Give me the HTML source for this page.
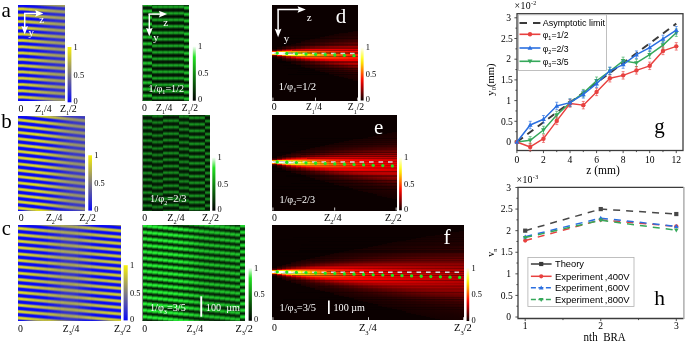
<!DOCTYPE html>
<html><head><meta charset="utf-8"><style>
html,body{margin:0;padding:0;background:#fff;width:685px;height:342px;overflow:hidden}
svg{display:block;will-change:transform}
.sf{font-family:"Liberation Serif",serif}
.ss{font-family:"Liberation Sans",sans-serif}
</style></head><body>
<svg width="685" height="342" viewBox="0 0 685 342" xmlns="http://www.w3.org/2000/svg">
<defs><linearGradient id="bb0" spreadMethod="repeat"><stop offset="0" stop-color="#0808f7"/><stop offset=".08" stop-color="#0808f7"/><stop offset=".17" stop-color="#1b1ae4"/><stop offset=".25" stop-color="#62609d"/><stop offset=".33" stop-color="#a8a557"/><stop offset=".42" stop-color="#d5d12a"/><stop offset=".5" stop-color="#e5e11a"/><stop offset=".58" stop-color="#d5d12a"/><stop offset=".67" stop-color="#a8a557"/><stop offset=".75" stop-color="#62609d"/><stop offset=".83" stop-color="#1b1ae4"/><stop offset=".92" stop-color="#0808f7"/><stop offset="1" stop-color="#0808f7"/></linearGradient>
<linearGradient id="b1" href="#bb0" gradientUnits="userSpaceOnUse" x1="0" x2="0" y1="5.75" y2="12.05"/>
<linearGradient id="b2" href="#bb0" gradientUnits="userSpaceOnUse" x1="0" x2="0" y1="5.75" y2="12.05"/>
<linearGradient id="b3" href="#bb0" gradientUnits="userSpaceOnUse" x1="0" x2="0" y1="5.75" y2="12.05"/>
<linearGradient id="bb1" spreadMethod="repeat"><stop offset="0" stop-color="#0808f7"/><stop offset=".08" stop-color="#0808f7"/><stop offset=".17" stop-color="#1e1ee1"/><stop offset=".25" stop-color="#62609d"/><stop offset=".33" stop-color="#a5a25a"/><stop offset=".42" stop-color="#d0cc2f"/><stop offset=".5" stop-color="#dfdb20"/><stop offset=".58" stop-color="#d0cc2f"/><stop offset=".67" stop-color="#a5a25a"/><stop offset=".75" stop-color="#62609d"/><stop offset=".83" stop-color="#1e1ee1"/><stop offset=".92" stop-color="#0808f7"/><stop offset="1" stop-color="#0808f7"/></linearGradient>
<linearGradient id="b4" href="#bb1" gradientUnits="userSpaceOnUse" x1="0" x2="0" y1="5.75" y2="12.05"/>
<linearGradient id="b5" href="#bb1" gradientUnits="userSpaceOnUse" x1="0" x2="0" y1="5.75" y2="12.05"/>
<linearGradient id="b6" href="#bb1" gradientUnits="userSpaceOnUse" x1="0" x2="0" y1="5.81" y2="12.11"/>
<linearGradient id="bb2" spreadMethod="repeat"><stop offset="0" stop-color="#0808f7"/><stop offset=".08" stop-color="#0808f7"/><stop offset=".17" stop-color="#2121de"/><stop offset=".25" stop-color="#62609d"/><stop offset=".33" stop-color="#a29e5d"/><stop offset=".42" stop-color="#cbc734"/><stop offset=".5" stop-color="#d9d526"/><stop offset=".58" stop-color="#cbc734"/><stop offset=".67" stop-color="#a29e5d"/><stop offset=".75" stop-color="#62609d"/><stop offset=".83" stop-color="#2121de"/><stop offset=".92" stop-color="#0808f7"/><stop offset="1" stop-color="#0808f7"/></linearGradient>
<linearGradient id="b7" href="#bb2" gradientUnits="userSpaceOnUse" x1="0" x2="0" y1="5.89" y2="12.19"/>
<linearGradient id="b8" href="#bb2" gradientUnits="userSpaceOnUse" x1="0" x2="0" y1="5.96" y2="12.26"/>
<linearGradient id="b9" href="#bb2" gradientUnits="userSpaceOnUse" x1="0" x2="0" y1="6.03" y2="12.33"/>
<linearGradient id="bb3" spreadMethod="repeat"><stop offset="0" stop-color="#0808f7"/><stop offset=".08" stop-color="#0808f7"/><stop offset=".17" stop-color="#2524da"/><stop offset=".25" stop-color="#62609d"/><stop offset=".33" stop-color="#9f9b60"/><stop offset=".42" stop-color="#c6c239"/><stop offset=".5" stop-color="#d3cf2c"/><stop offset=".58" stop-color="#c6c239"/><stop offset=".67" stop-color="#9f9b60"/><stop offset=".75" stop-color="#62609d"/><stop offset=".83" stop-color="#2524da"/><stop offset=".92" stop-color="#0808f7"/><stop offset="1" stop-color="#0808f7"/></linearGradient>
<linearGradient id="b10" href="#bb3" gradientUnits="userSpaceOnUse" x1="0" x2="0" y1="6.1" y2="12.4"/>
<linearGradient id="b11" href="#bb3" gradientUnits="userSpaceOnUse" x1="0" x2="0" y1="6.17" y2="12.47"/>
<linearGradient id="bb4" spreadMethod="repeat"><stop offset="0" stop-color="#0808f7"/><stop offset=".08" stop-color="#0808f7"/><stop offset=".17" stop-color="#2b2ad4"/><stop offset=".25" stop-color="#686597"/><stop offset=".33" stop-color="#a5a15a"/><stop offset=".42" stop-color="#ccc733"/><stop offset=".5" stop-color="#d9d526"/><stop offset=".58" stop-color="#ccc733"/><stop offset=".67" stop-color="#a5a15a"/><stop offset=".75" stop-color="#686597"/><stop offset=".83" stop-color="#2b2ad4"/><stop offset=".92" stop-color="#0808f7"/><stop offset="1" stop-color="#0808f7"/></linearGradient>
<linearGradient id="b12" href="#bb4" gradientUnits="userSpaceOnUse" x1="0" x2="0" y1="6.24" y2="12.54"/>
<linearGradient id="bb5" spreadMethod="repeat"><stop offset="0" stop-color="#0808f7"/><stop offset=".08" stop-color="#0909f6"/><stop offset=".17" stop-color="#2e2dd1"/><stop offset=".25" stop-color="#686597"/><stop offset=".33" stop-color="#a19e5e"/><stop offset=".42" stop-color="#c6c239"/><stop offset=".5" stop-color="#d3cf2c"/><stop offset=".58" stop-color="#c6c239"/><stop offset=".67" stop-color="#a19e5e"/><stop offset=".75" stop-color="#686597"/><stop offset=".83" stop-color="#2e2dd1"/><stop offset=".92" stop-color="#0909f6"/><stop offset="1" stop-color="#0808f7"/></linearGradient>
<linearGradient id="b13" href="#bb5" gradientUnits="userSpaceOnUse" x1="0" x2="0" y1="6.32" y2="12.62"/>
<linearGradient id="b14" href="#bb5" gradientUnits="userSpaceOnUse" x1="0" x2="0" y1="6.39" y2="12.69"/>
<linearGradient id="bb6" spreadMethod="repeat"><stop offset="0" stop-color="#0808f7"/><stop offset=".08" stop-color="#0e0ef1"/><stop offset=".17" stop-color="#3130ce"/><stop offset=".25" stop-color="#686597"/><stop offset=".33" stop-color="#9e9b61"/><stop offset=".42" stop-color="#c1bd3e"/><stop offset=".5" stop-color="#cdc932"/><stop offset=".58" stop-color="#c1bd3e"/><stop offset=".67" stop-color="#9e9b61"/><stop offset=".75" stop-color="#686597"/><stop offset=".83" stop-color="#3130ce"/><stop offset=".92" stop-color="#0e0ef1"/><stop offset="1" stop-color="#0808f7"/></linearGradient>
<linearGradient id="b15" href="#bb6" gradientUnits="userSpaceOnUse" x1="0" x2="0" y1="6.46" y2="12.76"/>
<linearGradient id="b16" href="#bb6" gradientUnits="userSpaceOnUse" x1="0" x2="0" y1="6.53" y2="12.83"/>
<linearGradient id="b17" href="#bb6" gradientUnits="userSpaceOnUse" x1="0" x2="0" y1="6.6" y2="12.9"/>
<linearGradient id="bb7" spreadMethod="repeat"><stop offset="0" stop-color="#0808f7"/><stop offset=".08" stop-color="#1313ec"/><stop offset=".17" stop-color="#3433cb"/><stop offset=".25" stop-color="#686597"/><stop offset=".33" stop-color="#9b9864"/><stop offset=".42" stop-color="#bcb843"/><stop offset=".5" stop-color="#c7c338"/><stop offset=".58" stop-color="#bcb843"/><stop offset=".67" stop-color="#9b9864"/><stop offset=".75" stop-color="#686597"/><stop offset=".83" stop-color="#3433cb"/><stop offset=".92" stop-color="#1313ec"/><stop offset="1" stop-color="#0808f7"/></linearGradient>
<linearGradient id="b18" href="#bb7" gradientUnits="userSpaceOnUse" x1="0" x2="0" y1="6.67" y2="12.97"/>
<linearGradient id="b19" href="#bb7" gradientUnits="userSpaceOnUse" x1="0" x2="0" y1="6.74" y2="13.04"/>
<linearGradient id="b20" href="#bb7" gradientUnits="userSpaceOnUse" x1="0" x2="0" y1="6.82" y2="13.12"/>
<linearGradient id="bb8" spreadMethod="repeat"><stop offset="0" stop-color="#0e0ef1"/><stop offset=".08" stop-color="#1918e6"/><stop offset=".17" stop-color="#3736c8"/><stop offset=".25" stop-color="#686597"/><stop offset=".33" stop-color="#989567"/><stop offset=".42" stop-color="#b7b348"/><stop offset=".5" stop-color="#c1bd3e"/><stop offset=".58" stop-color="#b7b348"/><stop offset=".67" stop-color="#989567"/><stop offset=".75" stop-color="#686597"/><stop offset=".83" stop-color="#3736c8"/><stop offset=".92" stop-color="#1918e6"/><stop offset="1" stop-color="#0e0ef1"/></linearGradient>
<linearGradient id="b21" href="#bb8" gradientUnits="userSpaceOnUse" x1="0" x2="0" y1="6.89" y2="13.19"/>
<linearGradient id="b22" href="#bb8" gradientUnits="userSpaceOnUse" x1="0" x2="0" y1="6.96" y2="13.26"/>
<linearGradient id="b23" href="#bb8" gradientUnits="userSpaceOnUse" x1="0" x2="0" y1="7.03" y2="13.33"/>
<linearGradient id="bb9" spreadMethod="repeat"><stop offset="0" stop-color="#1413eb"/><stop offset=".08" stop-color="#1e1de1"/><stop offset=".17" stop-color="#3b39c4"/><stop offset=".25" stop-color="#686597"/><stop offset=".33" stop-color="#94916b"/><stop offset=".42" stop-color="#b1ae4e"/><stop offset=".5" stop-color="#bbb844"/><stop offset=".58" stop-color="#b1ae4e"/><stop offset=".67" stop-color="#94916b"/><stop offset=".75" stop-color="#686597"/><stop offset=".83" stop-color="#3b39c4"/><stop offset=".92" stop-color="#1e1de1"/><stop offset="1" stop-color="#1413eb"/></linearGradient>
<linearGradient id="b24" href="#bb9" gradientUnits="userSpaceOnUse" x1="0" x2="0" y1="7.1" y2="13.4"/>
<linearGradient id="b25" href="#bb9" gradientUnits="userSpaceOnUse" x1="0" x2="0" y1="7.17" y2="13.47"/>
<linearGradient id="b26" href="#bb9" gradientUnits="userSpaceOnUse" x1="0" x2="0" y1="7.24" y2="13.54"/>
<linearGradient id="bb10" spreadMethod="repeat"><stop offset="0" stop-color="#1a19e5"/><stop offset=".08" stop-color="#2323dc"/><stop offset=".17" stop-color="#3e3dc1"/><stop offset=".25" stop-color="#686597"/><stop offset=".33" stop-color="#918e6e"/><stop offset=".42" stop-color="#aca853"/><stop offset=".5" stop-color="#b5b24a"/><stop offset=".58" stop-color="#aca853"/><stop offset=".67" stop-color="#918e6e"/><stop offset=".75" stop-color="#686597"/><stop offset=".83" stop-color="#3e3dc1"/><stop offset=".92" stop-color="#2323dc"/><stop offset="1" stop-color="#1a19e5"/></linearGradient>
<linearGradient id="b27" href="#bb10" gradientUnits="userSpaceOnUse" x1="0" x2="0" y1="7.32" y2="13.62"/>
<linearGradient id="b28" href="#bb10" gradientUnits="userSpaceOnUse" x1="0" x2="0" y1="7.39" y2="13.69"/>
<linearGradient id="b29" href="#bb10" gradientUnits="userSpaceOnUse" x1="0" x2="0" y1="7.46" y2="13.76"/>
<linearGradient id="bb11" spreadMethod="repeat"><stop offset="0" stop-color="#201fdf"/><stop offset=".08" stop-color="#2828d7"/><stop offset=".17" stop-color="#4140be"/><stop offset=".25" stop-color="#686597"/><stop offset=".33" stop-color="#8e8b71"/><stop offset=".42" stop-color="#a7a358"/><stop offset=".5" stop-color="#afac50"/><stop offset=".58" stop-color="#a7a358"/><stop offset=".67" stop-color="#8e8b71"/><stop offset=".75" stop-color="#686597"/><stop offset=".83" stop-color="#4140be"/><stop offset=".92" stop-color="#2828d7"/><stop offset="1" stop-color="#201fdf"/></linearGradient>
<linearGradient id="b30" href="#bb11" gradientUnits="userSpaceOnUse" x1="0" x2="0" y1="7.53" y2="13.83"/>
<linearGradient id="b31" href="#bb11" gradientUnits="userSpaceOnUse" x1="0" x2="0" y1="7.6" y2="13.9"/>
<linearGradient id="b32" href="#bb11" gradientUnits="userSpaceOnUse" x1="0" x2="0" y1="7.67" y2="13.97"/>
<linearGradient id="bb12" spreadMethod="repeat"><stop offset="0" stop-color="#2625d9"/><stop offset=".08" stop-color="#2e2dd1"/><stop offset=".17" stop-color="#4443bb"/><stop offset=".25" stop-color="#686597"/><stop offset=".33" stop-color="#8b8874"/><stop offset=".42" stop-color="#a19e5e"/><stop offset=".5" stop-color="#a9a656"/><stop offset=".58" stop-color="#a19e5e"/><stop offset=".67" stop-color="#8b8874"/><stop offset=".75" stop-color="#686597"/><stop offset=".83" stop-color="#4443bb"/><stop offset=".92" stop-color="#2e2dd1"/><stop offset="1" stop-color="#2625d9"/></linearGradient>
<linearGradient id="b33" href="#bb12" gradientUnits="userSpaceOnUse" x1="0" x2="0" y1="7.75" y2="14.05"/>
<linearGradient id="b34" href="#bb12" gradientUnits="userSpaceOnUse" x1="0" x2="0" y1="7.82" y2="14.12"/>
<linearGradient id="b35" href="#bb12" gradientUnits="userSpaceOnUse" x1="0" x2="0" y1="7.89" y2="14.19"/>
<linearGradient id="b36" href="#bb12" gradientUnits="userSpaceOnUse" x1="0" x2="0" y1="7.96" y2="14.26"/>
<linearGradient id="b37" href="#bb12" gradientUnits="userSpaceOnUse" x1="0" x2="0" y1="8.03" y2="14.33"/>
<linearGradient id="bb13" spreadMethod="repeat"><stop offset="0" stop-color="#2c2bd3"/><stop offset=".08" stop-color="#3332cc"/><stop offset=".17" stop-color="#4746b8"/><stop offset=".25" stop-color="#686597"/><stop offset=".33" stop-color="#888577"/><stop offset=".42" stop-color="#9c9963"/><stop offset=".5" stop-color="#a3a05c"/><stop offset=".58" stop-color="#9c9963"/><stop offset=".67" stop-color="#888577"/><stop offset=".75" stop-color="#686597"/><stop offset=".83" stop-color="#4746b8"/><stop offset=".92" stop-color="#3332cc"/><stop offset="1" stop-color="#2c2bd3"/></linearGradient>
<linearGradient id="b38" href="#bb13" gradientUnits="userSpaceOnUse" x1="0" x2="0" y1="8.1" y2="14.4"/>
<linearGradient id="b39" href="#bb13" gradientUnits="userSpaceOnUse" x1="0" x2="0" y1="8.17" y2="14.47"/>
<linearGradient id="b40" href="#bb13" gradientUnits="userSpaceOnUse" x1="0" x2="0" y1="8.25" y2="14.55"/>
<linearGradient id="b41" href="#bb13" gradientUnits="userSpaceOnUse" x1="0" x2="0" y1="8.32" y2="14.62"/>
<linearGradient id="b42" href="#bb13" gradientUnits="userSpaceOnUse" x1="0" x2="0" y1="8.39" y2="14.69"/>
<linearGradient id="b43" href="#bb13" gradientUnits="userSpaceOnUse" x1="0" x2="0" y1="8.46" y2="14.76"/>
<linearGradient id="b44" href="#bb13" gradientUnits="userSpaceOnUse" x1="0" x2="0" y1="8.53" y2="14.83"/>
<linearGradient id="b45" href="#bb13" gradientUnits="userSpaceOnUse" x1="0" x2="0" y1="8.6" y2="14.9"/>
<linearGradient id="b46" href="#bb13" gradientUnits="userSpaceOnUse" x1="0" x2="0" y1="8.68" y2="14.98"/>
<linearGradient id="b47" href="#bb0" gradientUnits="userSpaceOnUse" x1="0" x2="0" y1="116.7" y2="123"/>
<linearGradient id="b48" href="#bb0" gradientUnits="userSpaceOnUse" x1="0" x2="0" y1="116.81" y2="123.11"/>
<linearGradient id="b49" href="#bb0" gradientUnits="userSpaceOnUse" x1="0" x2="0" y1="116.92" y2="123.22"/>
<linearGradient id="b50" href="#bb0" gradientUnits="userSpaceOnUse" x1="0" x2="0" y1="117.03" y2="123.33"/>
<linearGradient id="b51" href="#bb0" gradientUnits="userSpaceOnUse" x1="0" x2="0" y1="117.14" y2="123.44"/>
<linearGradient id="b52" href="#bb0" gradientUnits="userSpaceOnUse" x1="0" x2="0" y1="117.24" y2="123.54"/>
<linearGradient id="b53" href="#bb0" gradientUnits="userSpaceOnUse" x1="0" x2="0" y1="117.35" y2="123.65"/>
<linearGradient id="b54" href="#bb0" gradientUnits="userSpaceOnUse" x1="0" x2="0" y1="117.46" y2="123.76"/>
<linearGradient id="b55" href="#bb0" gradientUnits="userSpaceOnUse" x1="0" x2="0" y1="117.57" y2="123.87"/>
<linearGradient id="b56" href="#bb0" gradientUnits="userSpaceOnUse" x1="0" x2="0" y1="117.68" y2="123.98"/>
<linearGradient id="b57" href="#bb0" gradientUnits="userSpaceOnUse" x1="0" x2="0" y1="117.79" y2="124.09"/>
<linearGradient id="b58" href="#bb0" gradientUnits="userSpaceOnUse" x1="0" x2="0" y1="117.89" y2="124.19"/>
<linearGradient id="b59" href="#bb0" gradientUnits="userSpaceOnUse" x1="0" x2="0" y1="118" y2="124.3"/>
<linearGradient id="b60" href="#bb0" gradientUnits="userSpaceOnUse" x1="0" x2="0" y1="118.11" y2="124.41"/>
<linearGradient id="b61" href="#bb0" gradientUnits="userSpaceOnUse" x1="0" x2="0" y1="118.22" y2="124.52"/>
<linearGradient id="b62" href="#bb0" gradientUnits="userSpaceOnUse" x1="0" x2="0" y1="118.33" y2="124.63"/>
<linearGradient id="b63" href="#bb1" gradientUnits="userSpaceOnUse" x1="0" x2="0" y1="118.43" y2="124.73"/>
<linearGradient id="bb14" spreadMethod="repeat"><stop offset="0" stop-color="#0808f7"/><stop offset=".08" stop-color="#0808f7"/><stop offset=".17" stop-color="#2423db"/><stop offset=".25" stop-color="#686597"/><stop offset=".33" stop-color="#aba754"/><stop offset=".42" stop-color="#d6d229"/><stop offset=".5" stop-color="#e5e11a"/><stop offset=".58" stop-color="#d6d229"/><stop offset=".67" stop-color="#aba754"/><stop offset=".75" stop-color="#686597"/><stop offset=".83" stop-color="#2423db"/><stop offset=".92" stop-color="#0808f7"/><stop offset="1" stop-color="#0808f7"/></linearGradient>
<linearGradient id="b64" href="#bb14" gradientUnits="userSpaceOnUse" x1="0" x2="0" y1="118.54" y2="124.84"/>
<linearGradient id="b65" href="#bb14" gradientUnits="userSpaceOnUse" x1="0" x2="0" y1="118.65" y2="124.95"/>
<linearGradient id="b66" href="#bb14" gradientUnits="userSpaceOnUse" x1="0" x2="0" y1="118.76" y2="125.06"/>
<linearGradient id="b67" href="#bb14" gradientUnits="userSpaceOnUse" x1="0" x2="0" y1="118.87" y2="125.17"/>
<linearGradient id="bb15" spreadMethod="repeat"><stop offset="0" stop-color="#0808f7"/><stop offset=".08" stop-color="#0808f7"/><stop offset=".17" stop-color="#2727d8"/><stop offset=".25" stop-color="#686597"/><stop offset=".33" stop-color="#a8a457"/><stop offset=".42" stop-color="#d1cd2e"/><stop offset=".5" stop-color="#dfdb20"/><stop offset=".58" stop-color="#d1cd2e"/><stop offset=".67" stop-color="#a8a457"/><stop offset=".75" stop-color="#686597"/><stop offset=".83" stop-color="#2727d8"/><stop offset=".92" stop-color="#0808f7"/><stop offset="1" stop-color="#0808f7"/></linearGradient>
<linearGradient id="b68" href="#bb15" gradientUnits="userSpaceOnUse" x1="0" x2="0" y1="118.97" y2="125.27"/>
<linearGradient id="b69" href="#bb15" gradientUnits="userSpaceOnUse" x1="0" x2="0" y1="119.08" y2="125.38"/>
<linearGradient id="b70" href="#bb15" gradientUnits="userSpaceOnUse" x1="0" x2="0" y1="119.19" y2="125.49"/>
<linearGradient id="b71" href="#bb4" gradientUnits="userSpaceOnUse" x1="0" x2="0" y1="119.3" y2="125.6"/>
<linearGradient id="b72" href="#bb4" gradientUnits="userSpaceOnUse" x1="0" x2="0" y1="119.41" y2="125.71"/>
<linearGradient id="b73" href="#bb4" gradientUnits="userSpaceOnUse" x1="0" x2="0" y1="119.52" y2="125.82"/>
<linearGradient id="b74" href="#bb5" gradientUnits="userSpaceOnUse" x1="0" x2="0" y1="119.62" y2="125.92"/>
<linearGradient id="b75" href="#bb5" gradientUnits="userSpaceOnUse" x1="0" x2="0" y1="119.73" y2="126.03"/>
<linearGradient id="b76" href="#bb5" gradientUnits="userSpaceOnUse" x1="0" x2="0" y1="119.84" y2="126.14"/>
<linearGradient id="b77" href="#bb6" gradientUnits="userSpaceOnUse" x1="0" x2="0" y1="119.95" y2="126.25"/>
<linearGradient id="b78" href="#bb6" gradientUnits="userSpaceOnUse" x1="0" x2="0" y1="120.06" y2="126.36"/>
<linearGradient id="b79" href="#bb6" gradientUnits="userSpaceOnUse" x1="0" x2="0" y1="120.16" y2="126.46"/>
<linearGradient id="b80" href="#bb7" gradientUnits="userSpaceOnUse" x1="0" x2="0" y1="120.27" y2="126.57"/>
<linearGradient id="b81" href="#bb7" gradientUnits="userSpaceOnUse" x1="0" x2="0" y1="120.38" y2="126.68"/>
<linearGradient id="b82" href="#bb8" gradientUnits="userSpaceOnUse" x1="0" x2="0" y1="120.49" y2="126.79"/>
<linearGradient id="b83" href="#bb8" gradientUnits="userSpaceOnUse" x1="0" x2="0" y1="120.6" y2="126.9"/>
<linearGradient id="b84" href="#bb8" gradientUnits="userSpaceOnUse" x1="0" x2="0" y1="120.71" y2="127.01"/>
<linearGradient id="b85" href="#bb9" gradientUnits="userSpaceOnUse" x1="0" x2="0" y1="120.81" y2="127.11"/>
<linearGradient id="b86" href="#bb9" gradientUnits="userSpaceOnUse" x1="0" x2="0" y1="120.92" y2="127.22"/>
<linearGradient id="b87" href="#bb10" gradientUnits="userSpaceOnUse" x1="0" x2="0" y1="121.03" y2="127.33"/>
<linearGradient id="b88" href="#bb10" gradientUnits="userSpaceOnUse" x1="0" x2="0" y1="121.14" y2="127.44"/>
<linearGradient id="b89" href="#bb10" gradientUnits="userSpaceOnUse" x1="0" x2="0" y1="121.25" y2="127.55"/>
<linearGradient id="b90" href="#bb11" gradientUnits="userSpaceOnUse" x1="0" x2="0" y1="121.35" y2="127.65"/>
<linearGradient id="b91" href="#bb11" gradientUnits="userSpaceOnUse" x1="0" x2="0" y1="121.46" y2="127.76"/>
<linearGradient id="b92" href="#bb12" gradientUnits="userSpaceOnUse" x1="0" x2="0" y1="121.57" y2="127.87"/>
<linearGradient id="b93" href="#bb12" gradientUnits="userSpaceOnUse" x1="0" x2="0" y1="121.68" y2="127.98"/>
<linearGradient id="b94" href="#bb12" gradientUnits="userSpaceOnUse" x1="0" x2="0" y1="121.79" y2="128.09"/>
<linearGradient id="b95" href="#bb13" gradientUnits="userSpaceOnUse" x1="0" x2="0" y1="121.89" y2="128.19"/>
<linearGradient id="b96" href="#bb13" gradientUnits="userSpaceOnUse" x1="0" x2="0" y1="122" y2="128.3"/>
<linearGradient id="b97" href="#bb13" gradientUnits="userSpaceOnUse" x1="0" x2="0" y1="122.11" y2="128.41"/>
<linearGradient id="bb16" spreadMethod="repeat"><stop offset="0" stop-color="#3231cd"/><stop offset=".08" stop-color="#3837c7"/><stop offset=".17" stop-color="#4b49b4"/><stop offset=".25" stop-color="#686597"/><stop offset=".33" stop-color="#84827b"/><stop offset=".42" stop-color="#979468"/><stop offset=".5" stop-color="#9d9a62"/><stop offset=".58" stop-color="#979468"/><stop offset=".67" stop-color="#84827b"/><stop offset=".75" stop-color="#686597"/><stop offset=".83" stop-color="#4b49b4"/><stop offset=".92" stop-color="#3837c7"/><stop offset="1" stop-color="#3231cd"/></linearGradient>
<linearGradient id="b98" href="#bb16" gradientUnits="userSpaceOnUse" x1="0" x2="0" y1="122.22" y2="128.52"/>
<linearGradient id="b99" href="#bb16" gradientUnits="userSpaceOnUse" x1="0" x2="0" y1="122.33" y2="128.63"/>
<linearGradient id="b100" href="#bb16" gradientUnits="userSpaceOnUse" x1="0" x2="0" y1="122.44" y2="128.74"/>
<linearGradient id="b101" href="#bb16" gradientUnits="userSpaceOnUse" x1="0" x2="0" y1="122.54" y2="128.84"/>
<linearGradient id="bb17" spreadMethod="repeat"><stop offset="0" stop-color="#3837c7"/><stop offset=".08" stop-color="#3d3cc2"/><stop offset=".17" stop-color="#4e4cb1"/><stop offset=".25" stop-color="#686597"/><stop offset=".33" stop-color="#817f7e"/><stop offset=".42" stop-color="#928f6d"/><stop offset=".5" stop-color="#979468"/><stop offset=".58" stop-color="#928f6d"/><stop offset=".67" stop-color="#817f7e"/><stop offset=".75" stop-color="#686597"/><stop offset=".83" stop-color="#4e4cb1"/><stop offset=".92" stop-color="#3d3cc2"/><stop offset="1" stop-color="#3837c7"/></linearGradient>
<linearGradient id="b102" href="#bb17" gradientUnits="userSpaceOnUse" x1="0" x2="0" y1="122.65" y2="128.95"/>
<linearGradient id="b103" href="#bb17" gradientUnits="userSpaceOnUse" x1="0" x2="0" y1="122.76" y2="129.06"/>
<linearGradient id="b104" href="#bb17" gradientUnits="userSpaceOnUse" x1="0" x2="0" y1="122.87" y2="129.17"/>
<linearGradient id="b105" href="#bb17" gradientUnits="userSpaceOnUse" x1="0" x2="0" y1="122.98" y2="129.28"/>
<linearGradient id="b106" href="#bb17" gradientUnits="userSpaceOnUse" x1="0" x2="0" y1="123.08" y2="129.38"/>
<linearGradient id="b107" href="#bb17" gradientUnits="userSpaceOnUse" x1="0" x2="0" y1="123.19" y2="129.49"/>
<linearGradient id="b108" href="#bb17" gradientUnits="userSpaceOnUse" x1="0" x2="0" y1="123.3" y2="129.6"/>
<linearGradient id="b109" href="#bb17" gradientUnits="userSpaceOnUse" x1="0" x2="0" y1="123.41" y2="129.71"/>
<linearGradient id="b110" href="#bb17" gradientUnits="userSpaceOnUse" x1="0" x2="0" y1="123.52" y2="129.82"/>
<linearGradient id="b111" href="#bb17" gradientUnits="userSpaceOnUse" x1="0" x2="0" y1="123.62" y2="129.92"/>
<linearGradient id="b112" href="#bb17" gradientUnits="userSpaceOnUse" x1="0" x2="0" y1="123.73" y2="130.03"/>
<linearGradient id="b113" href="#bb17" gradientUnits="userSpaceOnUse" x1="0" x2="0" y1="123.84" y2="130.14"/>
<linearGradient id="b114" href="#bb0" gradientUnits="userSpaceOnUse" x1="0" x2="0" y1="225.14" y2="231.54"/>
<linearGradient id="b115" href="#bb0" gradientUnits="userSpaceOnUse" x1="0" x2="0" y1="225.23" y2="231.63"/>
<linearGradient id="b116" href="#bb0" gradientUnits="userSpaceOnUse" x1="0" x2="0" y1="225.32" y2="231.72"/>
<linearGradient id="b117" href="#bb0" gradientUnits="userSpaceOnUse" x1="0" x2="0" y1="225.4" y2="231.8"/>
<linearGradient id="b118" href="#bb0" gradientUnits="userSpaceOnUse" x1="0" x2="0" y1="225.49" y2="231.89"/>
<linearGradient id="b119" href="#bb1" gradientUnits="userSpaceOnUse" x1="0" x2="0" y1="225.58" y2="231.98"/>
<linearGradient id="b120" href="#bb1" gradientUnits="userSpaceOnUse" x1="0" x2="0" y1="225.67" y2="232.07"/>
<linearGradient id="b121" href="#bb1" gradientUnits="userSpaceOnUse" x1="0" x2="0" y1="225.75" y2="232.15"/>
<linearGradient id="b122" href="#bb1" gradientUnits="userSpaceOnUse" x1="0" x2="0" y1="225.84" y2="232.24"/>
<linearGradient id="b123" href="#bb2" gradientUnits="userSpaceOnUse" x1="0" x2="0" y1="225.93" y2="232.33"/>
<linearGradient id="b124" href="#bb2" gradientUnits="userSpaceOnUse" x1="0" x2="0" y1="226.01" y2="232.41"/>
<linearGradient id="b125" href="#bb2" gradientUnits="userSpaceOnUse" x1="0" x2="0" y1="226.1" y2="232.5"/>
<linearGradient id="b126" href="#bb2" gradientUnits="userSpaceOnUse" x1="0" x2="0" y1="226.19" y2="232.59"/>
<linearGradient id="b127" href="#bb3" gradientUnits="userSpaceOnUse" x1="0" x2="0" y1="226.27" y2="232.67"/>
<linearGradient id="b128" href="#bb3" gradientUnits="userSpaceOnUse" x1="0" x2="0" y1="226.36" y2="232.76"/>
<linearGradient id="b129" href="#bb3" gradientUnits="userSpaceOnUse" x1="0" x2="0" y1="226.45" y2="232.85"/>
<linearGradient id="bb18" spreadMethod="repeat"><stop offset="0" stop-color="#0808f7"/><stop offset=".08" stop-color="#0808f7"/><stop offset=".17" stop-color="#2827d7"/><stop offset=".25" stop-color="#62609d"/><stop offset=".33" stop-color="#9b9864"/><stop offset=".42" stop-color="#c0bc3f"/><stop offset=".5" stop-color="#cdc932"/><stop offset=".58" stop-color="#c0bc3f"/><stop offset=".67" stop-color="#9b9864"/><stop offset=".75" stop-color="#62609d"/><stop offset=".83" stop-color="#2827d7"/><stop offset=".92" stop-color="#0808f7"/><stop offset="1" stop-color="#0808f7"/></linearGradient>
<linearGradient id="b130" href="#bb18" gradientUnits="userSpaceOnUse" x1="0" x2="0" y1="226.54" y2="232.94"/>
<linearGradient id="b131" href="#bb18" gradientUnits="userSpaceOnUse" x1="0" x2="0" y1="226.62" y2="233.02"/>
<linearGradient id="b132" href="#bb18" gradientUnits="userSpaceOnUse" x1="0" x2="0" y1="226.71" y2="233.11"/>
<linearGradient id="b133" href="#bb18" gradientUnits="userSpaceOnUse" x1="0" x2="0" y1="226.8" y2="233.2"/>
<linearGradient id="b134" href="#bb18" gradientUnits="userSpaceOnUse" x1="0" x2="0" y1="226.88" y2="233.28"/>
<linearGradient id="bb19" spreadMethod="repeat"><stop offset="0" stop-color="#0808f7"/><stop offset=".08" stop-color="#0808f7"/><stop offset=".17" stop-color="#2b2ad4"/><stop offset=".25" stop-color="#62609d"/><stop offset=".33" stop-color="#989567"/><stop offset=".42" stop-color="#bbb744"/><stop offset=".5" stop-color="#c7c338"/><stop offset=".58" stop-color="#bbb744"/><stop offset=".67" stop-color="#989567"/><stop offset=".75" stop-color="#62609d"/><stop offset=".83" stop-color="#2b2ad4"/><stop offset=".92" stop-color="#0808f7"/><stop offset="1" stop-color="#0808f7"/></linearGradient>
<linearGradient id="b135" href="#bb19" gradientUnits="userSpaceOnUse" x1="0" x2="0" y1="226.97" y2="233.37"/>
<linearGradient id="b136" href="#bb19" gradientUnits="userSpaceOnUse" x1="0" x2="0" y1="227.06" y2="233.46"/>
<linearGradient id="b137" href="#bb19" gradientUnits="userSpaceOnUse" x1="0" x2="0" y1="227.14" y2="233.54"/>
<linearGradient id="b138" href="#bb19" gradientUnits="userSpaceOnUse" x1="0" x2="0" y1="227.23" y2="233.63"/>
<linearGradient id="b139" href="#bb19" gradientUnits="userSpaceOnUse" x1="0" x2="0" y1="227.32" y2="233.72"/>
<linearGradient id="bb20" spreadMethod="repeat"><stop offset="0" stop-color="#0808f7"/><stop offset=".08" stop-color="#0d0df2"/><stop offset=".17" stop-color="#2e2dd1"/><stop offset=".25" stop-color="#62609d"/><stop offset=".33" stop-color="#95926a"/><stop offset=".42" stop-color="#b6b249"/><stop offset=".5" stop-color="#c1bd3e"/><stop offset=".58" stop-color="#b6b249"/><stop offset=".67" stop-color="#95926a"/><stop offset=".75" stop-color="#62609d"/><stop offset=".83" stop-color="#2e2dd1"/><stop offset=".92" stop-color="#0d0df2"/><stop offset="1" stop-color="#0808f7"/></linearGradient>
<linearGradient id="b140" href="#bb20" gradientUnits="userSpaceOnUse" x1="0" x2="0" y1="227.41" y2="233.81"/>
<linearGradient id="b141" href="#bb20" gradientUnits="userSpaceOnUse" x1="0" x2="0" y1="227.49" y2="233.89"/>
<linearGradient id="b142" href="#bb20" gradientUnits="userSpaceOnUse" x1="0" x2="0" y1="227.58" y2="233.98"/>
<linearGradient id="bb21" spreadMethod="repeat"><stop offset="0" stop-color="#0808f7"/><stop offset=".08" stop-color="#1312ec"/><stop offset=".17" stop-color="#3130ce"/><stop offset=".25" stop-color="#62609d"/><stop offset=".33" stop-color="#928f6d"/><stop offset=".42" stop-color="#b1ad4e"/><stop offset=".5" stop-color="#bbb844"/><stop offset=".58" stop-color="#b1ad4e"/><stop offset=".67" stop-color="#928f6d"/><stop offset=".75" stop-color="#62609d"/><stop offset=".83" stop-color="#3130ce"/><stop offset=".92" stop-color="#1312ec"/><stop offset="1" stop-color="#0808f7"/></linearGradient>
<linearGradient id="b143" href="#bb21" gradientUnits="userSpaceOnUse" x1="0" x2="0" y1="227.67" y2="234.07"/>
<linearGradient id="b144" href="#bb8" gradientUnits="userSpaceOnUse" x1="0" x2="0" y1="227.75" y2="234.15"/>
<linearGradient id="b145" href="#bb8" gradientUnits="userSpaceOnUse" x1="0" x2="0" y1="227.84" y2="234.24"/>
<linearGradient id="b146" href="#bb8" gradientUnits="userSpaceOnUse" x1="0" x2="0" y1="227.93" y2="234.33"/>
<linearGradient id="b147" href="#bb9" gradientUnits="userSpaceOnUse" x1="0" x2="0" y1="228.01" y2="234.41"/>
<linearGradient id="b148" href="#bb9" gradientUnits="userSpaceOnUse" x1="0" x2="0" y1="228.1" y2="234.5"/>
<linearGradient id="b149" href="#bb9" gradientUnits="userSpaceOnUse" x1="0" x2="0" y1="228.19" y2="234.59"/>
<linearGradient id="b150" href="#bb10" gradientUnits="userSpaceOnUse" x1="0" x2="0" y1="228.28" y2="234.68"/>
<linearGradient id="b151" href="#bb10" gradientUnits="userSpaceOnUse" x1="0" x2="0" y1="228.36" y2="234.76"/>
<linearGradient id="b152" href="#bb10" gradientUnits="userSpaceOnUse" x1="0" x2="0" y1="228.45" y2="234.85"/>
<linearGradient id="b153" href="#bb11" gradientUnits="userSpaceOnUse" x1="0" x2="0" y1="228.54" y2="234.94"/>
<linearGradient id="b154" href="#bb11" gradientUnits="userSpaceOnUse" x1="0" x2="0" y1="228.62" y2="235.02"/>
<linearGradient id="b155" href="#bb11" gradientUnits="userSpaceOnUse" x1="0" x2="0" y1="228.71" y2="235.11"/>
<linearGradient id="b156" href="#bb12" gradientUnits="userSpaceOnUse" x1="0" x2="0" y1="228.8" y2="235.2"/>
<linearGradient id="bb22" spreadMethod="repeat"><stop offset="0" stop-color="#2c2bd3"/><stop offset=".08" stop-color="#3433cb"/><stop offset=".17" stop-color="#4a49b5"/><stop offset=".25" stop-color="#6e6b91"/><stop offset=".33" stop-color="#918e6e"/><stop offset=".42" stop-color="#a7a458"/><stop offset=".5" stop-color="#afac50"/><stop offset=".58" stop-color="#a7a458"/><stop offset=".67" stop-color="#918e6e"/><stop offset=".75" stop-color="#6e6b91"/><stop offset=".83" stop-color="#4a49b5"/><stop offset=".92" stop-color="#3433cb"/><stop offset="1" stop-color="#2c2bd3"/></linearGradient>
<linearGradient id="b157" href="#bb22" gradientUnits="userSpaceOnUse" x1="0" x2="0" y1="228.88" y2="235.28"/>
<linearGradient id="b158" href="#bb22" gradientUnits="userSpaceOnUse" x1="0" x2="0" y1="228.97" y2="235.37"/>
<linearGradient id="b159" href="#bb22" gradientUnits="userSpaceOnUse" x1="0" x2="0" y1="229.06" y2="235.46"/>
<linearGradient id="bb23" spreadMethod="repeat"><stop offset="0" stop-color="#3231cd"/><stop offset=".08" stop-color="#3938c6"/><stop offset=".17" stop-color="#4d4cb2"/><stop offset=".25" stop-color="#6e6b91"/><stop offset=".33" stop-color="#8e8b71"/><stop offset=".42" stop-color="#a29f5d"/><stop offset=".5" stop-color="#a9a656"/><stop offset=".58" stop-color="#a29f5d"/><stop offset=".67" stop-color="#8e8b71"/><stop offset=".75" stop-color="#6e6b91"/><stop offset=".83" stop-color="#4d4cb2"/><stop offset=".92" stop-color="#3938c6"/><stop offset="1" stop-color="#3231cd"/></linearGradient>
<linearGradient id="b160" href="#bb23" gradientUnits="userSpaceOnUse" x1="0" x2="0" y1="229.15" y2="235.55"/>
<linearGradient id="b161" href="#bb23" gradientUnits="userSpaceOnUse" x1="0" x2="0" y1="229.23" y2="235.63"/>
<linearGradient id="b162" href="#bb23" gradientUnits="userSpaceOnUse" x1="0" x2="0" y1="229.32" y2="235.72"/>
<linearGradient id="b163" href="#bb23" gradientUnits="userSpaceOnUse" x1="0" x2="0" y1="229.41" y2="235.81"/>
<linearGradient id="b164" href="#bb23" gradientUnits="userSpaceOnUse" x1="0" x2="0" y1="229.49" y2="235.89"/>
<linearGradient id="b165" href="#bb23" gradientUnits="userSpaceOnUse" x1="0" x2="0" y1="229.58" y2="235.98"/>
<linearGradient id="b166" href="#bb23" gradientUnits="userSpaceOnUse" x1="0" x2="0" y1="229.67" y2="236.07"/>
<linearGradient id="b167" href="#bb23" gradientUnits="userSpaceOnUse" x1="0" x2="0" y1="229.75" y2="236.15"/>
<linearGradient id="b168" href="#bb23" gradientUnits="userSpaceOnUse" x1="0" x2="0" y1="229.84" y2="236.24"/>
<linearGradient id="b169" href="#bb23" gradientUnits="userSpaceOnUse" x1="0" x2="0" y1="229.93" y2="236.33"/>
<linearGradient id="b170" href="#bb23" gradientUnits="userSpaceOnUse" x1="0" x2="0" y1="230.01" y2="236.41"/>
<linearGradient id="b171" href="#bb22" gradientUnits="userSpaceOnUse" x1="0" x2="0" y1="230.1" y2="236.5"/>
<linearGradient id="b172" href="#bb22" gradientUnits="userSpaceOnUse" x1="0" x2="0" y1="230.19" y2="236.59"/>
<linearGradient id="b173" href="#bb22" gradientUnits="userSpaceOnUse" x1="0" x2="0" y1="230.28" y2="236.68"/>
<linearGradient id="b174" href="#bb12" gradientUnits="userSpaceOnUse" x1="0" x2="0" y1="230.36" y2="236.76"/>
<linearGradient id="b175" href="#bb11" gradientUnits="userSpaceOnUse" x1="0" x2="0" y1="230.45" y2="236.85"/>
<linearGradient id="b176" href="#bb11" gradientUnits="userSpaceOnUse" x1="0" x2="0" y1="230.54" y2="236.94"/>
<linearGradient id="b177" href="#bb11" gradientUnits="userSpaceOnUse" x1="0" x2="0" y1="230.62" y2="237.02"/>
<linearGradient id="b178" href="#bb10" gradientUnits="userSpaceOnUse" x1="0" x2="0" y1="230.71" y2="237.11"/>
<linearGradient id="b179" href="#bb10" gradientUnits="userSpaceOnUse" x1="0" x2="0" y1="230.8" y2="237.2"/>
<linearGradient id="b180" href="#bb10" gradientUnits="userSpaceOnUse" x1="0" x2="0" y1="230.88" y2="237.28"/>
<linearGradient id="b181" href="#bb9" gradientUnits="userSpaceOnUse" x1="0" x2="0" y1="230.97" y2="237.37"/>
<linearGradient id="b182" href="#bb9" gradientUnits="userSpaceOnUse" x1="0" x2="0" y1="231.06" y2="237.46"/>
<linearGradient id="b183" href="#bb9" gradientUnits="userSpaceOnUse" x1="0" x2="0" y1="231.15" y2="237.55"/>
<linearGradient id="b184" href="#bb8" gradientUnits="userSpaceOnUse" x1="0" x2="0" y1="231.23" y2="237.63"/>
<linearGradient id="b185" href="#bb8" gradientUnits="userSpaceOnUse" x1="0" x2="0" y1="231.32" y2="237.72"/>
<linearGradient id="b186" href="#bb8" gradientUnits="userSpaceOnUse" x1="0" x2="0" y1="231.41" y2="237.81"/>
<linearGradient id="b187" href="#bb21" gradientUnits="userSpaceOnUse" x1="0" x2="0" y1="231.49" y2="237.89"/>
<linearGradient id="b188" href="#bb20" gradientUnits="userSpaceOnUse" x1="0" x2="0" y1="231.58" y2="237.98"/>
<linearGradient id="b189" href="#bb20" gradientUnits="userSpaceOnUse" x1="0" x2="0" y1="231.67" y2="238.07"/>
<linearGradient id="b190" href="#bb20" gradientUnits="userSpaceOnUse" x1="0" x2="0" y1="231.75" y2="238.15"/>
<linearGradient id="b191" href="#bb19" gradientUnits="userSpaceOnUse" x1="0" x2="0" y1="231.84" y2="238.24"/>
<linearGradient id="b192" href="#bb19" gradientUnits="userSpaceOnUse" x1="0" x2="0" y1="231.93" y2="238.33"/>
<linearGradient id="b193" href="#bb19" gradientUnits="userSpaceOnUse" x1="0" x2="0" y1="232.02" y2="238.42"/>
<linearGradient id="b194" href="#bb19" gradientUnits="userSpaceOnUse" x1="0" x2="0" y1="232.1" y2="238.5"/>
<linearGradient id="b195" href="#bb19" gradientUnits="userSpaceOnUse" x1="0" x2="0" y1="232.19" y2="238.59"/>
<linearGradient id="b196" href="#bb18" gradientUnits="userSpaceOnUse" x1="0" x2="0" y1="232.28" y2="238.68"/>
<linearGradient id="b197" href="#bb18" gradientUnits="userSpaceOnUse" x1="0" x2="0" y1="232.36" y2="238.76"/>
<linearGradient id="b198" href="#bb18" gradientUnits="userSpaceOnUse" x1="0" x2="0" y1="232.45" y2="238.85"/>
<linearGradient id="b199" href="#bb18" gradientUnits="userSpaceOnUse" x1="0" x2="0" y1="232.54" y2="238.94"/>
<linearGradient id="b200" href="#bb18" gradientUnits="userSpaceOnUse" x1="0" x2="0" y1="232.62" y2="239.02"/>
<linearGradient id="b201" href="#bb18" gradientUnits="userSpaceOnUse" x1="0" x2="0" y1="232.71" y2="239.11"/>
<linearGradient id="b202" href="#bb18" gradientUnits="userSpaceOnUse" x1="0" x2="0" y1="232.8" y2="239.2"/>
<linearGradient id="b203" href="#bb18" gradientUnits="userSpaceOnUse" x1="0" x2="0" y1="232.89" y2="239.29"/>
<linearGradient id="b204" href="#bb3" gradientUnits="userSpaceOnUse" x1="0" x2="0" y1="232.97" y2="239.37"/>
<linearGradient id="b205" href="#bb3" gradientUnits="userSpaceOnUse" x1="0" x2="0" y1="233.06" y2="239.46"/>
<linearGradient id="b206" href="#bb3" gradientUnits="userSpaceOnUse" x1="0" x2="0" y1="233.15" y2="239.55"/>
<linearGradient id="b207" href="#bb3" gradientUnits="userSpaceOnUse" x1="0" x2="0" y1="233.23" y2="239.63"/>
<linearGradient id="b208" href="#bb3" gradientUnits="userSpaceOnUse" x1="0" x2="0" y1="233.32" y2="239.72"/>
<linearGradient id="b209" href="#bb3" gradientUnits="userSpaceOnUse" x1="0" x2="0" y1="233.41" y2="239.81"/>
<linearGradient id="b210" href="#bb3" gradientUnits="userSpaceOnUse" x1="0" x2="0" y1="233.49" y2="239.89"/>
<linearGradient id="b211" href="#bb3" gradientUnits="userSpaceOnUse" x1="0" x2="0" y1="233.58" y2="239.98"/>
<linearGradient id="b212" href="#bb3" gradientUnits="userSpaceOnUse" x1="0" x2="0" y1="233.67" y2="240.07"/>
<linearGradient id="b213" href="#bb3" gradientUnits="userSpaceOnUse" x1="0" x2="0" y1="233.76" y2="240.16"/>
<linearGradient id="b214" href="#bb3" gradientUnits="userSpaceOnUse" x1="0" x2="0" y1="233.84" y2="240.24"/>
<linearGradient id="b215" href="#bb3" gradientUnits="userSpaceOnUse" x1="0" x2="0" y1="233.93" y2="240.33"/>
<linearGradient id="b216" href="#bb3" gradientUnits="userSpaceOnUse" x1="0" x2="0" y1="234.02" y2="240.42"/>
<linearGradient id="gr217" gradientUnits="userSpaceOnUse" x1="0" x2="0" y1="1.45" y2="7.95" spreadMethod="repeat"><stop offset="0" stop-color="#031404"/><stop offset=".1" stop-color="#062809"/><stop offset=".2" stop-color="#0c4e11"/><stop offset=".3" stop-color="#15811c"/><stop offset=".4" stop-color="#1cb127"/><stop offset=".5" stop-color="#20c52b"/><stop offset=".6" stop-color="#1cb127"/><stop offset=".7" stop-color="#15811c"/><stop offset=".8" stop-color="#0c4e11"/><stop offset=".9" stop-color="#062809"/><stop offset="1" stop-color="#031404"/></linearGradient>
<linearGradient id="gr218" gradientUnits="userSpaceOnUse" x1="0" x2="0" y1="1.45" y2="7.95" spreadMethod="repeat"><stop offset="0" stop-color="#031404"/><stop offset=".1" stop-color="#062809"/><stop offset=".2" stop-color="#0c4e11"/><stop offset=".3" stop-color="#15811c"/><stop offset=".4" stop-color="#1cb127"/><stop offset=".5" stop-color="#20c52b"/><stop offset=".6" stop-color="#1cb127"/><stop offset=".7" stop-color="#15811c"/><stop offset=".8" stop-color="#0c4e11"/><stop offset=".9" stop-color="#062809"/><stop offset="1" stop-color="#031404"/></linearGradient>
<linearGradient id="gr219" gradientUnits="userSpaceOnUse" x1="0" x2="0" y1="3.55" y2="10.05" spreadMethod="repeat"><stop offset="0" stop-color="#031104"/><stop offset=".1" stop-color="#051e07"/><stop offset=".2" stop-color="#093a0d"/><stop offset=".3" stop-color="#106717"/><stop offset=".4" stop-color="#189421"/><stop offset=".5" stop-color="#1ba825"/><stop offset=".6" stop-color="#189421"/><stop offset=".7" stop-color="#106717"/><stop offset=".8" stop-color="#093a0d"/><stop offset=".9" stop-color="#051e07"/><stop offset="1" stop-color="#031104"/></linearGradient>
<linearGradient id="gr220" gradientUnits="userSpaceOnUse" x1="0" x2="0" y1="3.55" y2="10.05" spreadMethod="repeat"><stop offset="0" stop-color="#031104"/><stop offset=".1" stop-color="#051e07"/><stop offset=".2" stop-color="#093a0d"/><stop offset=".3" stop-color="#106717"/><stop offset=".4" stop-color="#189421"/><stop offset=".5" stop-color="#1ba825"/><stop offset=".6" stop-color="#189421"/><stop offset=".7" stop-color="#106717"/><stop offset=".8" stop-color="#093a0d"/><stop offset=".9" stop-color="#051e07"/><stop offset="1" stop-color="#031104"/></linearGradient>
<linearGradient id="gr221" gradientUnits="userSpaceOnUse" x1="0" x2="0" y1="3.55" y2="10.05" spreadMethod="repeat"><stop offset="0" stop-color="#031104"/><stop offset=".1" stop-color="#051e07"/><stop offset=".2" stop-color="#093a0d"/><stop offset=".3" stop-color="#106717"/><stop offset=".4" stop-color="#189421"/><stop offset=".5" stop-color="#1ba825"/><stop offset=".6" stop-color="#189421"/><stop offset=".7" stop-color="#106717"/><stop offset=".8" stop-color="#093a0d"/><stop offset=".9" stop-color="#051e07"/><stop offset="1" stop-color="#031104"/></linearGradient>
<linearGradient id="gr222" gradientUnits="userSpaceOnUse" x1="0" x2="0" y1="3.55" y2="10.05" spreadMethod="repeat"><stop offset="0" stop-color="#031104"/><stop offset=".1" stop-color="#051e07"/><stop offset=".2" stop-color="#093a0d"/><stop offset=".3" stop-color="#106717"/><stop offset=".4" stop-color="#189421"/><stop offset=".5" stop-color="#1ba825"/><stop offset=".6" stop-color="#189421"/><stop offset=".7" stop-color="#106717"/><stop offset=".8" stop-color="#093a0d"/><stop offset=".9" stop-color="#051e07"/><stop offset="1" stop-color="#031104"/></linearGradient>
<linearGradient id="gr223" gradientUnits="userSpaceOnUse" x1="0" x2="0" y1="3.55" y2="10.05" spreadMethod="repeat"><stop offset="0" stop-color="#031104"/><stop offset=".1" stop-color="#051e07"/><stop offset=".2" stop-color="#093a0d"/><stop offset=".3" stop-color="#106717"/><stop offset=".4" stop-color="#189421"/><stop offset=".5" stop-color="#1ba825"/><stop offset=".6" stop-color="#189421"/><stop offset=".7" stop-color="#106717"/><stop offset=".8" stop-color="#093a0d"/><stop offset=".9" stop-color="#051e07"/><stop offset="1" stop-color="#031104"/></linearGradient>
<linearGradient id="gr224" gradientUnits="userSpaceOnUse" x1="0" x2="0" y1="3.55" y2="10.05" spreadMethod="repeat"><stop offset="0" stop-color="#031104"/><stop offset=".1" stop-color="#051e07"/><stop offset=".2" stop-color="#093a0d"/><stop offset=".3" stop-color="#106717"/><stop offset=".4" stop-color="#189421"/><stop offset=".5" stop-color="#1ba825"/><stop offset=".6" stop-color="#189421"/><stop offset=".7" stop-color="#106717"/><stop offset=".8" stop-color="#093a0d"/><stop offset=".9" stop-color="#051e07"/><stop offset="1" stop-color="#031104"/></linearGradient>
<linearGradient id="gr225" gradientUnits="userSpaceOnUse" x1="0" x2="0" y1="4.55" y2="11.05" spreadMethod="repeat"><stop offset="0" stop-color="#031404"/><stop offset=".1" stop-color="#062809"/><stop offset=".2" stop-color="#0c4e11"/><stop offset=".3" stop-color="#15811c"/><stop offset=".4" stop-color="#1cb127"/><stop offset=".5" stop-color="#20c52b"/><stop offset=".6" stop-color="#1cb127"/><stop offset=".7" stop-color="#15811c"/><stop offset=".8" stop-color="#0c4e11"/><stop offset=".9" stop-color="#062809"/><stop offset="1" stop-color="#031404"/></linearGradient>
<linearGradient id="gr226" gradientUnits="userSpaceOnUse" x1="0" x2="0" y1="111.35" y2="117.85" spreadMethod="repeat"><stop offset="0" stop-color="#031304"/><stop offset=".1" stop-color="#041c06"/><stop offset=".2" stop-color="#08310b"/><stop offset=".3" stop-color="#0e5513"/><stop offset=".4" stop-color="#147b1b"/><stop offset=".5" stop-color="#168c1f"/><stop offset=".6" stop-color="#147b1b"/><stop offset=".7" stop-color="#0e5513"/><stop offset=".8" stop-color="#08310b"/><stop offset=".9" stop-color="#041c06"/><stop offset="1" stop-color="#031304"/></linearGradient>
<linearGradient id="gr227" gradientUnits="userSpaceOnUse" x1="0" x2="0" y1="111.35" y2="117.85" spreadMethod="repeat"><stop offset="0" stop-color="#031304"/><stop offset=".1" stop-color="#041c06"/><stop offset=".2" stop-color="#08310b"/><stop offset=".3" stop-color="#0e5513"/><stop offset=".4" stop-color="#147b1b"/><stop offset=".5" stop-color="#168c1f"/><stop offset=".6" stop-color="#147b1b"/><stop offset=".7" stop-color="#0e5513"/><stop offset=".8" stop-color="#08310b"/><stop offset=".9" stop-color="#041c06"/><stop offset="1" stop-color="#031304"/></linearGradient>
<linearGradient id="gr228" gradientUnits="userSpaceOnUse" x1="0" x2="0" y1="112.75" y2="119.25" spreadMethod="repeat"><stop offset="0" stop-color="#041805"/><stop offset=".1" stop-color="#052007"/><stop offset=".2" stop-color="#08340b"/><stop offset=".3" stop-color="#0d5212"/><stop offset=".4" stop-color="#127219"/><stop offset=".5" stop-color="#147f1c"/><stop offset=".6" stop-color="#127219"/><stop offset=".7" stop-color="#0d5212"/><stop offset=".8" stop-color="#08340b"/><stop offset=".9" stop-color="#052007"/><stop offset="1" stop-color="#041805"/></linearGradient>
<linearGradient id="gr229" gradientUnits="userSpaceOnUse" x1="0" x2="0" y1="112.75" y2="119.25" spreadMethod="repeat"><stop offset="0" stop-color="#041805"/><stop offset=".1" stop-color="#052007"/><stop offset=".2" stop-color="#08340b"/><stop offset=".3" stop-color="#0d5212"/><stop offset=".4" stop-color="#127219"/><stop offset=".5" stop-color="#147f1c"/><stop offset=".6" stop-color="#127219"/><stop offset=".7" stop-color="#0d5212"/><stop offset=".8" stop-color="#08340b"/><stop offset=".9" stop-color="#052007"/><stop offset="1" stop-color="#041805"/></linearGradient>
<linearGradient id="gr230" gradientUnits="userSpaceOnUse" x1="0" x2="0" y1="110.95" y2="117.45" spreadMethod="repeat"><stop offset="0" stop-color="#041705"/><stop offset=".1" stop-color="#052007"/><stop offset=".2" stop-color="#08340b"/><stop offset=".3" stop-color="#0e5613"/><stop offset=".4" stop-color="#147b1b"/><stop offset=".5" stop-color="#168c1f"/><stop offset=".6" stop-color="#147b1b"/><stop offset=".7" stop-color="#0e5613"/><stop offset=".8" stop-color="#08340b"/><stop offset=".9" stop-color="#052007"/><stop offset="1" stop-color="#041705"/></linearGradient>
<linearGradient id="gr231" gradientUnits="userSpaceOnUse" x1="0" x2="0" y1="110.95" y2="117.45" spreadMethod="repeat"><stop offset="0" stop-color="#041705"/><stop offset=".1" stop-color="#052007"/><stop offset=".2" stop-color="#08340b"/><stop offset=".3" stop-color="#0e5613"/><stop offset=".4" stop-color="#147b1b"/><stop offset=".5" stop-color="#168c1f"/><stop offset=".6" stop-color="#147b1b"/><stop offset=".7" stop-color="#0e5613"/><stop offset=".8" stop-color="#08340b"/><stop offset=".9" stop-color="#052007"/><stop offset="1" stop-color="#041705"/></linearGradient>
<linearGradient id="gr232" gradientUnits="userSpaceOnUse" x1="0" x2="0" y1="110.95" y2="117.45" spreadMethod="repeat"><stop offset="0" stop-color="#041705"/><stop offset=".1" stop-color="#052007"/><stop offset=".2" stop-color="#08340b"/><stop offset=".3" stop-color="#0e5613"/><stop offset=".4" stop-color="#147b1b"/><stop offset=".5" stop-color="#168c1f"/><stop offset=".6" stop-color="#147b1b"/><stop offset=".7" stop-color="#0e5613"/><stop offset=".8" stop-color="#08340b"/><stop offset=".9" stop-color="#052007"/><stop offset="1" stop-color="#041705"/></linearGradient>
<linearGradient id="gr233" gradientUnits="userSpaceOnUse" x1="0" x2="0" y1="113.15" y2="119.65" spreadMethod="repeat"><stop offset="0" stop-color="#041805"/><stop offset=".1" stop-color="#052107"/><stop offset=".2" stop-color="#08350c"/><stop offset=".3" stop-color="#0e5513"/><stop offset=".4" stop-color="#13751a"/><stop offset=".5" stop-color="#15831d"/><stop offset=".6" stop-color="#13751a"/><stop offset=".7" stop-color="#0e5513"/><stop offset=".8" stop-color="#08350c"/><stop offset=".9" stop-color="#052107"/><stop offset="1" stop-color="#041805"/></linearGradient>
<linearGradient id="gr234" gradientUnits="userSpaceOnUse" x1="0" x2="0" y1="113.15" y2="119.65" spreadMethod="repeat"><stop offset="0" stop-color="#041805"/><stop offset=".1" stop-color="#052107"/><stop offset=".2" stop-color="#08350c"/><stop offset=".3" stop-color="#0e5513"/><stop offset=".4" stop-color="#13751a"/><stop offset=".5" stop-color="#15831d"/><stop offset=".6" stop-color="#13751a"/><stop offset=".7" stop-color="#0e5513"/><stop offset=".8" stop-color="#08350c"/><stop offset=".9" stop-color="#052107"/><stop offset="1" stop-color="#041805"/></linearGradient>
<linearGradient id="gr235" gradientUnits="userSpaceOnUse" x1="0" x2="0" y1="114.55" y2="121.05" spreadMethod="repeat"><stop offset="0" stop-color="#041805"/><stop offset=".1" stop-color="#052007"/><stop offset=".2" stop-color="#09360c"/><stop offset=".3" stop-color="#0f5b14"/><stop offset=".4" stop-color="#15821d"/><stop offset=".5" stop-color="#189421"/><stop offset=".6" stop-color="#15821d"/><stop offset=".7" stop-color="#0f5b14"/><stop offset=".8" stop-color="#09360c"/><stop offset=".9" stop-color="#052007"/><stop offset="1" stop-color="#041805"/></linearGradient>
<linearGradient id="gr236" gradientUnits="userSpaceOnUse" x1="0" x2="0" y1="114.55" y2="121.05" spreadMethod="repeat"><stop offset="0" stop-color="#041805"/><stop offset=".1" stop-color="#052007"/><stop offset=".2" stop-color="#09360c"/><stop offset=".3" stop-color="#0f5b14"/><stop offset=".4" stop-color="#15821d"/><stop offset=".5" stop-color="#189421"/><stop offset=".6" stop-color="#15821d"/><stop offset=".7" stop-color="#0f5b14"/><stop offset=".8" stop-color="#09360c"/><stop offset=".9" stop-color="#052007"/><stop offset="1" stop-color="#041805"/></linearGradient>
<linearGradient id="gr237" gradientUnits="userSpaceOnUse" x1="0" x2="0" y1="114.55" y2="121.05" spreadMethod="repeat"><stop offset="0" stop-color="#041805"/><stop offset=".1" stop-color="#052007"/><stop offset=".2" stop-color="#09360c"/><stop offset=".3" stop-color="#0f5b14"/><stop offset=".4" stop-color="#15821d"/><stop offset=".5" stop-color="#189421"/><stop offset=".6" stop-color="#15821d"/><stop offset=".7" stop-color="#0f5b14"/><stop offset=".8" stop-color="#09360c"/><stop offset=".9" stop-color="#052007"/><stop offset="1" stop-color="#041805"/></linearGradient>
<linearGradient id="gr238" gradientUnits="userSpaceOnUse" x1="0" x2="0" y1="111.35" y2="117.85" spreadMethod="repeat"><stop offset="0" stop-color="#031304"/><stop offset=".1" stop-color="#041c06"/><stop offset=".2" stop-color="#08310b"/><stop offset=".3" stop-color="#0e5513"/><stop offset=".4" stop-color="#147b1b"/><stop offset=".5" stop-color="#168c1f"/><stop offset=".6" stop-color="#147b1b"/><stop offset=".7" stop-color="#0e5513"/><stop offset=".8" stop-color="#08310b"/><stop offset=".9" stop-color="#041c06"/><stop offset="1" stop-color="#031304"/></linearGradient>
<linearGradient id="gr239" gradientUnits="userSpaceOnUse" x1="0" x2="0" y1="222.55" y2="229.05" spreadMethod="repeat"><stop offset="0" stop-color="#052007"/><stop offset=".1" stop-color="#0a3f0e"/><stop offset=".2" stop-color="#127019"/><stop offset=".3" stop-color="#1cad26"/><stop offset=".4" stop-color="#24e232"/><stop offset=".5" stop-color="#27f636"/><stop offset=".6" stop-color="#24e232"/><stop offset=".7" stop-color="#1cad26"/><stop offset=".8" stop-color="#127019"/><stop offset=".9" stop-color="#0a3f0e"/><stop offset="1" stop-color="#052007"/></linearGradient>
<linearGradient id="gr240" gradientUnits="userSpaceOnUse" x1="0" x2="0" y1="223.05" y2="229.55" spreadMethod="repeat"><stop offset="0" stop-color="#052007"/><stop offset=".1" stop-color="#0a3f0e"/><stop offset=".2" stop-color="#127019"/><stop offset=".3" stop-color="#1cad26"/><stop offset=".4" stop-color="#24e232"/><stop offset=".5" stop-color="#27f636"/><stop offset=".6" stop-color="#24e232"/><stop offset=".7" stop-color="#1cad26"/><stop offset=".8" stop-color="#127019"/><stop offset=".9" stop-color="#0a3f0e"/><stop offset="1" stop-color="#052007"/></linearGradient>
<linearGradient id="gr241" gradientUnits="userSpaceOnUse" x1="0" x2="0" y1="223.55" y2="230.05" spreadMethod="repeat"><stop offset="0" stop-color="#052007"/><stop offset=".1" stop-color="#0a3f0e"/><stop offset=".2" stop-color="#127019"/><stop offset=".3" stop-color="#1cad26"/><stop offset=".4" stop-color="#24e232"/><stop offset=".5" stop-color="#27f636"/><stop offset=".6" stop-color="#24e232"/><stop offset=".7" stop-color="#1cad26"/><stop offset=".8" stop-color="#127019"/><stop offset=".9" stop-color="#0a3f0e"/><stop offset="1" stop-color="#052007"/></linearGradient>
<linearGradient id="gr242" gradientUnits="userSpaceOnUse" x1="0" x2="0" y1="224.05" y2="230.55" spreadMethod="repeat"><stop offset="0" stop-color="#052007"/><stop offset=".1" stop-color="#0a3f0e"/><stop offset=".2" stop-color="#127019"/><stop offset=".3" stop-color="#1cad26"/><stop offset=".4" stop-color="#24e232"/><stop offset=".5" stop-color="#27f636"/><stop offset=".6" stop-color="#24e232"/><stop offset=".7" stop-color="#1cad26"/><stop offset=".8" stop-color="#127019"/><stop offset=".9" stop-color="#0a3f0e"/><stop offset="1" stop-color="#052007"/></linearGradient>
<linearGradient id="gr243" gradientUnits="userSpaceOnUse" x1="0" x2="0" y1="224.55" y2="231.05" spreadMethod="repeat"><stop offset="0" stop-color="#052007"/><stop offset=".1" stop-color="#0a3f0e"/><stop offset=".2" stop-color="#127019"/><stop offset=".3" stop-color="#1cad26"/><stop offset=".4" stop-color="#24e232"/><stop offset=".5" stop-color="#27f636"/><stop offset=".6" stop-color="#24e232"/><stop offset=".7" stop-color="#1cad26"/><stop offset=".8" stop-color="#127019"/><stop offset=".9" stop-color="#0a3f0e"/><stop offset="1" stop-color="#052007"/></linearGradient>
<linearGradient id="gr244" gradientUnits="userSpaceOnUse" x1="0" x2="0" y1="225.05" y2="231.55" spreadMethod="repeat"><stop offset="0" stop-color="#052007"/><stop offset=".1" stop-color="#0a3f0e"/><stop offset=".2" stop-color="#127019"/><stop offset=".3" stop-color="#1cad26"/><stop offset=".4" stop-color="#24e232"/><stop offset=".5" stop-color="#27f636"/><stop offset=".6" stop-color="#24e232"/><stop offset=".7" stop-color="#1cad26"/><stop offset=".8" stop-color="#127019"/><stop offset=".9" stop-color="#0a3f0e"/><stop offset="1" stop-color="#052007"/></linearGradient>
<linearGradient id="gr245" gradientUnits="userSpaceOnUse" x1="0" x2="0" y1="225.55" y2="232.05" spreadMethod="repeat"><stop offset="0" stop-color="#052007"/><stop offset=".1" stop-color="#0a3f0e"/><stop offset=".2" stop-color="#127019"/><stop offset=".3" stop-color="#1cad26"/><stop offset=".4" stop-color="#24e232"/><stop offset=".5" stop-color="#27f636"/><stop offset=".6" stop-color="#24e232"/><stop offset=".7" stop-color="#1cad26"/><stop offset=".8" stop-color="#127019"/><stop offset=".9" stop-color="#0a3f0e"/><stop offset="1" stop-color="#052007"/></linearGradient>
<linearGradient id="gr246" gradientUnits="userSpaceOnUse" x1="0" x2="0" y1="226.05" y2="232.55" spreadMethod="repeat"><stop offset="0" stop-color="#052007"/><stop offset=".1" stop-color="#0a3e0e"/><stop offset=".2" stop-color="#126f18"/><stop offset=".3" stop-color="#1bab26"/><stop offset=".4" stop-color="#24de31"/><stop offset=".5" stop-color="#27f335"/><stop offset=".6" stop-color="#24de31"/><stop offset=".7" stop-color="#1bab26"/><stop offset=".8" stop-color="#126f18"/><stop offset=".9" stop-color="#0a3e0e"/><stop offset="1" stop-color="#052007"/></linearGradient>
<linearGradient id="gr247" gradientUnits="userSpaceOnUse" x1="0" x2="0" y1="226.55" y2="233.05" spreadMethod="repeat"><stop offset="0" stop-color="#052107"/><stop offset=".1" stop-color="#0a3d0d"/><stop offset=".2" stop-color="#116b17"/><stop offset=".3" stop-color="#1aa424"/><stop offset=".4" stop-color="#22d62f"/><stop offset=".5" stop-color="#25ea33"/><stop offset=".6" stop-color="#22d62f"/><stop offset=".7" stop-color="#1aa424"/><stop offset=".8" stop-color="#116b17"/><stop offset=".9" stop-color="#0a3d0d"/><stop offset="1" stop-color="#052107"/></linearGradient>
<linearGradient id="gr248" gradientUnits="userSpaceOnUse" x1="0" x2="0" y1="227.05" y2="233.55" spreadMethod="repeat"><stop offset="0" stop-color="#052208"/><stop offset=".1" stop-color="#0a3b0d"/><stop offset=".2" stop-color="#106616"/><stop offset=".3" stop-color="#199b22"/><stop offset=".4" stop-color="#20cb2d"/><stop offset=".5" stop-color="#23de31"/><stop offset=".6" stop-color="#20cb2d"/><stop offset=".7" stop-color="#199b22"/><stop offset=".8" stop-color="#106616"/><stop offset=".9" stop-color="#0a3b0d"/><stop offset="1" stop-color="#052208"/></linearGradient>
<linearGradient id="gr249" gradientUnits="userSpaceOnUse" x1="0" x2="0" y1="227.55" y2="234.05" spreadMethod="repeat"><stop offset="0" stop-color="#062408"/><stop offset=".1" stop-color="#093a0d"/><stop offset=".2" stop-color="#106115"/><stop offset=".3" stop-color="#189320"/><stop offset=".4" stop-color="#1fc02a"/><stop offset=".5" stop-color="#22d22e"/><stop offset=".6" stop-color="#1fc02a"/><stop offset=".7" stop-color="#189320"/><stop offset=".8" stop-color="#106115"/><stop offset=".9" stop-color="#093a0d"/><stop offset="1" stop-color="#062408"/></linearGradient>
<linearGradient id="gr250" gradientUnits="userSpaceOnUse" x1="0" x2="0" y1="228.05" y2="234.55" spreadMethod="repeat"><stop offset="0" stop-color="#062508"/><stop offset=".1" stop-color="#093a0d"/><stop offset=".2" stop-color="#0f5e15"/><stop offset=".3" stop-color="#178d1f"/><stop offset=".4" stop-color="#1db728"/><stop offset=".5" stop-color="#20c92c"/><stop offset=".6" stop-color="#1db728"/><stop offset=".7" stop-color="#178d1f"/><stop offset=".8" stop-color="#0f5e15"/><stop offset=".9" stop-color="#093a0d"/><stop offset="1" stop-color="#062508"/></linearGradient>
<linearGradient id="gr251" gradientUnits="userSpaceOnUse" x1="0" x2="0" y1="228.55" y2="235.05" spreadMethod="repeat"><stop offset="0" stop-color="#062508"/><stop offset=".1" stop-color="#09390d"/><stop offset=".2" stop-color="#0f5c14"/><stop offset=".3" stop-color="#168a1e"/><stop offset=".4" stop-color="#1db428"/><stop offset=".5" stop-color="#20c52b"/><stop offset=".6" stop-color="#1db428"/><stop offset=".7" stop-color="#168a1e"/><stop offset=".8" stop-color="#0f5c14"/><stop offset=".9" stop-color="#09390d"/><stop offset="1" stop-color="#062508"/></linearGradient>
<linearGradient id="gr252" gradientUnits="userSpaceOnUse" x1="0" x2="0" y1="229.05" y2="235.55" spreadMethod="repeat"><stop offset="0" stop-color="#062508"/><stop offset=".1" stop-color="#09390d"/><stop offset=".2" stop-color="#0f5c14"/><stop offset=".3" stop-color="#168a1e"/><stop offset=".4" stop-color="#1db428"/><stop offset=".5" stop-color="#20c52b"/><stop offset=".6" stop-color="#1db428"/><stop offset=".7" stop-color="#168a1e"/><stop offset=".8" stop-color="#0f5c14"/><stop offset=".9" stop-color="#09390d"/><stop offset="1" stop-color="#062508"/></linearGradient>
<linearGradient id="gr253" gradientUnits="userSpaceOnUse" x1="0" x2="0" y1="229.55" y2="236.05" spreadMethod="repeat"><stop offset="0" stop-color="#062508"/><stop offset=".1" stop-color="#09390d"/><stop offset=".2" stop-color="#0f5c14"/><stop offset=".3" stop-color="#168a1e"/><stop offset=".4" stop-color="#1db428"/><stop offset=".5" stop-color="#20c52b"/><stop offset=".6" stop-color="#1db428"/><stop offset=".7" stop-color="#168a1e"/><stop offset=".8" stop-color="#0f5c14"/><stop offset=".9" stop-color="#09390d"/><stop offset="1" stop-color="#062508"/></linearGradient>
<linearGradient id="gr254" gradientUnits="userSpaceOnUse" x1="0" x2="0" y1="230.05" y2="236.55" spreadMethod="repeat"><stop offset="0" stop-color="#062508"/><stop offset=".1" stop-color="#09390d"/><stop offset=".2" stop-color="#0f5c14"/><stop offset=".3" stop-color="#168a1e"/><stop offset=".4" stop-color="#1db428"/><stop offset=".5" stop-color="#20c52b"/><stop offset=".6" stop-color="#1db428"/><stop offset=".7" stop-color="#168a1e"/><stop offset=".8" stop-color="#0f5c14"/><stop offset=".9" stop-color="#09390d"/><stop offset="1" stop-color="#062508"/></linearGradient>
<linearGradient id="gr255" gradientUnits="userSpaceOnUse" x1="0" x2="0" y1="230.55" y2="237.05" spreadMethod="repeat"><stop offset="0" stop-color="#062508"/><stop offset=".1" stop-color="#09390d"/><stop offset=".2" stop-color="#0f5c14"/><stop offset=".3" stop-color="#168a1e"/><stop offset=".4" stop-color="#1db428"/><stop offset=".5" stop-color="#20c52b"/><stop offset=".6" stop-color="#1db428"/><stop offset=".7" stop-color="#168a1e"/><stop offset=".8" stop-color="#0f5c14"/><stop offset=".9" stop-color="#09390d"/><stop offset="1" stop-color="#062508"/></linearGradient>
<linearGradient id="gr256" gradientUnits="userSpaceOnUse" x1="0" x2="0" y1="231.05" y2="237.55" spreadMethod="repeat"><stop offset="0" stop-color="#062508"/><stop offset=".1" stop-color="#09390d"/><stop offset=".2" stop-color="#0f5c14"/><stop offset=".3" stop-color="#168a1e"/><stop offset=".4" stop-color="#1db428"/><stop offset=".5" stop-color="#20c52b"/><stop offset=".6" stop-color="#1db428"/><stop offset=".7" stop-color="#168a1e"/><stop offset=".8" stop-color="#0f5c14"/><stop offset=".9" stop-color="#09390d"/><stop offset="1" stop-color="#062508"/></linearGradient>
<linearGradient id="gr257" gradientUnits="userSpaceOnUse" x1="0" x2="0" y1="231.55" y2="238.05" spreadMethod="repeat"><stop offset="0" stop-color="#062508"/><stop offset=".1" stop-color="#09390d"/><stop offset=".2" stop-color="#0f5c14"/><stop offset=".3" stop-color="#168a1e"/><stop offset=".4" stop-color="#1db428"/><stop offset=".5" stop-color="#20c52b"/><stop offset=".6" stop-color="#1db428"/><stop offset=".7" stop-color="#168a1e"/><stop offset=".8" stop-color="#0f5c14"/><stop offset=".9" stop-color="#09390d"/><stop offset="1" stop-color="#062508"/></linearGradient>
<linearGradient id="gr258" gradientUnits="userSpaceOnUse" x1="0" x2="0" y1="222.55" y2="229.05" spreadMethod="repeat"><stop offset="0" stop-color="#051e07"/><stop offset=".1" stop-color="#09390d"/><stop offset=".2" stop-color="#106616"/><stop offset=".3" stop-color="#199c22"/><stop offset=".4" stop-color="#20cb2d"/><stop offset=".5" stop-color="#23de31"/><stop offset=".6" stop-color="#20cb2d"/><stop offset=".7" stop-color="#199c22"/><stop offset=".8" stop-color="#106616"/><stop offset=".9" stop-color="#09390d"/><stop offset="1" stop-color="#051e07"/></linearGradient>
<linearGradient id="r259" gradientUnits="userSpaceOnUse" x1="0" x2="0" y1="48.76" y2="57.59"><stop offset=".000" stop-color="#130000"/><stop offset=".178" stop-color="#3b0000"/><stop offset=".229" stop-color="#670000"/><stop offset=".280" stop-color="#cb0000"/><stop offset=".281" stop-color="#cd0000"/><stop offset=".313" stop-color="#ff4000"/><stop offset=".345" stop-color="#ffda00"/><stop offset=".371" stop-color="#ffff9c"/><stop offset=".390" stop-color="#ffffff"/><stop offset=".397" stop-color="#ffffff"/><stop offset=".423" stop-color="#ffffff"/><stop offset=".445" stop-color="#ffffff"/><stop offset=".448" stop-color="#ffffff"/><stop offset=".474" stop-color="#ffffff"/><stop offset=".500" stop-color="#ffffff"/><stop offset=".526" stop-color="#ffffff"/><stop offset=".552" stop-color="#ffffff"/><stop offset=".555" stop-color="#ffffff"/><stop offset=".577" stop-color="#ffffff"/><stop offset=".603" stop-color="#ffffff"/><stop offset=".610" stop-color="#ffffff"/><stop offset=".629" stop-color="#ffff9c"/><stop offset=".655" stop-color="#ffda00"/><stop offset=".687" stop-color="#ff4000"/><stop offset=".719" stop-color="#cd0000"/><stop offset=".720" stop-color="#cb0000"/><stop offset=".771" stop-color="#670000"/><stop offset=".822" stop-color="#3b0000"/><stop offset="1" stop-color="#130000"/></linearGradient>
<linearGradient id="r260" gradientUnits="userSpaceOnUse" x1="0" x2="0" y1="47.31" y2="59.33"><stop offset=".000" stop-color="#160000"/><stop offset=".153" stop-color="#320000"/><stop offset=".208" stop-color="#4c0000"/><stop offset=".264" stop-color="#8b0000"/><stop offset=".299" stop-color="#d80000"/><stop offset=".315" stop-color="#ff0900"/><stop offset=".333" stop-color="#ff4f00"/><stop offset=".361" stop-color="#ffc800"/><stop offset=".389" stop-color="#ffff77"/><stop offset=".407" stop-color="#fffffd"/><stop offset=".417" stop-color="#ffffff"/><stop offset=".444" stop-color="#ffffff"/><stop offset=".454" stop-color="#ffffff"/><stop offset=".472" stop-color="#ffffff"/><stop offset=".500" stop-color="#ffffff"/><stop offset=".528" stop-color="#ffffff"/><stop offset=".546" stop-color="#ffffff"/><stop offset=".556" stop-color="#ffffff"/><stop offset=".583" stop-color="#ffffff"/><stop offset=".593" stop-color="#fffffd"/><stop offset=".611" stop-color="#ffff77"/><stop offset=".639" stop-color="#ffc800"/><stop offset=".667" stop-color="#ff4f00"/><stop offset=".685" stop-color="#ff0900"/><stop offset=".701" stop-color="#d80000"/><stop offset=".736" stop-color="#8b0000"/><stop offset=".792" stop-color="#4c0000"/><stop offset=".847" stop-color="#320000"/><stop offset="1" stop-color="#160000"/></linearGradient>
<linearGradient id="r261" gradientUnits="userSpaceOnUse" x1="0" x2="0" y1="46.02" y2="60.92"><stop offset=".000" stop-color="#180000"/><stop offset=".139" stop-color="#300000"/><stop offset=".197" stop-color="#460000"/><stop offset=".255" stop-color="#7a0000"/><stop offset=".291" stop-color="#b70000"/><stop offset=".327" stop-color="#ff1500"/><stop offset=".331" stop-color="#ff2200"/><stop offset=".356" stop-color="#ff7900"/><stop offset=".385" stop-color="#ffed00"/><stop offset=".413" stop-color="#ffff9b"/><stop offset=".416" stop-color="#ffffa8"/><stop offset=".442" stop-color="#ffffff"/><stop offset=".458" stop-color="#ffffff"/><stop offset=".471" stop-color="#ffffff"/><stop offset=".500" stop-color="#ffffff"/><stop offset=".529" stop-color="#ffffff"/><stop offset=".542" stop-color="#ffffff"/><stop offset=".558" stop-color="#ffffff"/><stop offset=".584" stop-color="#ffffa8"/><stop offset=".587" stop-color="#ffff9b"/><stop offset=".615" stop-color="#ffed00"/><stop offset=".644" stop-color="#ff7900"/><stop offset=".669" stop-color="#ff2200"/><stop offset=".673" stop-color="#ff1500"/><stop offset=".709" stop-color="#b70000"/><stop offset=".745" stop-color="#7a0000"/><stop offset=".803" stop-color="#460000"/><stop offset=".861" stop-color="#300000"/><stop offset="1" stop-color="#180000"/></linearGradient>
<linearGradient id="r262" gradientUnits="userSpaceOnUse" x1="0" x2="0" y1="44.81" y2="62.43"><stop offset=".000" stop-color="#190000"/><stop offset=".131" stop-color="#2f0000"/><stop offset=".190" stop-color="#440000"/><stop offset=".249" stop-color="#730000"/><stop offset=".286" stop-color="#a80000"/><stop offset=".323" stop-color="#f60000"/><stop offset=".341" stop-color="#ff2900"/><stop offset=".352" stop-color="#ff4c00"/><stop offset=".382" stop-color="#ffaf00"/><stop offset=".411" stop-color="#ffff28"/><stop offset=".420" stop-color="#ffff58"/><stop offset=".441" stop-color="#ffffbb"/><stop offset=".460" stop-color="#ffffff"/><stop offset=".470" stop-color="#ffffff"/><stop offset=".500" stop-color="#ffffff"/><stop offset=".530" stop-color="#ffffff"/><stop offset=".540" stop-color="#ffffff"/><stop offset=".559" stop-color="#ffffbb"/><stop offset=".580" stop-color="#ffff58"/><stop offset=".589" stop-color="#ffff28"/><stop offset=".618" stop-color="#ffaf00"/><stop offset=".648" stop-color="#ff4c00"/><stop offset=".659" stop-color="#ff2900"/><stop offset=".677" stop-color="#f60000"/><stop offset=".714" stop-color="#a80000"/><stop offset=".751" stop-color="#730000"/><stop offset=".810" stop-color="#440000"/><stop offset=".869" stop-color="#2f0000"/><stop offset="1" stop-color="#190000"/></linearGradient>
<linearGradient id="r263" gradientUnits="userSpaceOnUse" x1="0" x2="0" y1="43.65" y2="63.88"><stop offset=".000" stop-color="#190000"/><stop offset=".125" stop-color="#2d0000"/><stop offset=".185" stop-color="#420000"/><stop offset=".245" stop-color="#6e0000"/><stop offset=".282" stop-color="#9f0000"/><stop offset=".320" stop-color="#e50000"/><stop offset=".347" stop-color="#ff2800"/><stop offset=".350" stop-color="#ff2e00"/><stop offset=".380" stop-color="#ff8500"/><stop offset=".410" stop-color="#ffe200"/><stop offset=".424" stop-color="#ffff13"/><stop offset=".440" stop-color="#ffff57"/><stop offset=".462" stop-color="#ffffa0"/><stop offset=".470" stop-color="#ffffb4"/><stop offset=".500" stop-color="#ffffd5"/><stop offset=".530" stop-color="#ffffb4"/><stop offset=".538" stop-color="#ffffa0"/><stop offset=".560" stop-color="#ffff57"/><stop offset=".576" stop-color="#ffff13"/><stop offset=".590" stop-color="#ffe200"/><stop offset=".620" stop-color="#ff8500"/><stop offset=".650" stop-color="#ff2e00"/><stop offset=".653" stop-color="#ff2800"/><stop offset=".680" stop-color="#e50000"/><stop offset=".718" stop-color="#9f0000"/><stop offset=".755" stop-color="#6e0000"/><stop offset=".815" stop-color="#420000"/><stop offset=".875" stop-color="#2d0000"/><stop offset="1" stop-color="#190000"/></linearGradient>
<linearGradient id="r264" gradientUnits="userSpaceOnUse" x1="0" x2="0" y1="42.53" y2="65.3"><stop offset=".000" stop-color="#190000"/><stop offset=".120" stop-color="#2c0000"/><stop offset=".181" stop-color="#400000"/><stop offset=".242" stop-color="#6a0000"/><stop offset=".280" stop-color="#980000"/><stop offset=".318" stop-color="#d80000"/><stop offset=".348" stop-color="#ff1a00"/><stop offset=".352" stop-color="#ff2300"/><stop offset=".378" stop-color="#ff6600"/><stop offset=".409" stop-color="#ffb700"/><stop offset=".426" stop-color="#ffe400"/><stop offset=".439" stop-color="#ffff07"/><stop offset=".463" stop-color="#ffff4b"/><stop offset=".470" stop-color="#ffff59"/><stop offset=".500" stop-color="#ffff76"/><stop offset=".530" stop-color="#ffff59"/><stop offset=".537" stop-color="#ffff4b"/><stop offset=".561" stop-color="#ffff07"/><stop offset=".574" stop-color="#ffe400"/><stop offset=".591" stop-color="#ffb700"/><stop offset=".622" stop-color="#ff6600"/><stop offset=".648" stop-color="#ff2300"/><stop offset=".652" stop-color="#ff1a00"/><stop offset=".682" stop-color="#d80000"/><stop offset=".720" stop-color="#980000"/><stop offset=".758" stop-color="#6a0000"/><stop offset=".819" stop-color="#400000"/><stop offset=".880" stop-color="#2c0000"/><stop offset="1" stop-color="#190000"/></linearGradient>
<linearGradient id="r265" gradientUnits="userSpaceOnUse" x1="0" x2="0" y1="41.45" y2="66.68"><stop offset=".000" stop-color="#190000"/><stop offset=".116" stop-color="#2b0000"/><stop offset=".178" stop-color="#3e0000"/><stop offset=".239" stop-color="#670000"/><stop offset=".277" stop-color="#930000"/><stop offset=".316" stop-color="#cf0000"/><stop offset=".347" stop-color="#ff0a00"/><stop offset=".355" stop-color="#ff1c00"/><stop offset=".377" stop-color="#ff4e00"/><stop offset=".408" stop-color="#ff9600"/><stop offset=".427" stop-color="#ffc100"/><stop offset=".439" stop-color="#ffd800"/><stop offset=".464" stop-color="#ffff04"/><stop offset=".469" stop-color="#ffff0e"/><stop offset=".500" stop-color="#ffff27"/><stop offset=".531" stop-color="#ffff0e"/><stop offset=".536" stop-color="#ffff04"/><stop offset=".561" stop-color="#ffd800"/><stop offset=".573" stop-color="#ffc100"/><stop offset=".592" stop-color="#ff9600"/><stop offset=".623" stop-color="#ff4e00"/><stop offset=".645" stop-color="#ff1c00"/><stop offset=".653" stop-color="#ff0a00"/><stop offset=".684" stop-color="#cf0000"/><stop offset=".723" stop-color="#930000"/><stop offset=".761" stop-color="#670000"/><stop offset=".822" stop-color="#3e0000"/><stop offset=".884" stop-color="#2b0000"/><stop offset="1" stop-color="#190000"/></linearGradient>
<linearGradient id="r266" gradientUnits="userSpaceOnUse" x1="0" x2="0" y1="40.39" y2="68.03"><stop offset=".000" stop-color="#190000"/><stop offset=".113" stop-color="#2a0000"/><stop offset=".175" stop-color="#3d0000"/><stop offset=".237" stop-color="#640000"/><stop offset=".276" stop-color="#8e0000"/><stop offset=".314" stop-color="#c70000"/><stop offset=".345" stop-color="#fd0000"/><stop offset=".357" stop-color="#ff1400"/><stop offset=".376" stop-color="#ff3b00"/><stop offset=".407" stop-color="#ff7b00"/><stop offset=".429" stop-color="#ffa400"/><stop offset=".438" stop-color="#ffb500"/><stop offset=".464" stop-color="#ffda00"/><stop offset=".469" stop-color="#ffdf00"/><stop offset=".500" stop-color="#ffed00"/><stop offset=".531" stop-color="#ffdf00"/><stop offset=".536" stop-color="#ffda00"/><stop offset=".562" stop-color="#ffb500"/><stop offset=".571" stop-color="#ffa400"/><stop offset=".593" stop-color="#ff7b00"/><stop offset=".624" stop-color="#ff3b00"/><stop offset=".643" stop-color="#ff1400"/><stop offset=".655" stop-color="#fd0000"/><stop offset=".686" stop-color="#c70000"/><stop offset=".724" stop-color="#8e0000"/><stop offset=".763" stop-color="#640000"/><stop offset=".825" stop-color="#3d0000"/><stop offset=".887" stop-color="#2a0000"/><stop offset="1" stop-color="#190000"/></linearGradient>
<linearGradient id="r267" gradientUnits="userSpaceOnUse" x1="0" x2="0" y1="39.35" y2="69.36"><stop offset=".000" stop-color="#190000"/><stop offset=".111" stop-color="#290000"/><stop offset=".173" stop-color="#3b0000"/><stop offset=".236" stop-color="#610000"/><stop offset=".274" stop-color="#8a0000"/><stop offset=".313" stop-color="#c00000"/><stop offset=".344" stop-color="#f20000"/><stop offset=".359" stop-color="#ff0d00"/><stop offset=".376" stop-color="#ff2b00"/><stop offset=".407" stop-color="#ff6400"/><stop offset=".429" stop-color="#ff8b00"/><stop offset=".438" stop-color="#ff9800"/><stop offset=".465" stop-color="#ffb800"/><stop offset=".469" stop-color="#ffbc00"/><stop offset=".500" stop-color="#ffc800"/><stop offset=".531" stop-color="#ffbc00"/><stop offset=".535" stop-color="#ffb800"/><stop offset=".562" stop-color="#ff9800"/><stop offset=".571" stop-color="#ff8b00"/><stop offset=".593" stop-color="#ff6400"/><stop offset=".624" stop-color="#ff2b00"/><stop offset=".641" stop-color="#ff0d00"/><stop offset=".656" stop-color="#f20000"/><stop offset=".687" stop-color="#c00000"/><stop offset=".726" stop-color="#8a0000"/><stop offset=".764" stop-color="#610000"/><stop offset=".827" stop-color="#3b0000"/><stop offset=".889" stop-color="#290000"/><stop offset="1" stop-color="#190000"/></linearGradient>
<linearGradient id="r268" gradientUnits="userSpaceOnUse" x1="0" x2="0" y1="38.34" y2="70.68"><stop offset=".000" stop-color="#190000"/><stop offset=".109" stop-color="#280000"/><stop offset=".172" stop-color="#3a0000"/><stop offset=".234" stop-color="#5f0000"/><stop offset=".273" stop-color="#860000"/><stop offset=".312" stop-color="#ba0000"/><stop offset=".344" stop-color="#ea0000"/><stop offset=".360" stop-color="#ff0500"/><stop offset=".375" stop-color="#ff1e00"/><stop offset=".406" stop-color="#ff5200"/><stop offset=".430" stop-color="#ff7500"/><stop offset=".437" stop-color="#ff7f00"/><stop offset=".465" stop-color="#ff9c00"/><stop offset=".469" stop-color="#ff9f00"/><stop offset=".500" stop-color="#ffa900"/><stop offset=".531" stop-color="#ff9f00"/><stop offset=".535" stop-color="#ff9c00"/><stop offset=".563" stop-color="#ff7f00"/><stop offset=".570" stop-color="#ff7500"/><stop offset=".594" stop-color="#ff5200"/><stop offset=".625" stop-color="#ff1e00"/><stop offset=".640" stop-color="#ff0500"/><stop offset=".656" stop-color="#ea0000"/><stop offset=".688" stop-color="#ba0000"/><stop offset=".727" stop-color="#860000"/><stop offset=".766" stop-color="#5f0000"/><stop offset=".828" stop-color="#3a0000"/><stop offset=".891" stop-color="#280000"/><stop offset="1" stop-color="#190000"/></linearGradient>
<linearGradient id="r269" gradientUnits="userSpaceOnUse" x1="0" x2="0" y1="37.34" y2="71.97"><stop offset=".000" stop-color="#190000"/><stop offset=".107" stop-color="#280000"/><stop offset=".170" stop-color="#380000"/><stop offset=".233" stop-color="#5c0000"/><stop offset=".272" stop-color="#830000"/><stop offset=".312" stop-color="#b40000"/><stop offset=".343" stop-color="#e20000"/><stop offset=".361" stop-color="#fd0000"/><stop offset=".374" stop-color="#ff1300"/><stop offset=".406" stop-color="#ff4200"/><stop offset=".431" stop-color="#ff6300"/><stop offset=".437" stop-color="#ff6a00"/><stop offset=".465" stop-color="#ff8400"/><stop offset=".469" stop-color="#ff8600"/><stop offset=".500" stop-color="#ff8f00"/><stop offset=".531" stop-color="#ff8600"/><stop offset=".535" stop-color="#ff8400"/><stop offset=".563" stop-color="#ff6a00"/><stop offset=".569" stop-color="#ff6300"/><stop offset=".594" stop-color="#ff4200"/><stop offset=".626" stop-color="#ff1300"/><stop offset=".639" stop-color="#fd0000"/><stop offset=".657" stop-color="#e20000"/><stop offset=".688" stop-color="#b40000"/><stop offset=".728" stop-color="#830000"/><stop offset=".767" stop-color="#5c0000"/><stop offset=".830" stop-color="#380000"/><stop offset=".893" stop-color="#280000"/><stop offset="1" stop-color="#190000"/></linearGradient>
<linearGradient id="r270" gradientUnits="userSpaceOnUse" x1="0" x2="0" y1="36.35" y2="73.25"><stop offset=".000" stop-color="#190000"/><stop offset=".106" stop-color="#270000"/><stop offset=".169" stop-color="#370000"/><stop offset=".232" stop-color="#5a0000"/><stop offset=".271" stop-color="#7f0000"/><stop offset=".311" stop-color="#af0000"/><stop offset=".342" stop-color="#db0000"/><stop offset=".362" stop-color="#f60000"/><stop offset=".374" stop-color="#ff0900"/><stop offset=".405" stop-color="#ff3400"/><stop offset=".431" stop-color="#ff5200"/><stop offset=".437" stop-color="#ff5800"/><stop offset=".465" stop-color="#ff6f00"/><stop offset=".468" stop-color="#ff7000"/><stop offset=".500" stop-color="#ff7800"/><stop offset=".532" stop-color="#ff7000"/><stop offset=".535" stop-color="#ff6f00"/><stop offset=".563" stop-color="#ff5800"/><stop offset=".569" stop-color="#ff5200"/><stop offset=".595" stop-color="#ff3400"/><stop offset=".626" stop-color="#ff0900"/><stop offset=".638" stop-color="#f60000"/><stop offset=".658" stop-color="#db0000"/><stop offset=".689" stop-color="#af0000"/><stop offset=".729" stop-color="#7f0000"/><stop offset=".768" stop-color="#5a0000"/><stop offset=".831" stop-color="#370000"/><stop offset=".894" stop-color="#270000"/><stop offset="1" stop-color="#190000"/></linearGradient>
<linearGradient id="r271" gradientUnits="userSpaceOnUse" x1="0" x2="0" y1="35.38" y2="74.52"><stop offset=".000" stop-color="#180000"/><stop offset=".105" stop-color="#260000"/><stop offset=".168" stop-color="#360000"/><stop offset=".231" stop-color="#580000"/><stop offset=".271" stop-color="#7c0000"/><stop offset=".310" stop-color="#ab0000"/><stop offset=".342" stop-color="#d50000"/><stop offset=".362" stop-color="#f00000"/><stop offset=".373" stop-color="#fe0000"/><stop offset=".405" stop-color="#ff2800"/><stop offset=".431" stop-color="#ff4400"/><stop offset=".437" stop-color="#ff4900"/><stop offset=".466" stop-color="#ff5d00"/><stop offset=".468" stop-color="#ff5e00"/><stop offset=".500" stop-color="#ff6500"/><stop offset=".532" stop-color="#ff5e00"/><stop offset=".534" stop-color="#ff5d00"/><stop offset=".563" stop-color="#ff4900"/><stop offset=".569" stop-color="#ff4400"/><stop offset=".595" stop-color="#ff2800"/><stop offset=".627" stop-color="#fe0000"/><stop offset=".638" stop-color="#f00000"/><stop offset=".658" stop-color="#d50000"/><stop offset=".690" stop-color="#ab0000"/><stop offset=".729" stop-color="#7c0000"/><stop offset=".769" stop-color="#580000"/><stop offset=".832" stop-color="#360000"/><stop offset=".895" stop-color="#260000"/><stop offset="1" stop-color="#180000"/></linearGradient>
<linearGradient id="r272" gradientUnits="userSpaceOnUse" x1="0" x2="0" y1="34.42" y2="75.78"><stop offset=".000" stop-color="#180000"/><stop offset=".103" stop-color="#250000"/><stop offset=".167" stop-color="#350000"/><stop offset=".230" stop-color="#560000"/><stop offset=".270" stop-color="#790000"/><stop offset=".310" stop-color="#a60000"/><stop offset=".341" stop-color="#cf0000"/><stop offset=".363" stop-color="#ea0000"/><stop offset=".373" stop-color="#f70000"/><stop offset=".405" stop-color="#ff1d00"/><stop offset=".431" stop-color="#ff3700"/><stop offset=".437" stop-color="#ff3b00"/><stop offset=".466" stop-color="#ff4d00"/><stop offset=".468" stop-color="#ff4e00"/><stop offset=".500" stop-color="#ff5400"/><stop offset=".532" stop-color="#ff4e00"/><stop offset=".534" stop-color="#ff4d00"/><stop offset=".563" stop-color="#ff3b00"/><stop offset=".569" stop-color="#ff3700"/><stop offset=".595" stop-color="#ff1d00"/><stop offset=".627" stop-color="#f70000"/><stop offset=".637" stop-color="#ea0000"/><stop offset=".659" stop-color="#cf0000"/><stop offset=".690" stop-color="#a60000"/><stop offset=".730" stop-color="#790000"/><stop offset=".770" stop-color="#560000"/><stop offset=".833" stop-color="#350000"/><stop offset=".897" stop-color="#250000"/><stop offset="1" stop-color="#180000"/></linearGradient>
<linearGradient id="r273" gradientUnits="userSpaceOnUse" x1="0" x2="0" y1="33.48" y2="77.02"><stop offset=".000" stop-color="#180000"/><stop offset=".102" stop-color="#250000"/><stop offset=".166" stop-color="#340000"/><stop offset=".230" stop-color="#540000"/><stop offset=".269" stop-color="#760000"/><stop offset=".309" stop-color="#a20000"/><stop offset=".341" stop-color="#c90000"/><stop offset=".363" stop-color="#e40000"/><stop offset=".373" stop-color="#f00000"/><stop offset=".405" stop-color="#ff1300"/><stop offset=".432" stop-color="#ff2b00"/><stop offset=".436" stop-color="#ff2f00"/><stop offset=".466" stop-color="#ff3f00"/><stop offset=".468" stop-color="#ff4000"/><stop offset=".500" stop-color="#ff4500"/><stop offset=".532" stop-color="#ff4000"/><stop offset=".534" stop-color="#ff3f00"/><stop offset=".564" stop-color="#ff2f00"/><stop offset=".568" stop-color="#ff2b00"/><stop offset=".595" stop-color="#ff1300"/><stop offset=".627" stop-color="#f00000"/><stop offset=".637" stop-color="#e40000"/><stop offset=".659" stop-color="#c90000"/><stop offset=".691" stop-color="#a20000"/><stop offset=".731" stop-color="#760000"/><stop offset=".770" stop-color="#540000"/><stop offset=".834" stop-color="#340000"/><stop offset=".898" stop-color="#250000"/><stop offset="1" stop-color="#180000"/></linearGradient>
<linearGradient id="r274" gradientUnits="userSpaceOnUse" x1="0" x2="0" y1="32.54" y2="78.25"><stop offset=".000" stop-color="#180000"/><stop offset=".102" stop-color="#240000"/><stop offset=".165" stop-color="#330000"/><stop offset=".229" stop-color="#520000"/><stop offset=".269" stop-color="#730000"/><stop offset=".309" stop-color="#9e0000"/><stop offset=".341" stop-color="#c40000"/><stop offset=".363" stop-color="#df0000"/><stop offset=".373" stop-color="#e90000"/><stop offset=".404" stop-color="#ff0b00"/><stop offset=".432" stop-color="#ff2100"/><stop offset=".436" stop-color="#ff2400"/><stop offset=".466" stop-color="#ff3300"/><stop offset=".468" stop-color="#ff3400"/><stop offset=".500" stop-color="#ff3800"/><stop offset=".532" stop-color="#ff3400"/><stop offset=".534" stop-color="#ff3300"/><stop offset=".564" stop-color="#ff2400"/><stop offset=".568" stop-color="#ff2100"/><stop offset=".596" stop-color="#ff0b00"/><stop offset=".627" stop-color="#e90000"/><stop offset=".637" stop-color="#df0000"/><stop offset=".659" stop-color="#c40000"/><stop offset=".691" stop-color="#9e0000"/><stop offset=".731" stop-color="#730000"/><stop offset=".771" stop-color="#520000"/><stop offset=".835" stop-color="#330000"/><stop offset=".898" stop-color="#240000"/><stop offset="1" stop-color="#180000"/></linearGradient>
<linearGradient id="r275" gradientUnits="userSpaceOnUse" x1="0" x2="0" y1="31.61" y2="79.47"><stop offset=".000" stop-color="#180000"/><stop offset=".101" stop-color="#230000"/><stop offset=".165" stop-color="#320000"/><stop offset=".229" stop-color="#500000"/><stop offset=".268" stop-color="#710000"/><stop offset=".308" stop-color="#9b0000"/><stop offset=".340" stop-color="#bf0000"/><stop offset=".364" stop-color="#da0000"/><stop offset=".372" stop-color="#e30000"/><stop offset=".404" stop-color="#ff0300"/><stop offset=".432" stop-color="#ff1800"/><stop offset=".436" stop-color="#ff1b00"/><stop offset=".466" stop-color="#ff2800"/><stop offset=".468" stop-color="#ff2900"/><stop offset=".500" stop-color="#ff2d00"/><stop offset=".532" stop-color="#ff2900"/><stop offset=".534" stop-color="#ff2800"/><stop offset=".564" stop-color="#ff1b00"/><stop offset=".568" stop-color="#ff1800"/><stop offset=".596" stop-color="#ff0300"/><stop offset=".628" stop-color="#e30000"/><stop offset=".636" stop-color="#da0000"/><stop offset=".660" stop-color="#bf0000"/><stop offset=".692" stop-color="#9b0000"/><stop offset=".732" stop-color="#710000"/><stop offset=".771" stop-color="#500000"/><stop offset=".835" stop-color="#320000"/><stop offset=".899" stop-color="#230000"/><stop offset="1" stop-color="#180000"/></linearGradient>
<linearGradient id="r276" gradientUnits="userSpaceOnUse" x1="0" x2="0" y1="30.7" y2="80.69"><stop offset=".000" stop-color="#170000"/><stop offset=".100" stop-color="#230000"/><stop offset=".164" stop-color="#310000"/><stop offset=".228" stop-color="#4f0000"/><stop offset=".268" stop-color="#6f0000"/><stop offset=".308" stop-color="#970000"/><stop offset=".340" stop-color="#bb0000"/><stop offset=".364" stop-color="#d50000"/><stop offset=".372" stop-color="#dd0000"/><stop offset=".404" stop-color="#fb0000"/><stop offset=".432" stop-color="#ff0f00"/><stop offset=".436" stop-color="#ff1200"/><stop offset=".466" stop-color="#ff1e00"/><stop offset=".468" stop-color="#ff1f00"/><stop offset=".500" stop-color="#ff2200"/><stop offset=".532" stop-color="#ff1f00"/><stop offset=".534" stop-color="#ff1e00"/><stop offset=".564" stop-color="#ff1200"/><stop offset=".568" stop-color="#ff0f00"/><stop offset=".596" stop-color="#fb0000"/><stop offset=".628" stop-color="#dd0000"/><stop offset=".636" stop-color="#d50000"/><stop offset=".660" stop-color="#bb0000"/><stop offset=".692" stop-color="#970000"/><stop offset=".732" stop-color="#6f0000"/><stop offset=".772" stop-color="#4f0000"/><stop offset=".836" stop-color="#310000"/><stop offset=".900" stop-color="#230000"/><stop offset="1" stop-color="#170000"/></linearGradient>
<linearGradient id="r277" gradientUnits="userSpaceOnUse" x1="0" x2="0" y1="157.56" y2="166.39"><stop offset=".000" stop-color="#130000"/><stop offset=".178" stop-color="#3b0000"/><stop offset=".229" stop-color="#670000"/><stop offset=".280" stop-color="#cb0000"/><stop offset=".281" stop-color="#cd0000"/><stop offset=".313" stop-color="#ff4000"/><stop offset=".345" stop-color="#ffd900"/><stop offset=".371" stop-color="#ffff9c"/><stop offset=".390" stop-color="#ffffff"/><stop offset=".397" stop-color="#ffffff"/><stop offset=".423" stop-color="#ffffff"/><stop offset=".445" stop-color="#ffffff"/><stop offset=".448" stop-color="#ffffff"/><stop offset=".474" stop-color="#ffffff"/><stop offset=".500" stop-color="#ffffff"/><stop offset=".526" stop-color="#ffffff"/><stop offset=".552" stop-color="#ffffff"/><stop offset=".555" stop-color="#ffffff"/><stop offset=".577" stop-color="#ffffff"/><stop offset=".603" stop-color="#ffffff"/><stop offset=".610" stop-color="#ffffff"/><stop offset=".629" stop-color="#ffff9c"/><stop offset=".655" stop-color="#ffd900"/><stop offset=".687" stop-color="#ff4000"/><stop offset=".719" stop-color="#cd0000"/><stop offset=".720" stop-color="#cb0000"/><stop offset=".771" stop-color="#670000"/><stop offset=".822" stop-color="#3b0000"/><stop offset="1" stop-color="#130000"/></linearGradient>
<linearGradient id="r278" gradientUnits="userSpaceOnUse" x1="0" x2="0" y1="156.11" y2="168.14"><stop offset=".000" stop-color="#160000"/><stop offset=".153" stop-color="#320000"/><stop offset=".208" stop-color="#4b0000"/><stop offset=".264" stop-color="#8b0000"/><stop offset=".299" stop-color="#d80000"/><stop offset=".315" stop-color="#ff0900"/><stop offset=".333" stop-color="#ff4e00"/><stop offset=".361" stop-color="#ffc800"/><stop offset=".389" stop-color="#ffff77"/><stop offset=".407" stop-color="#fffffd"/><stop offset=".417" stop-color="#ffffff"/><stop offset=".444" stop-color="#ffffff"/><stop offset=".454" stop-color="#ffffff"/><stop offset=".472" stop-color="#ffffff"/><stop offset=".500" stop-color="#ffffff"/><stop offset=".528" stop-color="#ffffff"/><stop offset=".546" stop-color="#ffffff"/><stop offset=".556" stop-color="#ffffff"/><stop offset=".583" stop-color="#ffffff"/><stop offset=".593" stop-color="#fffffd"/><stop offset=".611" stop-color="#ffff77"/><stop offset=".639" stop-color="#ffc800"/><stop offset=".667" stop-color="#ff4e00"/><stop offset=".685" stop-color="#ff0900"/><stop offset=".701" stop-color="#d80000"/><stop offset=".736" stop-color="#8b0000"/><stop offset=".792" stop-color="#4b0000"/><stop offset=".847" stop-color="#320000"/><stop offset="1" stop-color="#160000"/></linearGradient>
<linearGradient id="r279" gradientUnits="userSpaceOnUse" x1="0" x2="0" y1="154.81" y2="169.73"><stop offset=".000" stop-color="#180000"/><stop offset=".139" stop-color="#300000"/><stop offset=".197" stop-color="#460000"/><stop offset=".255" stop-color="#7a0000"/><stop offset=".291" stop-color="#b70000"/><stop offset=".327" stop-color="#ff1400"/><stop offset=".331" stop-color="#ff2200"/><stop offset=".356" stop-color="#ff7800"/><stop offset=".385" stop-color="#ffed00"/><stop offset=".413" stop-color="#ffff9a"/><stop offset=".416" stop-color="#ffffa8"/><stop offset=".442" stop-color="#ffffff"/><stop offset=".458" stop-color="#ffffff"/><stop offset=".471" stop-color="#ffffff"/><stop offset=".500" stop-color="#ffffff"/><stop offset=".529" stop-color="#ffffff"/><stop offset=".542" stop-color="#ffffff"/><stop offset=".558" stop-color="#ffffff"/><stop offset=".584" stop-color="#ffffa8"/><stop offset=".587" stop-color="#ffff9a"/><stop offset=".615" stop-color="#ffed00"/><stop offset=".644" stop-color="#ff7800"/><stop offset=".669" stop-color="#ff2200"/><stop offset=".673" stop-color="#ff1400"/><stop offset=".709" stop-color="#b70000"/><stop offset=".745" stop-color="#7a0000"/><stop offset=".803" stop-color="#460000"/><stop offset=".861" stop-color="#300000"/><stop offset="1" stop-color="#180000"/></linearGradient>
<linearGradient id="r280" gradientUnits="userSpaceOnUse" x1="0" x2="0" y1="153.6" y2="171.24"><stop offset=".000" stop-color="#190000"/><stop offset=".131" stop-color="#2f0000"/><stop offset=".190" stop-color="#440000"/><stop offset=".249" stop-color="#730000"/><stop offset=".286" stop-color="#a80000"/><stop offset=".323" stop-color="#f60000"/><stop offset=".341" stop-color="#ff2900"/><stop offset=".352" stop-color="#ff4b00"/><stop offset=".382" stop-color="#ffaf00"/><stop offset=".411" stop-color="#ffff28"/><stop offset=".420" stop-color="#ffff58"/><stop offset=".441" stop-color="#ffffba"/><stop offset=".460" stop-color="#ffffff"/><stop offset=".470" stop-color="#ffffff"/><stop offset=".500" stop-color="#ffffff"/><stop offset=".530" stop-color="#ffffff"/><stop offset=".540" stop-color="#ffffff"/><stop offset=".559" stop-color="#ffffba"/><stop offset=".580" stop-color="#ffff58"/><stop offset=".589" stop-color="#ffff28"/><stop offset=".618" stop-color="#ffaf00"/><stop offset=".648" stop-color="#ff4b00"/><stop offset=".659" stop-color="#ff2900"/><stop offset=".677" stop-color="#f60000"/><stop offset=".714" stop-color="#a80000"/><stop offset=".751" stop-color="#730000"/><stop offset=".810" stop-color="#440000"/><stop offset=".869" stop-color="#2f0000"/><stop offset="1" stop-color="#190000"/></linearGradient>
<linearGradient id="r281" gradientUnits="userSpaceOnUse" x1="0" x2="0" y1="152.44" y2="172.7"><stop offset=".000" stop-color="#190000"/><stop offset=".124" stop-color="#2d0000"/><stop offset=".185" stop-color="#420000"/><stop offset=".245" stop-color="#6e0000"/><stop offset=".282" stop-color="#9f0000"/><stop offset=".320" stop-color="#e40000"/><stop offset=".347" stop-color="#ff2800"/><stop offset=".350" stop-color="#ff2e00"/><stop offset=".380" stop-color="#ff8500"/><stop offset=".410" stop-color="#ffe200"/><stop offset=".424" stop-color="#ffff12"/><stop offset=".440" stop-color="#ffff56"/><stop offset=".462" stop-color="#ffff9f"/><stop offset=".470" stop-color="#ffffb3"/><stop offset=".500" stop-color="#ffffd4"/><stop offset=".530" stop-color="#ffffb3"/><stop offset=".538" stop-color="#ffff9f"/><stop offset=".560" stop-color="#ffff56"/><stop offset=".576" stop-color="#ffff12"/><stop offset=".590" stop-color="#ffe200"/><stop offset=".620" stop-color="#ff8500"/><stop offset=".650" stop-color="#ff2e00"/><stop offset=".653" stop-color="#ff2800"/><stop offset=".680" stop-color="#e40000"/><stop offset=".718" stop-color="#9f0000"/><stop offset=".755" stop-color="#6e0000"/><stop offset=".815" stop-color="#420000"/><stop offset=".876" stop-color="#2d0000"/><stop offset="1" stop-color="#190000"/></linearGradient>
<linearGradient id="r282" gradientUnits="userSpaceOnUse" x1="0" x2="0" y1="151.32" y2="174.11"><stop offset=".000" stop-color="#190000"/><stop offset=".120" stop-color="#2c0000"/><stop offset=".181" stop-color="#400000"/><stop offset=".242" stop-color="#6a0000"/><stop offset=".280" stop-color="#980000"/><stop offset=".318" stop-color="#d80000"/><stop offset=".348" stop-color="#ff1a00"/><stop offset=".352" stop-color="#ff2200"/><stop offset=".378" stop-color="#ff6600"/><stop offset=".409" stop-color="#ffb700"/><stop offset=".426" stop-color="#ffe300"/><stop offset=".439" stop-color="#ffff06"/><stop offset=".463" stop-color="#ffff4a"/><stop offset=".470" stop-color="#ffff58"/><stop offset=".500" stop-color="#ffff75"/><stop offset=".530" stop-color="#ffff58"/><stop offset=".537" stop-color="#ffff4a"/><stop offset=".561" stop-color="#ffff06"/><stop offset=".574" stop-color="#ffe300"/><stop offset=".591" stop-color="#ffb700"/><stop offset=".622" stop-color="#ff6600"/><stop offset=".648" stop-color="#ff2200"/><stop offset=".652" stop-color="#ff1a00"/><stop offset=".682" stop-color="#d80000"/><stop offset=".720" stop-color="#980000"/><stop offset=".758" stop-color="#6a0000"/><stop offset=".819" stop-color="#400000"/><stop offset=".880" stop-color="#2c0000"/><stop offset="1" stop-color="#190000"/></linearGradient>
<linearGradient id="r283" gradientUnits="userSpaceOnUse" x1="0" x2="0" y1="150.23" y2="175.5"><stop offset=".000" stop-color="#190000"/><stop offset=".116" stop-color="#2b0000"/><stop offset=".178" stop-color="#3e0000"/><stop offset=".239" stop-color="#670000"/><stop offset=".277" stop-color="#930000"/><stop offset=".316" stop-color="#cf0000"/><stop offset=".347" stop-color="#ff0a00"/><stop offset=".355" stop-color="#ff1c00"/><stop offset=".377" stop-color="#ff4e00"/><stop offset=".408" stop-color="#ff9500"/><stop offset=".427" stop-color="#ffc100"/><stop offset=".439" stop-color="#ffd800"/><stop offset=".464" stop-color="#ffff03"/><stop offset=".469" stop-color="#ffff0d"/><stop offset=".500" stop-color="#ffff26"/><stop offset=".531" stop-color="#ffff0d"/><stop offset=".536" stop-color="#ffff03"/><stop offset=".561" stop-color="#ffd800"/><stop offset=".573" stop-color="#ffc100"/><stop offset=".592" stop-color="#ff9500"/><stop offset=".623" stop-color="#ff4e00"/><stop offset=".645" stop-color="#ff1c00"/><stop offset=".653" stop-color="#ff0a00"/><stop offset=".684" stop-color="#cf0000"/><stop offset=".723" stop-color="#930000"/><stop offset=".761" stop-color="#670000"/><stop offset=".822" stop-color="#3e0000"/><stop offset=".884" stop-color="#2b0000"/><stop offset="1" stop-color="#190000"/></linearGradient>
<linearGradient id="r284" gradientUnits="userSpaceOnUse" x1="0" x2="0" y1="149.17" y2="176.85"><stop offset=".000" stop-color="#190000"/><stop offset=".113" stop-color="#2a0000"/><stop offset=".175" stop-color="#3d0000"/><stop offset=".237" stop-color="#640000"/><stop offset=".276" stop-color="#8e0000"/><stop offset=".314" stop-color="#c70000"/><stop offset=".345" stop-color="#fc0000"/><stop offset=".357" stop-color="#ff1400"/><stop offset=".376" stop-color="#ff3b00"/><stop offset=".407" stop-color="#ff7a00"/><stop offset=".429" stop-color="#ffa400"/><stop offset=".438" stop-color="#ffb500"/><stop offset=".464" stop-color="#ffd900"/><stop offset=".469" stop-color="#ffde00"/><stop offset=".500" stop-color="#ffed00"/><stop offset=".531" stop-color="#ffde00"/><stop offset=".536" stop-color="#ffd900"/><stop offset=".562" stop-color="#ffb500"/><stop offset=".571" stop-color="#ffa400"/><stop offset=".593" stop-color="#ff7a00"/><stop offset=".624" stop-color="#ff3b00"/><stop offset=".643" stop-color="#ff1400"/><stop offset=".655" stop-color="#fc0000"/><stop offset=".686" stop-color="#c70000"/><stop offset=".724" stop-color="#8e0000"/><stop offset=".763" stop-color="#640000"/><stop offset=".825" stop-color="#3d0000"/><stop offset=".887" stop-color="#2a0000"/><stop offset="1" stop-color="#190000"/></linearGradient>
<linearGradient id="r285" gradientUnits="userSpaceOnUse" x1="0" x2="0" y1="148.13" y2="178.19"><stop offset=".000" stop-color="#190000"/><stop offset=".111" stop-color="#290000"/><stop offset=".173" stop-color="#3b0000"/><stop offset=".236" stop-color="#610000"/><stop offset=".274" stop-color="#8a0000"/><stop offset=".313" stop-color="#c00000"/><stop offset=".344" stop-color="#f20000"/><stop offset=".359" stop-color="#ff0d00"/><stop offset=".376" stop-color="#ff2b00"/><stop offset=".407" stop-color="#ff6400"/><stop offset=".429" stop-color="#ff8b00"/><stop offset=".438" stop-color="#ff9700"/><stop offset=".465" stop-color="#ffb800"/><stop offset=".469" stop-color="#ffbb00"/><stop offset=".500" stop-color="#ffc800"/><stop offset=".531" stop-color="#ffbb00"/><stop offset=".535" stop-color="#ffb800"/><stop offset=".562" stop-color="#ff9700"/><stop offset=".571" stop-color="#ff8b00"/><stop offset=".593" stop-color="#ff6400"/><stop offset=".624" stop-color="#ff2b00"/><stop offset=".641" stop-color="#ff0d00"/><stop offset=".656" stop-color="#f20000"/><stop offset=".687" stop-color="#c00000"/><stop offset=".726" stop-color="#8a0000"/><stop offset=".764" stop-color="#610000"/><stop offset=".827" stop-color="#3b0000"/><stop offset=".889" stop-color="#290000"/><stop offset="1" stop-color="#190000"/></linearGradient>
<linearGradient id="r286" gradientUnits="userSpaceOnUse" x1="0" x2="0" y1="147.11" y2="179.51"><stop offset=".000" stop-color="#190000"/><stop offset=".109" stop-color="#280000"/><stop offset=".172" stop-color="#3a0000"/><stop offset=".234" stop-color="#5f0000"/><stop offset=".273" stop-color="#860000"/><stop offset=".312" stop-color="#ba0000"/><stop offset=".344" stop-color="#e90000"/><stop offset=".360" stop-color="#ff0500"/><stop offset=".375" stop-color="#ff1e00"/><stop offset=".406" stop-color="#ff5100"/><stop offset=".430" stop-color="#ff7500"/><stop offset=".437" stop-color="#ff7f00"/><stop offset=".465" stop-color="#ff9b00"/><stop offset=".469" stop-color="#ff9e00"/><stop offset=".500" stop-color="#ffa900"/><stop offset=".531" stop-color="#ff9e00"/><stop offset=".535" stop-color="#ff9b00"/><stop offset=".563" stop-color="#ff7f00"/><stop offset=".570" stop-color="#ff7500"/><stop offset=".594" stop-color="#ff5100"/><stop offset=".625" stop-color="#ff1e00"/><stop offset=".640" stop-color="#ff0500"/><stop offset=".656" stop-color="#e90000"/><stop offset=".688" stop-color="#ba0000"/><stop offset=".727" stop-color="#860000"/><stop offset=".766" stop-color="#5f0000"/><stop offset=".828" stop-color="#3a0000"/><stop offset=".891" stop-color="#280000"/><stop offset="1" stop-color="#190000"/></linearGradient>
<linearGradient id="r287" gradientUnits="userSpaceOnUse" x1="0" x2="0" y1="146.11" y2="180.8"><stop offset=".000" stop-color="#190000"/><stop offset=".107" stop-color="#270000"/><stop offset=".170" stop-color="#380000"/><stop offset=".233" stop-color="#5c0000"/><stop offset=".272" stop-color="#820000"/><stop offset=".312" stop-color="#b40000"/><stop offset=".343" stop-color="#e20000"/><stop offset=".361" stop-color="#fd0000"/><stop offset=".374" stop-color="#ff1200"/><stop offset=".406" stop-color="#ff4100"/><stop offset=".431" stop-color="#ff6200"/><stop offset=".437" stop-color="#ff6a00"/><stop offset=".465" stop-color="#ff8300"/><stop offset=".469" stop-color="#ff8500"/><stop offset=".500" stop-color="#ff8e00"/><stop offset=".531" stop-color="#ff8500"/><stop offset=".535" stop-color="#ff8300"/><stop offset=".563" stop-color="#ff6a00"/><stop offset=".569" stop-color="#ff6200"/><stop offset=".594" stop-color="#ff4100"/><stop offset=".626" stop-color="#ff1200"/><stop offset=".639" stop-color="#fd0000"/><stop offset=".657" stop-color="#e20000"/><stop offset=".688" stop-color="#b40000"/><stop offset=".728" stop-color="#820000"/><stop offset=".767" stop-color="#5c0000"/><stop offset=".830" stop-color="#380000"/><stop offset=".893" stop-color="#270000"/><stop offset="1" stop-color="#190000"/></linearGradient>
<linearGradient id="r288" gradientUnits="userSpaceOnUse" x1="0" x2="0" y1="145.13" y2="182.09"><stop offset=".000" stop-color="#190000"/><stop offset=".106" stop-color="#270000"/><stop offset=".169" stop-color="#370000"/><stop offset=".232" stop-color="#5a0000"/><stop offset=".271" stop-color="#7f0000"/><stop offset=".311" stop-color="#af0000"/><stop offset=".342" stop-color="#db0000"/><stop offset=".362" stop-color="#f60000"/><stop offset=".374" stop-color="#ff0800"/><stop offset=".405" stop-color="#ff3400"/><stop offset=".431" stop-color="#ff5200"/><stop offset=".437" stop-color="#ff5800"/><stop offset=".465" stop-color="#ff6e00"/><stop offset=".468" stop-color="#ff7000"/><stop offset=".500" stop-color="#ff7800"/><stop offset=".532" stop-color="#ff7000"/><stop offset=".535" stop-color="#ff6e00"/><stop offset=".563" stop-color="#ff5800"/><stop offset=".569" stop-color="#ff5200"/><stop offset=".595" stop-color="#ff3400"/><stop offset=".626" stop-color="#ff0800"/><stop offset=".638" stop-color="#f60000"/><stop offset=".658" stop-color="#db0000"/><stop offset=".689" stop-color="#af0000"/><stop offset=".729" stop-color="#7f0000"/><stop offset=".768" stop-color="#5a0000"/><stop offset=".831" stop-color="#370000"/><stop offset=".894" stop-color="#270000"/><stop offset="1" stop-color="#190000"/></linearGradient>
<linearGradient id="r289" gradientUnits="userSpaceOnUse" x1="0" x2="0" y1="144.15" y2="183.36"><stop offset=".000" stop-color="#180000"/><stop offset=".105" stop-color="#260000"/><stop offset=".168" stop-color="#360000"/><stop offset=".231" stop-color="#580000"/><stop offset=".271" stop-color="#7c0000"/><stop offset=".310" stop-color="#ab0000"/><stop offset=".342" stop-color="#d40000"/><stop offset=".362" stop-color="#f00000"/><stop offset=".373" stop-color="#fe0000"/><stop offset=".405" stop-color="#ff2700"/><stop offset=".431" stop-color="#ff4300"/><stop offset=".437" stop-color="#ff4800"/><stop offset=".466" stop-color="#ff5c00"/><stop offset=".468" stop-color="#ff5d00"/><stop offset=".500" stop-color="#ff6400"/><stop offset=".532" stop-color="#ff5d00"/><stop offset=".534" stop-color="#ff5c00"/><stop offset=".563" stop-color="#ff4800"/><stop offset=".569" stop-color="#ff4300"/><stop offset=".595" stop-color="#ff2700"/><stop offset=".627" stop-color="#fe0000"/><stop offset=".638" stop-color="#f00000"/><stop offset=".658" stop-color="#d40000"/><stop offset=".690" stop-color="#ab0000"/><stop offset=".729" stop-color="#7c0000"/><stop offset=".769" stop-color="#580000"/><stop offset=".832" stop-color="#360000"/><stop offset=".895" stop-color="#260000"/><stop offset="1" stop-color="#180000"/></linearGradient>
<linearGradient id="r290" gradientUnits="userSpaceOnUse" x1="0" x2="0" y1="143.19" y2="184.61"><stop offset=".000" stop-color="#180000"/><stop offset=".103" stop-color="#250000"/><stop offset=".167" stop-color="#350000"/><stop offset=".230" stop-color="#560000"/><stop offset=".270" stop-color="#790000"/><stop offset=".310" stop-color="#a60000"/><stop offset=".341" stop-color="#cf0000"/><stop offset=".363" stop-color="#ea0000"/><stop offset=".373" stop-color="#f60000"/><stop offset=".405" stop-color="#ff1d00"/><stop offset=".431" stop-color="#ff3600"/><stop offset=".437" stop-color="#ff3b00"/><stop offset=".466" stop-color="#ff4d00"/><stop offset=".468" stop-color="#ff4e00"/><stop offset=".500" stop-color="#ff5300"/><stop offset=".532" stop-color="#ff4e00"/><stop offset=".534" stop-color="#ff4d00"/><stop offset=".563" stop-color="#ff3b00"/><stop offset=".569" stop-color="#ff3600"/><stop offset=".595" stop-color="#ff1d00"/><stop offset=".627" stop-color="#f60000"/><stop offset=".637" stop-color="#ea0000"/><stop offset=".659" stop-color="#cf0000"/><stop offset=".690" stop-color="#a60000"/><stop offset=".730" stop-color="#790000"/><stop offset=".770" stop-color="#560000"/><stop offset=".833" stop-color="#350000"/><stop offset=".897" stop-color="#250000"/><stop offset="1" stop-color="#180000"/></linearGradient>
<linearGradient id="r291" gradientUnits="userSpaceOnUse" x1="0" x2="0" y1="142.25" y2="185.86"><stop offset=".000" stop-color="#180000"/><stop offset=".102" stop-color="#250000"/><stop offset=".166" stop-color="#340000"/><stop offset=".230" stop-color="#540000"/><stop offset=".269" stop-color="#760000"/><stop offset=".309" stop-color="#a20000"/><stop offset=".341" stop-color="#c90000"/><stop offset=".363" stop-color="#e40000"/><stop offset=".373" stop-color="#ef0000"/><stop offset=".405" stop-color="#ff1300"/><stop offset=".432" stop-color="#ff2b00"/><stop offset=".436" stop-color="#ff2f00"/><stop offset=".466" stop-color="#ff3f00"/><stop offset=".468" stop-color="#ff4000"/><stop offset=".500" stop-color="#ff4500"/><stop offset=".532" stop-color="#ff4000"/><stop offset=".534" stop-color="#ff3f00"/><stop offset=".564" stop-color="#ff2f00"/><stop offset=".568" stop-color="#ff2b00"/><stop offset=".595" stop-color="#ff1300"/><stop offset=".627" stop-color="#ef0000"/><stop offset=".637" stop-color="#e40000"/><stop offset=".659" stop-color="#c90000"/><stop offset=".691" stop-color="#a20000"/><stop offset=".731" stop-color="#760000"/><stop offset=".770" stop-color="#540000"/><stop offset=".834" stop-color="#340000"/><stop offset=".898" stop-color="#250000"/><stop offset="1" stop-color="#180000"/></linearGradient>
<linearGradient id="r292" gradientUnits="userSpaceOnUse" x1="0" x2="0" y1="141.31" y2="187.09"><stop offset=".000" stop-color="#180000"/><stop offset=".102" stop-color="#240000"/><stop offset=".165" stop-color="#330000"/><stop offset=".229" stop-color="#520000"/><stop offset=".269" stop-color="#730000"/><stop offset=".309" stop-color="#9e0000"/><stop offset=".341" stop-color="#c40000"/><stop offset=".363" stop-color="#df0000"/><stop offset=".372" stop-color="#e90000"/><stop offset=".404" stop-color="#ff0a00"/><stop offset=".432" stop-color="#ff2100"/><stop offset=".436" stop-color="#ff2400"/><stop offset=".466" stop-color="#ff3300"/><stop offset=".468" stop-color="#ff3300"/><stop offset=".500" stop-color="#ff3800"/><stop offset=".532" stop-color="#ff3300"/><stop offset=".534" stop-color="#ff3300"/><stop offset=".564" stop-color="#ff2400"/><stop offset=".568" stop-color="#ff2100"/><stop offset=".596" stop-color="#ff0a00"/><stop offset=".628" stop-color="#e90000"/><stop offset=".637" stop-color="#df0000"/><stop offset=".659" stop-color="#c40000"/><stop offset=".691" stop-color="#9e0000"/><stop offset=".731" stop-color="#730000"/><stop offset=".771" stop-color="#520000"/><stop offset=".835" stop-color="#330000"/><stop offset=".898" stop-color="#240000"/><stop offset="1" stop-color="#180000"/></linearGradient>
<linearGradient id="r293" gradientUnits="userSpaceOnUse" x1="0" x2="0" y1="140.38" y2="188.32"><stop offset=".000" stop-color="#180000"/><stop offset=".101" stop-color="#230000"/><stop offset=".165" stop-color="#320000"/><stop offset=".228" stop-color="#500000"/><stop offset=".268" stop-color="#710000"/><stop offset=".308" stop-color="#9b0000"/><stop offset=".340" stop-color="#bf0000"/><stop offset=".364" stop-color="#d90000"/><stop offset=".372" stop-color="#e30000"/><stop offset=".404" stop-color="#ff0200"/><stop offset=".432" stop-color="#ff1800"/><stop offset=".436" stop-color="#ff1a00"/><stop offset=".466" stop-color="#ff2800"/><stop offset=".468" stop-color="#ff2800"/><stop offset=".500" stop-color="#ff2c00"/><stop offset=".532" stop-color="#ff2800"/><stop offset=".534" stop-color="#ff2800"/><stop offset=".564" stop-color="#ff1a00"/><stop offset=".568" stop-color="#ff1800"/><stop offset=".596" stop-color="#ff0200"/><stop offset=".628" stop-color="#e30000"/><stop offset=".636" stop-color="#d90000"/><stop offset=".660" stop-color="#bf0000"/><stop offset=".692" stop-color="#9b0000"/><stop offset=".732" stop-color="#710000"/><stop offset=".772" stop-color="#500000"/><stop offset=".835" stop-color="#320000"/><stop offset=".899" stop-color="#230000"/><stop offset="1" stop-color="#180000"/></linearGradient>
<linearGradient id="r294" gradientUnits="userSpaceOnUse" x1="0" x2="0" y1="139.46" y2="189.54"><stop offset=".000" stop-color="#170000"/><stop offset=".100" stop-color="#230000"/><stop offset=".164" stop-color="#310000"/><stop offset=".228" stop-color="#4f0000"/><stop offset=".268" stop-color="#6e0000"/><stop offset=".308" stop-color="#970000"/><stop offset=".340" stop-color="#bb0000"/><stop offset=".364" stop-color="#d50000"/><stop offset=".372" stop-color="#dd0000"/><stop offset=".404" stop-color="#fa0000"/><stop offset=".432" stop-color="#ff0f00"/><stop offset=".436" stop-color="#ff1200"/><stop offset=".466" stop-color="#ff1e00"/><stop offset=".468" stop-color="#ff1e00"/><stop offset=".500" stop-color="#ff2200"/><stop offset=".532" stop-color="#ff1e00"/><stop offset=".534" stop-color="#ff1e00"/><stop offset=".564" stop-color="#ff1200"/><stop offset=".568" stop-color="#ff0f00"/><stop offset=".596" stop-color="#fa0000"/><stop offset=".628" stop-color="#dd0000"/><stop offset=".636" stop-color="#d50000"/><stop offset=".660" stop-color="#bb0000"/><stop offset=".692" stop-color="#970000"/><stop offset=".732" stop-color="#6e0000"/><stop offset=".772" stop-color="#4f0000"/><stop offset=".836" stop-color="#310000"/><stop offset=".900" stop-color="#230000"/><stop offset="1" stop-color="#170000"/></linearGradient>
<linearGradient id="r295" gradientUnits="userSpaceOnUse" x1="0" x2="0" y1="138.55" y2="190.74"><stop offset=".000" stop-color="#170000"/><stop offset=".099" stop-color="#220000"/><stop offset=".163" stop-color="#300000"/><stop offset=".228" stop-color="#4d0000"/><stop offset=".268" stop-color="#6c0000"/><stop offset=".308" stop-color="#940000"/><stop offset=".340" stop-color="#b70000"/><stop offset=".364" stop-color="#d00000"/><stop offset=".372" stop-color="#d80000"/><stop offset=".404" stop-color="#f40000"/><stop offset=".432" stop-color="#ff0700"/><stop offset=".436" stop-color="#ff0a00"/><stop offset=".466" stop-color="#ff1500"/><stop offset=".468" stop-color="#ff1600"/><stop offset=".500" stop-color="#ff1900"/><stop offset=".532" stop-color="#ff1600"/><stop offset=".534" stop-color="#ff1500"/><stop offset=".564" stop-color="#ff0a00"/><stop offset=".568" stop-color="#ff0700"/><stop offset=".596" stop-color="#f40000"/><stop offset=".628" stop-color="#d80000"/><stop offset=".636" stop-color="#d00000"/><stop offset=".660" stop-color="#b70000"/><stop offset=".692" stop-color="#940000"/><stop offset=".732" stop-color="#6c0000"/><stop offset=".772" stop-color="#4d0000"/><stop offset=".837" stop-color="#300000"/><stop offset=".901" stop-color="#220000"/><stop offset="1" stop-color="#170000"/></linearGradient>
<linearGradient id="r296" gradientUnits="userSpaceOnUse" x1="0" x2="0" y1="137.65" y2="191.94"><stop offset=".000" stop-color="#170000"/><stop offset=".099" stop-color="#220000"/><stop offset=".163" stop-color="#2f0000"/><stop offset=".227" stop-color="#4c0000"/><stop offset=".267" stop-color="#6a0000"/><stop offset=".307" stop-color="#910000"/><stop offset=".339" stop-color="#b30000"/><stop offset=".364" stop-color="#cb0000"/><stop offset=".372" stop-color="#d30000"/><stop offset=".404" stop-color="#ee0000"/><stop offset=".432" stop-color="#ff0000"/><stop offset=".436" stop-color="#ff0200"/><stop offset=".466" stop-color="#ff0d00"/><stop offset=".468" stop-color="#ff0d00"/><stop offset=".500" stop-color="#ff1000"/><stop offset=".532" stop-color="#ff0d00"/><stop offset=".534" stop-color="#ff0d00"/><stop offset=".564" stop-color="#ff0200"/><stop offset=".568" stop-color="#ff0000"/><stop offset=".596" stop-color="#ee0000"/><stop offset=".628" stop-color="#d30000"/><stop offset=".636" stop-color="#cb0000"/><stop offset=".661" stop-color="#b30000"/><stop offset=".693" stop-color="#910000"/><stop offset=".733" stop-color="#6a0000"/><stop offset=".773" stop-color="#4c0000"/><stop offset=".837" stop-color="#2f0000"/><stop offset=".901" stop-color="#220000"/><stop offset="1" stop-color="#170000"/></linearGradient>
<linearGradient id="r297" gradientUnits="userSpaceOnUse" x1="0" x2="0" y1="136.75" y2="193.14"><stop offset=".000" stop-color="#170000"/><stop offset=".098" stop-color="#210000"/><stop offset=".162" stop-color="#2e0000"/><stop offset=".227" stop-color="#4a0000"/><stop offset=".267" stop-color="#680000"/><stop offset=".307" stop-color="#8e0000"/><stop offset=".339" stop-color="#af0000"/><stop offset=".364" stop-color="#c70000"/><stop offset=".371" stop-color="#ce0000"/><stop offset=".404" stop-color="#e80000"/><stop offset=".432" stop-color="#f90000"/><stop offset=".436" stop-color="#fb0000"/><stop offset=".466" stop-color="#ff0600"/><stop offset=".468" stop-color="#ff0600"/><stop offset=".500" stop-color="#ff0900"/><stop offset=".532" stop-color="#ff0600"/><stop offset=".534" stop-color="#ff0600"/><stop offset=".564" stop-color="#fb0000"/><stop offset=".568" stop-color="#f90000"/><stop offset=".596" stop-color="#e80000"/><stop offset=".629" stop-color="#ce0000"/><stop offset=".636" stop-color="#c70000"/><stop offset=".661" stop-color="#af0000"/><stop offset=".693" stop-color="#8e0000"/><stop offset=".733" stop-color="#680000"/><stop offset=".773" stop-color="#4a0000"/><stop offset=".838" stop-color="#2e0000"/><stop offset=".902" stop-color="#210000"/><stop offset="1" stop-color="#170000"/></linearGradient>
<linearGradient id="r298" gradientUnits="userSpaceOnUse" x1="0" x2="0" y1="135.86" y2="194.32"><stop offset=".000" stop-color="#160000"/><stop offset=".098" stop-color="#210000"/><stop offset=".162" stop-color="#2e0000"/><stop offset=".226" stop-color="#490000"/><stop offset=".267" stop-color="#660000"/><stop offset=".307" stop-color="#8b0000"/><stop offset=".339" stop-color="#ab0000"/><stop offset=".364" stop-color="#c30000"/><stop offset=".371" stop-color="#ca0000"/><stop offset=".403" stop-color="#e30000"/><stop offset=".432" stop-color="#f30000"/><stop offset=".436" stop-color="#f50000"/><stop offset=".466" stop-color="#fe0000"/><stop offset=".468" stop-color="#fe0000"/><stop offset=".500" stop-color="#ff0200"/><stop offset=".532" stop-color="#fe0000"/><stop offset=".534" stop-color="#fe0000"/><stop offset=".564" stop-color="#f50000"/><stop offset=".568" stop-color="#f30000"/><stop offset=".597" stop-color="#e30000"/><stop offset=".629" stop-color="#ca0000"/><stop offset=".636" stop-color="#c30000"/><stop offset=".661" stop-color="#ab0000"/><stop offset=".693" stop-color="#8b0000"/><stop offset=".733" stop-color="#660000"/><stop offset=".774" stop-color="#490000"/><stop offset=".838" stop-color="#2e0000"/><stop offset=".902" stop-color="#210000"/><stop offset="1" stop-color="#160000"/></linearGradient>
<linearGradient id="r299" gradientUnits="userSpaceOnUse" x1="0" x2="0" y1="134.98" y2="195.5"><stop offset=".000" stop-color="#160000"/><stop offset=".097" stop-color="#200000"/><stop offset=".162" stop-color="#2d0000"/><stop offset=".226" stop-color="#480000"/><stop offset=".266" stop-color="#640000"/><stop offset=".307" stop-color="#880000"/><stop offset=".339" stop-color="#a80000"/><stop offset=".363" stop-color="#bf0000"/><stop offset=".371" stop-color="#c60000"/><stop offset=".403" stop-color="#de0000"/><stop offset=".432" stop-color="#ee0000"/><stop offset=".436" stop-color="#ef0000"/><stop offset=".466" stop-color="#f80000"/><stop offset=".468" stop-color="#f80000"/><stop offset=".500" stop-color="#fb0000"/><stop offset=".532" stop-color="#f80000"/><stop offset=".534" stop-color="#f80000"/><stop offset=".564" stop-color="#ef0000"/><stop offset=".568" stop-color="#ee0000"/><stop offset=".597" stop-color="#de0000"/><stop offset=".629" stop-color="#c60000"/><stop offset=".637" stop-color="#bf0000"/><stop offset=".661" stop-color="#a80000"/><stop offset=".693" stop-color="#880000"/><stop offset=".734" stop-color="#640000"/><stop offset=".774" stop-color="#480000"/><stop offset=".838" stop-color="#2d0000"/><stop offset=".903" stop-color="#200000"/><stop offset="1" stop-color="#160000"/></linearGradient>
<linearGradient id="r300" gradientUnits="userSpaceOnUse" x1="0" x2="0" y1="134.11" y2="196.67"><stop offset=".000" stop-color="#160000"/><stop offset=".097" stop-color="#200000"/><stop offset=".161" stop-color="#2c0000"/><stop offset=".226" stop-color="#460000"/><stop offset=".266" stop-color="#620000"/><stop offset=".306" stop-color="#860000"/><stop offset=".339" stop-color="#a50000"/><stop offset=".363" stop-color="#bb0000"/><stop offset=".371" stop-color="#c20000"/><stop offset=".403" stop-color="#da0000"/><stop offset=".432" stop-color="#e90000"/><stop offset=".435" stop-color="#ea0000"/><stop offset=".466" stop-color="#f20000"/><stop offset=".468" stop-color="#f30000"/><stop offset=".500" stop-color="#f50000"/><stop offset=".532" stop-color="#f30000"/><stop offset=".534" stop-color="#f20000"/><stop offset=".565" stop-color="#ea0000"/><stop offset=".568" stop-color="#e90000"/><stop offset=".597" stop-color="#da0000"/><stop offset=".629" stop-color="#c20000"/><stop offset=".637" stop-color="#bb0000"/><stop offset=".661" stop-color="#a50000"/><stop offset=".694" stop-color="#860000"/><stop offset=".734" stop-color="#620000"/><stop offset=".774" stop-color="#460000"/><stop offset=".839" stop-color="#2c0000"/><stop offset=".903" stop-color="#200000"/><stop offset="1" stop-color="#160000"/></linearGradient>
<linearGradient id="r301" gradientUnits="userSpaceOnUse" x1="0" x2="0" y1="133.24" y2="197.84"><stop offset=".000" stop-color="#160000"/><stop offset=".096" stop-color="#1f0000"/><stop offset=".161" stop-color="#2b0000"/><stop offset=".225" stop-color="#450000"/><stop offset=".266" stop-color="#600000"/><stop offset=".306" stop-color="#830000"/><stop offset=".338" stop-color="#a10000"/><stop offset=".363" stop-color="#b80000"/><stop offset=".371" stop-color="#be0000"/><stop offset=".403" stop-color="#d50000"/><stop offset=".432" stop-color="#e40000"/><stop offset=".435" stop-color="#e50000"/><stop offset=".466" stop-color="#ed0000"/><stop offset=".468" stop-color="#ed0000"/><stop offset=".500" stop-color="#ef0000"/><stop offset=".532" stop-color="#ed0000"/><stop offset=".534" stop-color="#ed0000"/><stop offset=".565" stop-color="#e50000"/><stop offset=".568" stop-color="#e40000"/><stop offset=".597" stop-color="#d50000"/><stop offset=".629" stop-color="#be0000"/><stop offset=".637" stop-color="#b80000"/><stop offset=".662" stop-color="#a10000"/><stop offset=".694" stop-color="#830000"/><stop offset=".734" stop-color="#600000"/><stop offset=".775" stop-color="#450000"/><stop offset=".839" stop-color="#2b0000"/><stop offset=".904" stop-color="#1f0000"/><stop offset="1" stop-color="#160000"/></linearGradient>
<linearGradient id="r302" gradientUnits="userSpaceOnUse" x1="0" x2="0" y1="132.37" y2="199"><stop offset=".000" stop-color="#160000"/><stop offset=".096" stop-color="#1f0000"/><stop offset=".161" stop-color="#2b0000"/><stop offset=".225" stop-color="#440000"/><stop offset=".266" stop-color="#5f0000"/><stop offset=".306" stop-color="#810000"/><stop offset=".338" stop-color="#9e0000"/><stop offset=".363" stop-color="#b40000"/><stop offset=".371" stop-color="#ba0000"/><stop offset=".403" stop-color="#d10000"/><stop offset=".432" stop-color="#df0000"/><stop offset=".435" stop-color="#e10000"/><stop offset=".466" stop-color="#e80000"/><stop offset=".468" stop-color="#e80000"/><stop offset=".500" stop-color="#ea0000"/><stop offset=".532" stop-color="#e80000"/><stop offset=".534" stop-color="#e80000"/><stop offset=".565" stop-color="#e10000"/><stop offset=".568" stop-color="#df0000"/><stop offset=".597" stop-color="#d10000"/><stop offset=".629" stop-color="#ba0000"/><stop offset=".637" stop-color="#b40000"/><stop offset=".662" stop-color="#9e0000"/><stop offset=".694" stop-color="#810000"/><stop offset=".734" stop-color="#5f0000"/><stop offset=".775" stop-color="#440000"/><stop offset=".839" stop-color="#2b0000"/><stop offset=".904" stop-color="#1f0000"/><stop offset="1" stop-color="#160000"/></linearGradient>
<linearGradient id="r303" gradientUnits="userSpaceOnUse" x1="0" x2="0" y1="267.56" y2="276.39"><stop offset=".000" stop-color="#130000"/><stop offset=".178" stop-color="#3b0000"/><stop offset=".229" stop-color="#670000"/><stop offset=".280" stop-color="#cb0000"/><stop offset=".281" stop-color="#cd0000"/><stop offset=".313" stop-color="#ff3f00"/><stop offset=".345" stop-color="#ffd900"/><stop offset=".371" stop-color="#ffff9b"/><stop offset=".390" stop-color="#ffffff"/><stop offset=".397" stop-color="#ffffff"/><stop offset=".423" stop-color="#ffffff"/><stop offset=".445" stop-color="#ffffff"/><stop offset=".448" stop-color="#ffffff"/><stop offset=".474" stop-color="#ffffff"/><stop offset=".500" stop-color="#ffffff"/><stop offset=".526" stop-color="#ffffff"/><stop offset=".552" stop-color="#ffffff"/><stop offset=".555" stop-color="#ffffff"/><stop offset=".577" stop-color="#ffffff"/><stop offset=".603" stop-color="#ffffff"/><stop offset=".610" stop-color="#ffffff"/><stop offset=".629" stop-color="#ffff9b"/><stop offset=".655" stop-color="#ffd900"/><stop offset=".687" stop-color="#ff3f00"/><stop offset=".719" stop-color="#cd0000"/><stop offset=".720" stop-color="#cb0000"/><stop offset=".771" stop-color="#670000"/><stop offset=".822" stop-color="#3b0000"/><stop offset="1" stop-color="#130000"/></linearGradient>
<linearGradient id="r304" gradientUnits="userSpaceOnUse" x1="0" x2="0" y1="266.1" y2="278.14"><stop offset=".000" stop-color="#160000"/><stop offset=".153" stop-color="#320000"/><stop offset=".208" stop-color="#4b0000"/><stop offset=".264" stop-color="#8b0000"/><stop offset=".298" stop-color="#d80000"/><stop offset=".315" stop-color="#ff0a00"/><stop offset=".333" stop-color="#ff4e00"/><stop offset=".361" stop-color="#ffc700"/><stop offset=".389" stop-color="#ffff76"/><stop offset=".407" stop-color="#fffffd"/><stop offset=".417" stop-color="#ffffff"/><stop offset=".444" stop-color="#ffffff"/><stop offset=".454" stop-color="#ffffff"/><stop offset=".472" stop-color="#ffffff"/><stop offset=".500" stop-color="#ffffff"/><stop offset=".528" stop-color="#ffffff"/><stop offset=".546" stop-color="#ffffff"/><stop offset=".556" stop-color="#ffffff"/><stop offset=".583" stop-color="#ffffff"/><stop offset=".593" stop-color="#fffffd"/><stop offset=".611" stop-color="#ffff76"/><stop offset=".639" stop-color="#ffc700"/><stop offset=".667" stop-color="#ff4e00"/><stop offset=".685" stop-color="#ff0a00"/><stop offset=".702" stop-color="#d80000"/><stop offset=".736" stop-color="#8b0000"/><stop offset=".792" stop-color="#4b0000"/><stop offset=".847" stop-color="#320000"/><stop offset="1" stop-color="#160000"/></linearGradient>
<linearGradient id="r305" gradientUnits="userSpaceOnUse" x1="0" x2="0" y1="264.8" y2="279.74"><stop offset=".000" stop-color="#180000"/><stop offset=".139" stop-color="#300000"/><stop offset=".197" stop-color="#460000"/><stop offset=".255" stop-color="#7a0000"/><stop offset=".291" stop-color="#b70000"/><stop offset=".327" stop-color="#ff1400"/><stop offset=".331" stop-color="#ff2200"/><stop offset=".356" stop-color="#ff7800"/><stop offset=".385" stop-color="#ffec00"/><stop offset=".413" stop-color="#ffff99"/><stop offset=".416" stop-color="#ffffa7"/><stop offset=".442" stop-color="#ffffff"/><stop offset=".458" stop-color="#ffffff"/><stop offset=".471" stop-color="#ffffff"/><stop offset=".500" stop-color="#ffffff"/><stop offset=".529" stop-color="#ffffff"/><stop offset=".542" stop-color="#ffffff"/><stop offset=".558" stop-color="#ffffff"/><stop offset=".584" stop-color="#ffffa7"/><stop offset=".587" stop-color="#ffff99"/><stop offset=".615" stop-color="#ffec00"/><stop offset=".644" stop-color="#ff7800"/><stop offset=".669" stop-color="#ff2200"/><stop offset=".673" stop-color="#ff1400"/><stop offset=".709" stop-color="#b70000"/><stop offset=".745" stop-color="#7a0000"/><stop offset=".803" stop-color="#460000"/><stop offset=".861" stop-color="#300000"/><stop offset="1" stop-color="#180000"/></linearGradient>
<linearGradient id="r306" gradientUnits="userSpaceOnUse" x1="0" x2="0" y1="263.59" y2="281.25"><stop offset=".000" stop-color="#190000"/><stop offset=".131" stop-color="#2f0000"/><stop offset=".190" stop-color="#440000"/><stop offset=".249" stop-color="#730000"/><stop offset=".286" stop-color="#a80000"/><stop offset=".323" stop-color="#f60000"/><stop offset=".341" stop-color="#ff2900"/><stop offset=".352" stop-color="#ff4b00"/><stop offset=".382" stop-color="#ffaf00"/><stop offset=".411" stop-color="#ffff27"/><stop offset=".421" stop-color="#ffff57"/><stop offset=".441" stop-color="#ffffb9"/><stop offset=".460" stop-color="#ffffff"/><stop offset=".470" stop-color="#ffffff"/><stop offset=".500" stop-color="#ffffff"/><stop offset=".530" stop-color="#ffffff"/><stop offset=".540" stop-color="#ffffff"/><stop offset=".559" stop-color="#ffffb9"/><stop offset=".579" stop-color="#ffff57"/><stop offset=".589" stop-color="#ffff27"/><stop offset=".618" stop-color="#ffaf00"/><stop offset=".648" stop-color="#ff4b00"/><stop offset=".659" stop-color="#ff2900"/><stop offset=".677" stop-color="#f60000"/><stop offset=".714" stop-color="#a80000"/><stop offset=".751" stop-color="#730000"/><stop offset=".810" stop-color="#440000"/><stop offset=".869" stop-color="#2f0000"/><stop offset="1" stop-color="#190000"/></linearGradient>
<linearGradient id="r307" gradientUnits="userSpaceOnUse" x1="0" x2="0" y1="262.43" y2="282.71"><stop offset=".000" stop-color="#190000"/><stop offset=".124" stop-color="#2d0000"/><stop offset=".185" stop-color="#420000"/><stop offset=".245" stop-color="#6e0000"/><stop offset=".282" stop-color="#9f0000"/><stop offset=".320" stop-color="#e40000"/><stop offset=".347" stop-color="#ff2800"/><stop offset=".350" stop-color="#ff2e00"/><stop offset=".380" stop-color="#ff8400"/><stop offset=".410" stop-color="#ffe100"/><stop offset=".424" stop-color="#ffff11"/><stop offset=".440" stop-color="#ffff55"/><stop offset=".462" stop-color="#ffff9e"/><stop offset=".470" stop-color="#ffffb2"/><stop offset=".500" stop-color="#ffffd3"/><stop offset=".530" stop-color="#ffffb2"/><stop offset=".538" stop-color="#ffff9e"/><stop offset=".560" stop-color="#ffff55"/><stop offset=".576" stop-color="#ffff11"/><stop offset=".590" stop-color="#ffe100"/><stop offset=".620" stop-color="#ff8400"/><stop offset=".650" stop-color="#ff2e00"/><stop offset=".653" stop-color="#ff2800"/><stop offset=".680" stop-color="#e40000"/><stop offset=".718" stop-color="#9f0000"/><stop offset=".755" stop-color="#6e0000"/><stop offset=".815" stop-color="#420000"/><stop offset=".876" stop-color="#2d0000"/><stop offset="1" stop-color="#190000"/></linearGradient>
<linearGradient id="r308" gradientUnits="userSpaceOnUse" x1="0" x2="0" y1="261.3" y2="284.13"><stop offset=".000" stop-color="#190000"/><stop offset=".120" stop-color="#2c0000"/><stop offset=".181" stop-color="#400000"/><stop offset=".241" stop-color="#6a0000"/><stop offset=".280" stop-color="#980000"/><stop offset=".318" stop-color="#d80000"/><stop offset=".348" stop-color="#ff1900"/><stop offset=".352" stop-color="#ff2200"/><stop offset=".378" stop-color="#ff6500"/><stop offset=".409" stop-color="#ffb600"/><stop offset=".426" stop-color="#ffe300"/><stop offset=".439" stop-color="#ffff05"/><stop offset=".463" stop-color="#ffff49"/><stop offset=".470" stop-color="#ffff57"/><stop offset=".500" stop-color="#ffff74"/><stop offset=".530" stop-color="#ffff57"/><stop offset=".537" stop-color="#ffff49"/><stop offset=".561" stop-color="#ffff05"/><stop offset=".574" stop-color="#ffe300"/><stop offset=".591" stop-color="#ffb600"/><stop offset=".622" stop-color="#ff6500"/><stop offset=".648" stop-color="#ff2200"/><stop offset=".652" stop-color="#ff1900"/><stop offset=".682" stop-color="#d80000"/><stop offset=".720" stop-color="#980000"/><stop offset=".759" stop-color="#6a0000"/><stop offset=".819" stop-color="#400000"/><stop offset=".880" stop-color="#2c0000"/><stop offset="1" stop-color="#190000"/></linearGradient>
<linearGradient id="r309" gradientUnits="userSpaceOnUse" x1="0" x2="0" y1="260.22" y2="285.52"><stop offset=".000" stop-color="#190000"/><stop offset=".116" stop-color="#2b0000"/><stop offset=".178" stop-color="#3e0000"/><stop offset=".239" stop-color="#670000"/><stop offset=".277" stop-color="#930000"/><stop offset=".316" stop-color="#ce0000"/><stop offset=".347" stop-color="#ff0a00"/><stop offset=".355" stop-color="#ff1c00"/><stop offset=".377" stop-color="#ff4e00"/><stop offset=".408" stop-color="#ff9500"/><stop offset=".427" stop-color="#ffc100"/><stop offset=".439" stop-color="#ffd700"/><stop offset=".464" stop-color="#ffff02"/><stop offset=".469" stop-color="#ffff0c"/><stop offset=".500" stop-color="#ffff25"/><stop offset=".531" stop-color="#ffff0c"/><stop offset=".536" stop-color="#ffff02"/><stop offset=".561" stop-color="#ffd700"/><stop offset=".573" stop-color="#ffc100"/><stop offset=".592" stop-color="#ff9500"/><stop offset=".623" stop-color="#ff4e00"/><stop offset=".645" stop-color="#ff1c00"/><stop offset=".653" stop-color="#ff0a00"/><stop offset=".684" stop-color="#ce0000"/><stop offset=".723" stop-color="#930000"/><stop offset=".761" stop-color="#670000"/><stop offset=".822" stop-color="#3e0000"/><stop offset=".884" stop-color="#2b0000"/><stop offset="1" stop-color="#190000"/></linearGradient>
<linearGradient id="r310" gradientUnits="userSpaceOnUse" x1="0" x2="0" y1="259.15" y2="286.88"><stop offset=".000" stop-color="#190000"/><stop offset=".113" stop-color="#2a0000"/><stop offset=".175" stop-color="#3d0000"/><stop offset=".237" stop-color="#640000"/><stop offset=".276" stop-color="#8e0000"/><stop offset=".314" stop-color="#c70000"/><stop offset=".345" stop-color="#fc0000"/><stop offset=".357" stop-color="#ff1400"/><stop offset=".376" stop-color="#ff3b00"/><stop offset=".407" stop-color="#ff7a00"/><stop offset=".429" stop-color="#ffa300"/><stop offset=".438" stop-color="#ffb400"/><stop offset=".464" stop-color="#ffd900"/><stop offset=".469" stop-color="#ffdd00"/><stop offset=".500" stop-color="#ffec00"/><stop offset=".531" stop-color="#ffdd00"/><stop offset=".536" stop-color="#ffd900"/><stop offset=".562" stop-color="#ffb400"/><stop offset=".571" stop-color="#ffa300"/><stop offset=".593" stop-color="#ff7a00"/><stop offset=".624" stop-color="#ff3b00"/><stop offset=".643" stop-color="#ff1400"/><stop offset=".655" stop-color="#fc0000"/><stop offset=".686" stop-color="#c70000"/><stop offset=".724" stop-color="#8e0000"/><stop offset=".763" stop-color="#640000"/><stop offset=".825" stop-color="#3d0000"/><stop offset=".887" stop-color="#2a0000"/><stop offset="1" stop-color="#190000"/></linearGradient>
<linearGradient id="r311" gradientUnits="userSpaceOnUse" x1="0" x2="0" y1="258.11" y2="288.22"><stop offset=".000" stop-color="#190000"/><stop offset=".111" stop-color="#290000"/><stop offset=".173" stop-color="#3b0000"/><stop offset=".235" stop-color="#610000"/><stop offset=".274" stop-color="#8a0000"/><stop offset=".313" stop-color="#c00000"/><stop offset=".344" stop-color="#f20000"/><stop offset=".359" stop-color="#ff0c00"/><stop offset=".376" stop-color="#ff2b00"/><stop offset=".407" stop-color="#ff6400"/><stop offset=".429" stop-color="#ff8a00"/><stop offset=".438" stop-color="#ff9700"/><stop offset=".465" stop-color="#ffb700"/><stop offset=".469" stop-color="#ffbb00"/><stop offset=".500" stop-color="#ffc700"/><stop offset=".531" stop-color="#ffbb00"/><stop offset=".535" stop-color="#ffb700"/><stop offset=".562" stop-color="#ff9700"/><stop offset=".571" stop-color="#ff8a00"/><stop offset=".593" stop-color="#ff6400"/><stop offset=".624" stop-color="#ff2b00"/><stop offset=".641" stop-color="#ff0c00"/><stop offset=".656" stop-color="#f20000"/><stop offset=".687" stop-color="#c00000"/><stop offset=".726" stop-color="#8a0000"/><stop offset=".765" stop-color="#610000"/><stop offset=".827" stop-color="#3b0000"/><stop offset=".889" stop-color="#290000"/><stop offset="1" stop-color="#190000"/></linearGradient>
<linearGradient id="r312" gradientUnits="userSpaceOnUse" x1="0" x2="0" y1="257.09" y2="289.54"><stop offset=".000" stop-color="#190000"/><stop offset=".109" stop-color="#280000"/><stop offset=".172" stop-color="#3a0000"/><stop offset=".234" stop-color="#5f0000"/><stop offset=".273" stop-color="#860000"/><stop offset=".312" stop-color="#ba0000"/><stop offset=".344" stop-color="#e90000"/><stop offset=".360" stop-color="#ff0500"/><stop offset=".375" stop-color="#ff1e00"/><stop offset=".406" stop-color="#ff5100"/><stop offset=".430" stop-color="#ff7500"/><stop offset=".437" stop-color="#ff7e00"/><stop offset=".465" stop-color="#ff9b00"/><stop offset=".469" stop-color="#ff9d00"/><stop offset=".500" stop-color="#ffa800"/><stop offset=".531" stop-color="#ff9d00"/><stop offset=".535" stop-color="#ff9b00"/><stop offset=".563" stop-color="#ff7e00"/><stop offset=".570" stop-color="#ff7500"/><stop offset=".594" stop-color="#ff5100"/><stop offset=".625" stop-color="#ff1e00"/><stop offset=".640" stop-color="#ff0500"/><stop offset=".656" stop-color="#e90000"/><stop offset=".688" stop-color="#ba0000"/><stop offset=".727" stop-color="#860000"/><stop offset=".766" stop-color="#5f0000"/><stop offset=".828" stop-color="#3a0000"/><stop offset=".891" stop-color="#280000"/><stop offset="1" stop-color="#190000"/></linearGradient>
<linearGradient id="r313" gradientUnits="userSpaceOnUse" x1="0" x2="0" y1="256.09" y2="290.84"><stop offset=".000" stop-color="#190000"/><stop offset=".107" stop-color="#270000"/><stop offset=".170" stop-color="#380000"/><stop offset=".233" stop-color="#5c0000"/><stop offset=".272" stop-color="#820000"/><stop offset=".312" stop-color="#b40000"/><stop offset=".343" stop-color="#e20000"/><stop offset=".361" stop-color="#fd0000"/><stop offset=".374" stop-color="#ff1200"/><stop offset=".406" stop-color="#ff4100"/><stop offset=".431" stop-color="#ff6200"/><stop offset=".437" stop-color="#ff6900"/><stop offset=".465" stop-color="#ff8300"/><stop offset=".469" stop-color="#ff8500"/><stop offset=".500" stop-color="#ff8e00"/><stop offset=".531" stop-color="#ff8500"/><stop offset=".535" stop-color="#ff8300"/><stop offset=".563" stop-color="#ff6900"/><stop offset=".569" stop-color="#ff6200"/><stop offset=".594" stop-color="#ff4100"/><stop offset=".626" stop-color="#ff1200"/><stop offset=".639" stop-color="#fd0000"/><stop offset=".657" stop-color="#e20000"/><stop offset=".688" stop-color="#b40000"/><stop offset=".728" stop-color="#820000"/><stop offset=".767" stop-color="#5c0000"/><stop offset=".830" stop-color="#380000"/><stop offset=".893" stop-color="#270000"/><stop offset="1" stop-color="#190000"/></linearGradient>
<linearGradient id="r314" gradientUnits="userSpaceOnUse" x1="0" x2="0" y1="255.1" y2="292.12"><stop offset=".000" stop-color="#190000"/><stop offset=".106" stop-color="#270000"/><stop offset=".169" stop-color="#370000"/><stop offset=".232" stop-color="#5a0000"/><stop offset=".271" stop-color="#7f0000"/><stop offset=".311" stop-color="#af0000"/><stop offset=".342" stop-color="#db0000"/><stop offset=".362" stop-color="#f60000"/><stop offset=".374" stop-color="#ff0800"/><stop offset=".405" stop-color="#ff3300"/><stop offset=".431" stop-color="#ff5100"/><stop offset=".437" stop-color="#ff5700"/><stop offset=".465" stop-color="#ff6e00"/><stop offset=".468" stop-color="#ff6f00"/><stop offset=".500" stop-color="#ff7700"/><stop offset=".532" stop-color="#ff6f00"/><stop offset=".535" stop-color="#ff6e00"/><stop offset=".563" stop-color="#ff5700"/><stop offset=".569" stop-color="#ff5100"/><stop offset=".595" stop-color="#ff3300"/><stop offset=".626" stop-color="#ff0800"/><stop offset=".638" stop-color="#f60000"/><stop offset=".658" stop-color="#db0000"/><stop offset=".689" stop-color="#af0000"/><stop offset=".729" stop-color="#7f0000"/><stop offset=".768" stop-color="#5a0000"/><stop offset=".831" stop-color="#370000"/><stop offset=".894" stop-color="#270000"/><stop offset="1" stop-color="#190000"/></linearGradient>
<linearGradient id="r315" gradientUnits="userSpaceOnUse" x1="0" x2="0" y1="254.13" y2="293.39"><stop offset=".000" stop-color="#180000"/><stop offset=".105" stop-color="#260000"/><stop offset=".168" stop-color="#360000"/><stop offset=".231" stop-color="#580000"/><stop offset=".271" stop-color="#7c0000"/><stop offset=".310" stop-color="#aa0000"/><stop offset=".342" stop-color="#d40000"/><stop offset=".362" stop-color="#f00000"/><stop offset=".373" stop-color="#fe0000"/><stop offset=".405" stop-color="#ff2700"/><stop offset=".431" stop-color="#ff4300"/><stop offset=".437" stop-color="#ff4800"/><stop offset=".466" stop-color="#ff5c00"/><stop offset=".468" stop-color="#ff5d00"/><stop offset=".500" stop-color="#ff6400"/><stop offset=".532" stop-color="#ff5d00"/><stop offset=".534" stop-color="#ff5c00"/><stop offset=".563" stop-color="#ff4800"/><stop offset=".569" stop-color="#ff4300"/><stop offset=".595" stop-color="#ff2700"/><stop offset=".627" stop-color="#fe0000"/><stop offset=".638" stop-color="#f00000"/><stop offset=".658" stop-color="#d40000"/><stop offset=".690" stop-color="#aa0000"/><stop offset=".729" stop-color="#7c0000"/><stop offset=".769" stop-color="#580000"/><stop offset=".832" stop-color="#360000"/><stop offset=".895" stop-color="#260000"/><stop offset="1" stop-color="#180000"/></linearGradient>
<linearGradient id="r316" gradientUnits="userSpaceOnUse" x1="0" x2="0" y1="253.16" y2="294.65"><stop offset=".000" stop-color="#180000"/><stop offset=".103" stop-color="#250000"/><stop offset=".167" stop-color="#350000"/><stop offset=".230" stop-color="#560000"/><stop offset=".270" stop-color="#790000"/><stop offset=".310" stop-color="#a60000"/><stop offset=".341" stop-color="#ce0000"/><stop offset=".363" stop-color="#ea0000"/><stop offset=".373" stop-color="#f60000"/><stop offset=".405" stop-color="#ff1c00"/><stop offset=".431" stop-color="#ff3600"/><stop offset=".437" stop-color="#ff3a00"/><stop offset=".466" stop-color="#ff4c00"/><stop offset=".468" stop-color="#ff4d00"/><stop offset=".500" stop-color="#ff5300"/><stop offset=".532" stop-color="#ff4d00"/><stop offset=".534" stop-color="#ff4c00"/><stop offset=".563" stop-color="#ff3a00"/><stop offset=".569" stop-color="#ff3600"/><stop offset=".595" stop-color="#ff1c00"/><stop offset=".627" stop-color="#f60000"/><stop offset=".637" stop-color="#ea0000"/><stop offset=".659" stop-color="#ce0000"/><stop offset=".690" stop-color="#a60000"/><stop offset=".730" stop-color="#790000"/><stop offset=".770" stop-color="#560000"/><stop offset=".833" stop-color="#350000"/><stop offset=".897" stop-color="#250000"/><stop offset="1" stop-color="#180000"/></linearGradient>
<linearGradient id="r317" gradientUnits="userSpaceOnUse" x1="0" x2="0" y1="252.21" y2="295.9"><stop offset=".000" stop-color="#180000"/><stop offset=".102" stop-color="#250000"/><stop offset=".166" stop-color="#340000"/><stop offset=".230" stop-color="#540000"/><stop offset=".269" stop-color="#760000"/><stop offset=".309" stop-color="#a20000"/><stop offset=".341" stop-color="#c90000"/><stop offset=".363" stop-color="#e40000"/><stop offset=".373" stop-color="#ef0000"/><stop offset=".405" stop-color="#ff1300"/><stop offset=".432" stop-color="#ff2b00"/><stop offset=".436" stop-color="#ff2e00"/><stop offset=".466" stop-color="#ff3e00"/><stop offset=".468" stop-color="#ff3f00"/><stop offset=".500" stop-color="#ff4400"/><stop offset=".532" stop-color="#ff3f00"/><stop offset=".534" stop-color="#ff3e00"/><stop offset=".564" stop-color="#ff2e00"/><stop offset=".568" stop-color="#ff2b00"/><stop offset=".595" stop-color="#ff1300"/><stop offset=".627" stop-color="#ef0000"/><stop offset=".637" stop-color="#e40000"/><stop offset=".659" stop-color="#c90000"/><stop offset=".691" stop-color="#a20000"/><stop offset=".731" stop-color="#760000"/><stop offset=".770" stop-color="#540000"/><stop offset=".834" stop-color="#340000"/><stop offset=".898" stop-color="#250000"/><stop offset="1" stop-color="#180000"/></linearGradient>
<linearGradient id="r318" gradientUnits="userSpaceOnUse" x1="0" x2="0" y1="251.27" y2="297.14"><stop offset=".000" stop-color="#180000"/><stop offset=".102" stop-color="#240000"/><stop offset=".165" stop-color="#330000"/><stop offset=".229" stop-color="#520000"/><stop offset=".269" stop-color="#730000"/><stop offset=".309" stop-color="#9e0000"/><stop offset=".341" stop-color="#c40000"/><stop offset=".363" stop-color="#de0000"/><stop offset=".372" stop-color="#e90000"/><stop offset=".404" stop-color="#ff0a00"/><stop offset=".432" stop-color="#ff2000"/><stop offset=".436" stop-color="#ff2400"/><stop offset=".466" stop-color="#ff3200"/><stop offset=".468" stop-color="#ff3300"/><stop offset=".500" stop-color="#ff3700"/><stop offset=".532" stop-color="#ff3300"/><stop offset=".534" stop-color="#ff3200"/><stop offset=".564" stop-color="#ff2400"/><stop offset=".568" stop-color="#ff2000"/><stop offset=".596" stop-color="#ff0a00"/><stop offset=".628" stop-color="#e90000"/><stop offset=".637" stop-color="#de0000"/><stop offset=".659" stop-color="#c40000"/><stop offset=".691" stop-color="#9e0000"/><stop offset=".731" stop-color="#730000"/><stop offset=".771" stop-color="#520000"/><stop offset=".835" stop-color="#330000"/><stop offset=".898" stop-color="#240000"/><stop offset="1" stop-color="#180000"/></linearGradient>
<linearGradient id="r319" gradientUnits="userSpaceOnUse" x1="0" x2="0" y1="250.34" y2="298.37"><stop offset=".000" stop-color="#180000"/><stop offset=".101" stop-color="#230000"/><stop offset=".165" stop-color="#320000"/><stop offset=".228" stop-color="#500000"/><stop offset=".268" stop-color="#710000"/><stop offset=".308" stop-color="#9b0000"/><stop offset=".340" stop-color="#bf0000"/><stop offset=".364" stop-color="#d90000"/><stop offset=".372" stop-color="#e30000"/><stop offset=".404" stop-color="#ff0200"/><stop offset=".432" stop-color="#ff1700"/><stop offset=".436" stop-color="#ff1a00"/><stop offset=".466" stop-color="#ff2700"/><stop offset=".468" stop-color="#ff2800"/><stop offset=".500" stop-color="#ff2c00"/><stop offset=".532" stop-color="#ff2800"/><stop offset=".534" stop-color="#ff2700"/><stop offset=".564" stop-color="#ff1a00"/><stop offset=".568" stop-color="#ff1700"/><stop offset=".596" stop-color="#ff0200"/><stop offset=".628" stop-color="#e30000"/><stop offset=".636" stop-color="#d90000"/><stop offset=".660" stop-color="#bf0000"/><stop offset=".692" stop-color="#9b0000"/><stop offset=".732" stop-color="#710000"/><stop offset=".772" stop-color="#500000"/><stop offset=".835" stop-color="#320000"/><stop offset=".899" stop-color="#230000"/><stop offset="1" stop-color="#180000"/></linearGradient>
<linearGradient id="r320" gradientUnits="userSpaceOnUse" x1="0" x2="0" y1="249.42" y2="299.59"><stop offset=".000" stop-color="#170000"/><stop offset=".100" stop-color="#230000"/><stop offset=".164" stop-color="#310000"/><stop offset=".228" stop-color="#4f0000"/><stop offset=".268" stop-color="#6e0000"/><stop offset=".308" stop-color="#970000"/><stop offset=".340" stop-color="#bb0000"/><stop offset=".364" stop-color="#d40000"/><stop offset=".372" stop-color="#dd0000"/><stop offset=".404" stop-color="#fa0000"/><stop offset=".432" stop-color="#ff0f00"/><stop offset=".436" stop-color="#ff1100"/><stop offset=".466" stop-color="#ff1e00"/><stop offset=".468" stop-color="#ff1e00"/><stop offset=".500" stop-color="#ff2200"/><stop offset=".532" stop-color="#ff1e00"/><stop offset=".534" stop-color="#ff1e00"/><stop offset=".564" stop-color="#ff1100"/><stop offset=".568" stop-color="#ff0f00"/><stop offset=".596" stop-color="#fa0000"/><stop offset=".628" stop-color="#dd0000"/><stop offset=".636" stop-color="#d40000"/><stop offset=".660" stop-color="#bb0000"/><stop offset=".692" stop-color="#970000"/><stop offset=".732" stop-color="#6e0000"/><stop offset=".772" stop-color="#4f0000"/><stop offset=".836" stop-color="#310000"/><stop offset=".900" stop-color="#230000"/><stop offset="1" stop-color="#170000"/></linearGradient>
<linearGradient id="r321" gradientUnits="userSpaceOnUse" x1="0" x2="0" y1="248.51" y2="300.8"><stop offset=".000" stop-color="#170000"/><stop offset=".099" stop-color="#220000"/><stop offset=".163" stop-color="#300000"/><stop offset=".228" stop-color="#4d0000"/><stop offset=".268" stop-color="#6c0000"/><stop offset=".308" stop-color="#940000"/><stop offset=".340" stop-color="#b60000"/><stop offset=".364" stop-color="#d00000"/><stop offset=".372" stop-color="#d80000"/><stop offset=".404" stop-color="#f40000"/><stop offset=".432" stop-color="#ff0700"/><stop offset=".436" stop-color="#ff0900"/><stop offset=".466" stop-color="#ff1500"/><stop offset=".468" stop-color="#ff1500"/><stop offset=".500" stop-color="#ff1800"/><stop offset=".532" stop-color="#ff1500"/><stop offset=".534" stop-color="#ff1500"/><stop offset=".564" stop-color="#ff0900"/><stop offset=".568" stop-color="#ff0700"/><stop offset=".596" stop-color="#f40000"/><stop offset=".628" stop-color="#d80000"/><stop offset=".636" stop-color="#d00000"/><stop offset=".660" stop-color="#b60000"/><stop offset=".692" stop-color="#940000"/><stop offset=".732" stop-color="#6c0000"/><stop offset=".772" stop-color="#4d0000"/><stop offset=".837" stop-color="#300000"/><stop offset=".901" stop-color="#220000"/><stop offset="1" stop-color="#170000"/></linearGradient>
<linearGradient id="r322" gradientUnits="userSpaceOnUse" x1="0" x2="0" y1="247.6" y2="302"><stop offset=".000" stop-color="#170000"/><stop offset=".099" stop-color="#220000"/><stop offset=".163" stop-color="#2f0000"/><stop offset=".227" stop-color="#4c0000"/><stop offset=".267" stop-color="#6a0000"/><stop offset=".307" stop-color="#910000"/><stop offset=".339" stop-color="#b20000"/><stop offset=".364" stop-color="#cb0000"/><stop offset=".372" stop-color="#d30000"/><stop offset=".404" stop-color="#ee0000"/><stop offset=".432" stop-color="#ff0000"/><stop offset=".436" stop-color="#ff0200"/><stop offset=".466" stop-color="#ff0d00"/><stop offset=".468" stop-color="#ff0d00"/><stop offset=".500" stop-color="#ff1000"/><stop offset=".532" stop-color="#ff0d00"/><stop offset=".534" stop-color="#ff0d00"/><stop offset=".564" stop-color="#ff0200"/><stop offset=".568" stop-color="#ff0000"/><stop offset=".596" stop-color="#ee0000"/><stop offset=".628" stop-color="#d30000"/><stop offset=".636" stop-color="#cb0000"/><stop offset=".661" stop-color="#b20000"/><stop offset=".693" stop-color="#910000"/><stop offset=".733" stop-color="#6a0000"/><stop offset=".773" stop-color="#4c0000"/><stop offset=".837" stop-color="#2f0000"/><stop offset=".901" stop-color="#220000"/><stop offset="1" stop-color="#170000"/></linearGradient>
<linearGradient id="r323" gradientUnits="userSpaceOnUse" x1="0" x2="0" y1="246.71" y2="303.19"><stop offset=".000" stop-color="#170000"/><stop offset=".098" stop-color="#210000"/><stop offset=".162" stop-color="#2e0000"/><stop offset=".227" stop-color="#4a0000"/><stop offset=".267" stop-color="#680000"/><stop offset=".307" stop-color="#8e0000"/><stop offset=".339" stop-color="#af0000"/><stop offset=".364" stop-color="#c70000"/><stop offset=".371" stop-color="#ce0000"/><stop offset=".404" stop-color="#e80000"/><stop offset=".432" stop-color="#f90000"/><stop offset=".436" stop-color="#fb0000"/><stop offset=".466" stop-color="#ff0500"/><stop offset=".468" stop-color="#ff0600"/><stop offset=".500" stop-color="#ff0800"/><stop offset=".532" stop-color="#ff0600"/><stop offset=".534" stop-color="#ff0500"/><stop offset=".564" stop-color="#fb0000"/><stop offset=".568" stop-color="#f90000"/><stop offset=".596" stop-color="#e80000"/><stop offset=".629" stop-color="#ce0000"/><stop offset=".636" stop-color="#c70000"/><stop offset=".661" stop-color="#af0000"/><stop offset=".693" stop-color="#8e0000"/><stop offset=".733" stop-color="#680000"/><stop offset=".773" stop-color="#4a0000"/><stop offset=".838" stop-color="#2e0000"/><stop offset=".902" stop-color="#210000"/><stop offset="1" stop-color="#170000"/></linearGradient>
<linearGradient id="r324" gradientUnits="userSpaceOnUse" x1="0" x2="0" y1="245.82" y2="304.38"><stop offset=".000" stop-color="#160000"/><stop offset=".098" stop-color="#210000"/><stop offset=".162" stop-color="#2d0000"/><stop offset=".226" stop-color="#490000"/><stop offset=".267" stop-color="#660000"/><stop offset=".307" stop-color="#8b0000"/><stop offset=".339" stop-color="#ab0000"/><stop offset=".364" stop-color="#c30000"/><stop offset=".371" stop-color="#ca0000"/><stop offset=".403" stop-color="#e30000"/><stop offset=".432" stop-color="#f30000"/><stop offset=".436" stop-color="#f50000"/><stop offset=".466" stop-color="#fe0000"/><stop offset=".468" stop-color="#fe0000"/><stop offset=".500" stop-color="#ff0100"/><stop offset=".532" stop-color="#fe0000"/><stop offset=".534" stop-color="#fe0000"/><stop offset=".564" stop-color="#f50000"/><stop offset=".568" stop-color="#f30000"/><stop offset=".597" stop-color="#e30000"/><stop offset=".629" stop-color="#ca0000"/><stop offset=".636" stop-color="#c30000"/><stop offset=".661" stop-color="#ab0000"/><stop offset=".693" stop-color="#8b0000"/><stop offset=".733" stop-color="#660000"/><stop offset=".774" stop-color="#490000"/><stop offset=".838" stop-color="#2d0000"/><stop offset=".902" stop-color="#210000"/><stop offset="1" stop-color="#160000"/></linearGradient>
<linearGradient id="r325" gradientUnits="userSpaceOnUse" x1="0" x2="0" y1="244.93" y2="305.56"><stop offset=".000" stop-color="#160000"/><stop offset=".097" stop-color="#200000"/><stop offset=".162" stop-color="#2d0000"/><stop offset=".226" stop-color="#480000"/><stop offset=".266" stop-color="#640000"/><stop offset=".307" stop-color="#880000"/><stop offset=".339" stop-color="#a80000"/><stop offset=".363" stop-color="#bf0000"/><stop offset=".371" stop-color="#c50000"/><stop offset=".403" stop-color="#de0000"/><stop offset=".432" stop-color="#ed0000"/><stop offset=".436" stop-color="#ef0000"/><stop offset=".466" stop-color="#f80000"/><stop offset=".468" stop-color="#f80000"/><stop offset=".500" stop-color="#fa0000"/><stop offset=".532" stop-color="#f80000"/><stop offset=".534" stop-color="#f80000"/><stop offset=".564" stop-color="#ef0000"/><stop offset=".568" stop-color="#ed0000"/><stop offset=".597" stop-color="#de0000"/><stop offset=".629" stop-color="#c50000"/><stop offset=".637" stop-color="#bf0000"/><stop offset=".661" stop-color="#a80000"/><stop offset=".693" stop-color="#880000"/><stop offset=".734" stop-color="#640000"/><stop offset=".774" stop-color="#480000"/><stop offset=".838" stop-color="#2d0000"/><stop offset=".903" stop-color="#200000"/><stop offset="1" stop-color="#160000"/></linearGradient>
<linearGradient id="r326" gradientUnits="userSpaceOnUse" x1="0" x2="0" y1="244.06" y2="306.74"><stop offset=".000" stop-color="#160000"/><stop offset=".097" stop-color="#200000"/><stop offset=".161" stop-color="#2c0000"/><stop offset=".226" stop-color="#460000"/><stop offset=".266" stop-color="#620000"/><stop offset=".306" stop-color="#860000"/><stop offset=".339" stop-color="#a40000"/><stop offset=".363" stop-color="#bb0000"/><stop offset=".371" stop-color="#c10000"/><stop offset=".403" stop-color="#d90000"/><stop offset=".432" stop-color="#e80000"/><stop offset=".435" stop-color="#ea0000"/><stop offset=".466" stop-color="#f20000"/><stop offset=".468" stop-color="#f20000"/><stop offset=".500" stop-color="#f40000"/><stop offset=".532" stop-color="#f20000"/><stop offset=".534" stop-color="#f20000"/><stop offset=".565" stop-color="#ea0000"/><stop offset=".568" stop-color="#e80000"/><stop offset=".597" stop-color="#d90000"/><stop offset=".629" stop-color="#c10000"/><stop offset=".637" stop-color="#bb0000"/><stop offset=".661" stop-color="#a40000"/><stop offset=".694" stop-color="#860000"/><stop offset=".734" stop-color="#620000"/><stop offset=".774" stop-color="#460000"/><stop offset=".839" stop-color="#2c0000"/><stop offset=".903" stop-color="#200000"/><stop offset="1" stop-color="#160000"/></linearGradient>
<linearGradient id="r327" gradientUnits="userSpaceOnUse" x1="0" x2="0" y1="243.19" y2="307.91"><stop offset=".000" stop-color="#160000"/><stop offset=".096" stop-color="#1f0000"/><stop offset=".161" stop-color="#2b0000"/><stop offset=".225" stop-color="#450000"/><stop offset=".266" stop-color="#600000"/><stop offset=".306" stop-color="#830000"/><stop offset=".338" stop-color="#a10000"/><stop offset=".363" stop-color="#b70000"/><stop offset=".371" stop-color="#be0000"/><stop offset=".403" stop-color="#d50000"/><stop offset=".432" stop-color="#e30000"/><stop offset=".435" stop-color="#e50000"/><stop offset=".466" stop-color="#ed0000"/><stop offset=".468" stop-color="#ed0000"/><stop offset=".500" stop-color="#ef0000"/><stop offset=".532" stop-color="#ed0000"/><stop offset=".534" stop-color="#ed0000"/><stop offset=".565" stop-color="#e50000"/><stop offset=".568" stop-color="#e30000"/><stop offset=".597" stop-color="#d50000"/><stop offset=".629" stop-color="#be0000"/><stop offset=".637" stop-color="#b70000"/><stop offset=".662" stop-color="#a10000"/><stop offset=".694" stop-color="#830000"/><stop offset=".734" stop-color="#600000"/><stop offset=".775" stop-color="#450000"/><stop offset=".839" stop-color="#2b0000"/><stop offset=".904" stop-color="#1f0000"/><stop offset="1" stop-color="#160000"/></linearGradient>
<linearGradient id="r328" gradientUnits="userSpaceOnUse" x1="0" x2="0" y1="242.32" y2="309.07"><stop offset=".000" stop-color="#160000"/><stop offset=".096" stop-color="#1f0000"/><stop offset=".160" stop-color="#2b0000"/><stop offset=".225" stop-color="#440000"/><stop offset=".266" stop-color="#5f0000"/><stop offset=".306" stop-color="#810000"/><stop offset=".338" stop-color="#9e0000"/><stop offset=".363" stop-color="#b40000"/><stop offset=".371" stop-color="#ba0000"/><stop offset=".403" stop-color="#d10000"/><stop offset=".432" stop-color="#df0000"/><stop offset=".435" stop-color="#e00000"/><stop offset=".466" stop-color="#e80000"/><stop offset=".468" stop-color="#e80000"/><stop offset=".500" stop-color="#ea0000"/><stop offset=".532" stop-color="#e80000"/><stop offset=".534" stop-color="#e80000"/><stop offset=".565" stop-color="#e00000"/><stop offset=".568" stop-color="#df0000"/><stop offset=".597" stop-color="#d10000"/><stop offset=".629" stop-color="#ba0000"/><stop offset=".637" stop-color="#b40000"/><stop offset=".662" stop-color="#9e0000"/><stop offset=".694" stop-color="#810000"/><stop offset=".734" stop-color="#5f0000"/><stop offset=".775" stop-color="#440000"/><stop offset=".840" stop-color="#2b0000"/><stop offset=".904" stop-color="#1f0000"/><stop offset="1" stop-color="#160000"/></linearGradient>
<linearGradient id="r329" gradientUnits="userSpaceOnUse" x1="0" x2="0" y1="241.46" y2="310.22"><stop offset=".000" stop-color="#150000"/><stop offset=".095" stop-color="#1f0000"/><stop offset=".160" stop-color="#2a0000"/><stop offset=".225" stop-color="#430000"/><stop offset=".265" stop-color="#5d0000"/><stop offset=".306" stop-color="#7e0000"/><stop offset=".338" stop-color="#9b0000"/><stop offset=".363" stop-color="#b10000"/><stop offset=".371" stop-color="#b70000"/><stop offset=".403" stop-color="#cd0000"/><stop offset=".431" stop-color="#da0000"/><stop offset=".435" stop-color="#dc0000"/><stop offset=".466" stop-color="#e30000"/><stop offset=".468" stop-color="#e40000"/><stop offset=".500" stop-color="#e50000"/><stop offset=".532" stop-color="#e40000"/><stop offset=".534" stop-color="#e30000"/><stop offset=".565" stop-color="#dc0000"/><stop offset=".569" stop-color="#da0000"/><stop offset=".597" stop-color="#cd0000"/><stop offset=".629" stop-color="#b70000"/><stop offset=".637" stop-color="#b10000"/><stop offset=".662" stop-color="#9b0000"/><stop offset=".694" stop-color="#7e0000"/><stop offset=".735" stop-color="#5d0000"/><stop offset=".775" stop-color="#430000"/><stop offset=".840" stop-color="#2a0000"/><stop offset=".905" stop-color="#1f0000"/><stop offset="1" stop-color="#150000"/></linearGradient>
<linearGradient id="r330" gradientUnits="userSpaceOnUse" x1="0" x2="0" y1="240.61" y2="311.38"><stop offset=".000" stop-color="#150000"/><stop offset=".095" stop-color="#1e0000"/><stop offset=".160" stop-color="#2a0000"/><stop offset=".225" stop-color="#420000"/><stop offset=".265" stop-color="#5b0000"/><stop offset=".306" stop-color="#7c0000"/><stop offset=".338" stop-color="#990000"/><stop offset=".363" stop-color="#ad0000"/><stop offset=".370" stop-color="#b30000"/><stop offset=".403" stop-color="#c90000"/><stop offset=".431" stop-color="#d60000"/><stop offset=".435" stop-color="#d80000"/><stop offset=".466" stop-color="#df0000"/><stop offset=".468" stop-color="#df0000"/><stop offset=".500" stop-color="#e10000"/><stop offset=".532" stop-color="#df0000"/><stop offset=".534" stop-color="#df0000"/><stop offset=".565" stop-color="#d80000"/><stop offset=".569" stop-color="#d60000"/><stop offset=".597" stop-color="#c90000"/><stop offset=".630" stop-color="#b30000"/><stop offset=".637" stop-color="#ad0000"/><stop offset=".662" stop-color="#990000"/><stop offset=".694" stop-color="#7c0000"/><stop offset=".735" stop-color="#5b0000"/><stop offset=".775" stop-color="#420000"/><stop offset=".840" stop-color="#2a0000"/><stop offset=".905" stop-color="#1e0000"/><stop offset="1" stop-color="#150000"/></linearGradient>
<linearGradient id="r331" gradientUnits="userSpaceOnUse" x1="0" x2="0" y1="239.76" y2="312.52"><stop offset=".000" stop-color="#150000"/><stop offset=".095" stop-color="#1e0000"/><stop offset=".160" stop-color="#290000"/><stop offset=".224" stop-color="#410000"/><stop offset=".265" stop-color="#5a0000"/><stop offset=".305" stop-color="#7a0000"/><stop offset=".338" stop-color="#960000"/><stop offset=".362" stop-color="#aa0000"/><stop offset=".370" stop-color="#b00000"/><stop offset=".403" stop-color="#c50000"/><stop offset=".431" stop-color="#d20000"/><stop offset=".435" stop-color="#d40000"/><stop offset=".466" stop-color="#db0000"/><stop offset=".468" stop-color="#db0000"/><stop offset=".500" stop-color="#dd0000"/><stop offset=".532" stop-color="#db0000"/><stop offset=".534" stop-color="#db0000"/><stop offset=".565" stop-color="#d40000"/><stop offset=".569" stop-color="#d20000"/><stop offset=".597" stop-color="#c50000"/><stop offset=".630" stop-color="#b00000"/><stop offset=".638" stop-color="#aa0000"/><stop offset=".662" stop-color="#960000"/><stop offset=".695" stop-color="#7a0000"/><stop offset=".735" stop-color="#5a0000"/><stop offset=".776" stop-color="#410000"/><stop offset=".840" stop-color="#290000"/><stop offset=".905" stop-color="#1e0000"/><stop offset="1" stop-color="#150000"/></linearGradient>
<linearGradient id="r332" gradientUnits="userSpaceOnUse" x1="0" x2="0" y1="238.91" y2="313.66"><stop offset=".000" stop-color="#150000"/><stop offset=".094" stop-color="#1d0000"/><stop offset=".159" stop-color="#280000"/><stop offset=".224" stop-color="#400000"/><stop offset=".265" stop-color="#580000"/><stop offset=".305" stop-color="#780000"/><stop offset=".338" stop-color="#940000"/><stop offset=".362" stop-color="#a70000"/><stop offset=".370" stop-color="#ad0000"/><stop offset=".403" stop-color="#c20000"/><stop offset=".431" stop-color="#cf0000"/><stop offset=".435" stop-color="#d00000"/><stop offset=".466" stop-color="#d70000"/><stop offset=".468" stop-color="#d70000"/><stop offset=".500" stop-color="#d90000"/><stop offset=".532" stop-color="#d70000"/><stop offset=".534" stop-color="#d70000"/><stop offset=".565" stop-color="#d00000"/><stop offset=".569" stop-color="#cf0000"/><stop offset=".597" stop-color="#c20000"/><stop offset=".630" stop-color="#ad0000"/><stop offset=".638" stop-color="#a70000"/><stop offset=".662" stop-color="#940000"/><stop offset=".695" stop-color="#780000"/><stop offset=".735" stop-color="#580000"/><stop offset=".776" stop-color="#400000"/><stop offset=".841" stop-color="#280000"/><stop offset=".906" stop-color="#1d0000"/><stop offset="1" stop-color="#150000"/></linearGradient>
<linearGradient id="r333" gradientUnits="userSpaceOnUse" x1="0" x2="0" y1="238.08" y2="314.8"><stop offset=".000" stop-color="#150000"/><stop offset=".094" stop-color="#1d0000"/><stop offset=".159" stop-color="#280000"/><stop offset=".224" stop-color="#3f0000"/><stop offset=".265" stop-color="#570000"/><stop offset=".305" stop-color="#760000"/><stop offset=".338" stop-color="#910000"/><stop offset=".362" stop-color="#a40000"/><stop offset=".370" stop-color="#aa0000"/><stop offset=".403" stop-color="#bf0000"/><stop offset=".431" stop-color="#cb0000"/><stop offset=".435" stop-color="#cc0000"/><stop offset=".466" stop-color="#d30000"/><stop offset=".468" stop-color="#d30000"/><stop offset=".500" stop-color="#d50000"/><stop offset=".532" stop-color="#d30000"/><stop offset=".534" stop-color="#d30000"/><stop offset=".565" stop-color="#cc0000"/><stop offset=".569" stop-color="#cb0000"/><stop offset=".597" stop-color="#bf0000"/><stop offset=".630" stop-color="#aa0000"/><stop offset=".638" stop-color="#a40000"/><stop offset=".662" stop-color="#910000"/><stop offset=".695" stop-color="#760000"/><stop offset=".735" stop-color="#570000"/><stop offset=".776" stop-color="#3f0000"/><stop offset=".841" stop-color="#280000"/><stop offset=".906" stop-color="#1d0000"/><stop offset="1" stop-color="#150000"/></linearGradient>
<linearGradient id="r334" gradientUnits="userSpaceOnUse" x1="0" x2="0" y1="237.24" y2="315.93"><stop offset=".000" stop-color="#150000"/><stop offset=".094" stop-color="#1d0000"/><stop offset=".159" stop-color="#270000"/><stop offset=".224" stop-color="#3e0000"/><stop offset=".264" stop-color="#560000"/><stop offset=".305" stop-color="#740000"/><stop offset=".338" stop-color="#8f0000"/><stop offset=".362" stop-color="#a10000"/><stop offset=".370" stop-color="#a70000"/><stop offset=".403" stop-color="#bb0000"/><stop offset=".431" stop-color="#c70000"/><stop offset=".435" stop-color="#c90000"/><stop offset=".465" stop-color="#cf0000"/><stop offset=".468" stop-color="#cf0000"/><stop offset=".500" stop-color="#d10000"/><stop offset=".532" stop-color="#cf0000"/><stop offset=".535" stop-color="#cf0000"/><stop offset=".565" stop-color="#c90000"/><stop offset=".569" stop-color="#c70000"/><stop offset=".597" stop-color="#bb0000"/><stop offset=".630" stop-color="#a70000"/><stop offset=".638" stop-color="#a10000"/><stop offset=".662" stop-color="#8f0000"/><stop offset=".695" stop-color="#740000"/><stop offset=".736" stop-color="#560000"/><stop offset=".776" stop-color="#3e0000"/><stop offset=".841" stop-color="#270000"/><stop offset=".906" stop-color="#1d0000"/><stop offset="1" stop-color="#150000"/></linearGradient>
<linearGradient id="r335" gradientUnits="userSpaceOnUse" x1="0" x2="0" y1="236.41" y2="317.06"><stop offset=".000" stop-color="#150000"/><stop offset=".094" stop-color="#1c0000"/><stop offset=".159" stop-color="#270000"/><stop offset=".224" stop-color="#3d0000"/><stop offset=".264" stop-color="#540000"/><stop offset=".305" stop-color="#720000"/><stop offset=".337" stop-color="#8c0000"/><stop offset=".362" stop-color="#9f0000"/><stop offset=".370" stop-color="#a50000"/><stop offset=".402" stop-color="#b80000"/><stop offset=".431" stop-color="#c40000"/><stop offset=".435" stop-color="#c50000"/><stop offset=".465" stop-color="#cc0000"/><stop offset=".467" stop-color="#cc0000"/><stop offset=".500" stop-color="#ce0000"/><stop offset=".533" stop-color="#cc0000"/><stop offset=".535" stop-color="#cc0000"/><stop offset=".565" stop-color="#c50000"/><stop offset=".569" stop-color="#c40000"/><stop offset=".598" stop-color="#b80000"/><stop offset=".630" stop-color="#a50000"/><stop offset=".638" stop-color="#9f0000"/><stop offset=".663" stop-color="#8c0000"/><stop offset=".695" stop-color="#720000"/><stop offset=".736" stop-color="#540000"/><stop offset=".776" stop-color="#3d0000"/><stop offset=".841" stop-color="#270000"/><stop offset=".906" stop-color="#1c0000"/><stop offset="1" stop-color="#150000"/></linearGradient>
<linearGradient id="r336" gradientUnits="userSpaceOnUse" x1="0" x2="0" y1="235.58" y2="318.19"><stop offset=".000" stop-color="#140000"/><stop offset=".093" stop-color="#1c0000"/><stop offset=".158" stop-color="#260000"/><stop offset=".224" stop-color="#3c0000"/><stop offset=".264" stop-color="#530000"/><stop offset=".305" stop-color="#710000"/><stop offset=".337" stop-color="#8a0000"/><stop offset=".361" stop-color="#9c0000"/><stop offset=".370" stop-color="#a20000"/><stop offset=".402" stop-color="#b50000"/><stop offset=".431" stop-color="#c10000"/><stop offset=".435" stop-color="#c20000"/><stop offset=".465" stop-color="#c80000"/><stop offset=".467" stop-color="#c90000"/><stop offset=".500" stop-color="#ca0000"/><stop offset=".533" stop-color="#c90000"/><stop offset=".535" stop-color="#c80000"/><stop offset=".565" stop-color="#c20000"/><stop offset=".569" stop-color="#c10000"/><stop offset=".598" stop-color="#b50000"/><stop offset=".630" stop-color="#a20000"/><stop offset=".639" stop-color="#9c0000"/><stop offset=".663" stop-color="#8a0000"/><stop offset=".695" stop-color="#710000"/><stop offset=".736" stop-color="#530000"/><stop offset=".776" stop-color="#3c0000"/><stop offset=".842" stop-color="#260000"/><stop offset=".907" stop-color="#1c0000"/><stop offset="1" stop-color="#140000"/></linearGradient>
<linearGradient id="r337" gradientUnits="userSpaceOnUse" x1="0" x2="0" y1="234.76" y2="319.31"><stop offset=".000" stop-color="#140000"/><stop offset=".093" stop-color="#1c0000"/><stop offset=".158" stop-color="#260000"/><stop offset=".223" stop-color="#3b0000"/><stop offset=".264" stop-color="#520000"/><stop offset=".305" stop-color="#6f0000"/><stop offset=".337" stop-color="#880000"/><stop offset=".361" stop-color="#9a0000"/><stop offset=".370" stop-color="#a00000"/><stop offset=".402" stop-color="#b20000"/><stop offset=".431" stop-color="#be0000"/><stop offset=".435" stop-color="#bf0000"/><stop offset=".465" stop-color="#c50000"/><stop offset=".467" stop-color="#c50000"/><stop offset=".500" stop-color="#c70000"/><stop offset=".533" stop-color="#c50000"/><stop offset=".535" stop-color="#c50000"/><stop offset=".565" stop-color="#bf0000"/><stop offset=".569" stop-color="#be0000"/><stop offset=".598" stop-color="#b20000"/><stop offset=".630" stop-color="#a00000"/><stop offset=".639" stop-color="#9a0000"/><stop offset=".663" stop-color="#880000"/><stop offset=".695" stop-color="#6f0000"/><stop offset=".736" stop-color="#520000"/><stop offset=".777" stop-color="#3b0000"/><stop offset=".842" stop-color="#260000"/><stop offset=".907" stop-color="#1c0000"/><stop offset="1" stop-color="#140000"/></linearGradient>
<linearGradient id="r338" gradientUnits="userSpaceOnUse" x1="0" x2="0" y1="233.94" y2="320.42"><stop offset=".000" stop-color="#140000"/><stop offset=".093" stop-color="#1c0000"/><stop offset=".158" stop-color="#250000"/><stop offset=".223" stop-color="#3b0000"/><stop offset=".264" stop-color="#510000"/><stop offset=".305" stop-color="#6d0000"/><stop offset=".337" stop-color="#860000"/><stop offset=".361" stop-color="#970000"/><stop offset=".370" stop-color="#9d0000"/><stop offset=".402" stop-color="#b00000"/><stop offset=".430" stop-color="#bb0000"/><stop offset=".435" stop-color="#bc0000"/><stop offset=".465" stop-color="#c20000"/><stop offset=".467" stop-color="#c20000"/><stop offset=".500" stop-color="#c40000"/><stop offset=".533" stop-color="#c20000"/><stop offset=".535" stop-color="#c20000"/><stop offset=".565" stop-color="#bc0000"/><stop offset=".570" stop-color="#bb0000"/><stop offset=".598" stop-color="#b00000"/><stop offset=".630" stop-color="#9d0000"/><stop offset=".639" stop-color="#970000"/><stop offset=".663" stop-color="#860000"/><stop offset=".695" stop-color="#6d0000"/><stop offset=".736" stop-color="#510000"/><stop offset=".777" stop-color="#3b0000"/><stop offset=".842" stop-color="#250000"/><stop offset=".907" stop-color="#1c0000"/><stop offset="1" stop-color="#140000"/></linearGradient>
<linearGradient id="r339" gradientUnits="userSpaceOnUse" x1="0" x2="0" y1="233.13" y2="321.53"><stop offset=".000" stop-color="#140000"/><stop offset=".093" stop-color="#1b0000"/><stop offset=".158" stop-color="#250000"/><stop offset=".223" stop-color="#3a0000"/><stop offset=".264" stop-color="#500000"/><stop offset=".305" stop-color="#6c0000"/><stop offset=".337" stop-color="#840000"/><stop offset=".361" stop-color="#950000"/><stop offset=".370" stop-color="#9b0000"/><stop offset=".402" stop-color="#ad0000"/><stop offset=".430" stop-color="#b80000"/><stop offset=".435" stop-color="#b90000"/><stop offset=".465" stop-color="#bf0000"/><stop offset=".467" stop-color="#bf0000"/><stop offset=".500" stop-color="#c10000"/><stop offset=".533" stop-color="#bf0000"/><stop offset=".535" stop-color="#bf0000"/><stop offset=".565" stop-color="#b90000"/><stop offset=".570" stop-color="#b80000"/><stop offset=".598" stop-color="#ad0000"/><stop offset=".630" stop-color="#9b0000"/><stop offset=".639" stop-color="#950000"/><stop offset=".663" stop-color="#840000"/><stop offset=".695" stop-color="#6c0000"/><stop offset=".736" stop-color="#500000"/><stop offset=".777" stop-color="#3a0000"/><stop offset=".842" stop-color="#250000"/><stop offset=".907" stop-color="#1b0000"/><stop offset="1" stop-color="#140000"/></linearGradient>
<linearGradient id="r340" gradientUnits="userSpaceOnUse" x1="0" x2="0" y1="232.32" y2="322.64"><stop offset=".000" stop-color="#140000"/><stop offset=".093" stop-color="#1b0000"/><stop offset=".158" stop-color="#250000"/><stop offset=".223" stop-color="#390000"/><stop offset=".264" stop-color="#4f0000"/><stop offset=".304" stop-color="#6a0000"/><stop offset=".337" stop-color="#820000"/><stop offset=".361" stop-color="#930000"/><stop offset=".370" stop-color="#980000"/><stop offset=".402" stop-color="#aa0000"/><stop offset=".430" stop-color="#b50000"/><stop offset=".435" stop-color="#b70000"/><stop offset=".465" stop-color="#bc0000"/><stop offset=".467" stop-color="#bc0000"/><stop offset=".500" stop-color="#be0000"/><stop offset=".533" stop-color="#bc0000"/><stop offset=".535" stop-color="#bc0000"/><stop offset=".565" stop-color="#b70000"/><stop offset=".570" stop-color="#b50000"/><stop offset=".598" stop-color="#aa0000"/><stop offset=".630" stop-color="#980000"/><stop offset=".639" stop-color="#930000"/><stop offset=".663" stop-color="#820000"/><stop offset=".696" stop-color="#6a0000"/><stop offset=".736" stop-color="#4f0000"/><stop offset=".777" stop-color="#390000"/><stop offset=".842" stop-color="#250000"/><stop offset=".907" stop-color="#1b0000"/><stop offset="1" stop-color="#140000"/></linearGradient>
<linearGradient id="r341" gradientUnits="userSpaceOnUse" x1="0" x2="0" y1="231.51" y2="323.75"><stop offset=".000" stop-color="#140000"/><stop offset=".092" stop-color="#1b0000"/><stop offset=".158" stop-color="#240000"/><stop offset=".223" stop-color="#380000"/><stop offset=".264" stop-color="#4e0000"/><stop offset=".304" stop-color="#690000"/><stop offset=".337" stop-color="#800000"/><stop offset=".360" stop-color="#900000"/><stop offset=".370" stop-color="#960000"/><stop offset=".402" stop-color="#a80000"/><stop offset=".430" stop-color="#b30000"/><stop offset=".435" stop-color="#b40000"/><stop offset=".465" stop-color="#b90000"/><stop offset=".467" stop-color="#ba0000"/><stop offset=".500" stop-color="#bb0000"/><stop offset=".533" stop-color="#ba0000"/><stop offset=".535" stop-color="#b90000"/><stop offset=".565" stop-color="#b40000"/><stop offset=".570" stop-color="#b30000"/><stop offset=".598" stop-color="#a80000"/><stop offset=".630" stop-color="#960000"/><stop offset=".640" stop-color="#900000"/><stop offset=".663" stop-color="#800000"/><stop offset=".696" stop-color="#690000"/><stop offset=".736" stop-color="#4e0000"/><stop offset=".777" stop-color="#380000"/><stop offset=".842" stop-color="#240000"/><stop offset=".908" stop-color="#1b0000"/><stop offset="1" stop-color="#140000"/></linearGradient>
<linearGradient id="r342" gradientUnits="userSpaceOnUse" x1="0" x2="0" y1="230.71" y2="324.85"><stop offset=".000" stop-color="#140000"/><stop offset=".092" stop-color="#1b0000"/><stop offset=".157" stop-color="#240000"/><stop offset=".223" stop-color="#380000"/><stop offset=".263" stop-color="#4d0000"/><stop offset=".304" stop-color="#670000"/><stop offset=".337" stop-color="#7f0000"/><stop offset=".360" stop-color="#8e0000"/><stop offset=".369" stop-color="#940000"/><stop offset=".402" stop-color="#a60000"/><stop offset=".430" stop-color="#b00000"/><stop offset=".435" stop-color="#b10000"/><stop offset=".465" stop-color="#b70000"/><stop offset=".467" stop-color="#b70000"/><stop offset=".500" stop-color="#b80000"/><stop offset=".533" stop-color="#b70000"/><stop offset=".535" stop-color="#b70000"/><stop offset=".565" stop-color="#b10000"/><stop offset=".570" stop-color="#b00000"/><stop offset=".598" stop-color="#a60000"/><stop offset=".631" stop-color="#940000"/><stop offset=".640" stop-color="#8e0000"/><stop offset=".663" stop-color="#7f0000"/><stop offset=".696" stop-color="#670000"/><stop offset=".737" stop-color="#4d0000"/><stop offset=".777" stop-color="#380000"/><stop offset=".843" stop-color="#240000"/><stop offset=".908" stop-color="#1b0000"/><stop offset="1" stop-color="#140000"/></linearGradient>
<linearGradient id="cby" x1="0" x2="0" y1="0" y2="1"><stop offset="0" stop-color="#f8f208"/><stop offset=".5" stop-color="#807c80"/><stop offset="1" stop-color="#0808f8"/></linearGradient>
<linearGradient id="cbg" x1="0" x2="0" y1="0" y2="1"><stop offset="0" stop-color="#ffffff"/><stop offset=".2" stop-color="#22e022"/><stop offset=".55" stop-color="#0c7a0c"/><stop offset="1" stop-color="#000"/></linearGradient>
<linearGradient id="cbh" x1="0" x2="0" y1="0" y2="1"><stop offset="0" stop-color="#ffffff"/><stop offset=".1" stop-color="#ffff99"/><stop offset=".2" stop-color="#ffff33"/><stop offset=".3" stop-color="#ffdd00"/><stop offset=".4" stop-color="#ff9900"/><stop offset=".5" stop-color="#ff5500"/><stop offset=".6" stop-color="#ff1100"/><stop offset=".7" stop-color="#ce0000"/><stop offset=".8" stop-color="#8d0000"/><stop offset=".9" stop-color="#4c0000"/><stop offset="1" stop-color="#0b0000"/></linearGradient></defs>
<g shape-rendering="crispEdges">
<rect x="18" y="5" width="1.61" height="96" fill="url(#b1)"/>
<rect x="19.01" y="5" width="1.61" height="96" fill="url(#b2)"/>
<rect x="20.02" y="5" width="1.61" height="96" fill="url(#b3)"/>
<rect x="21.03" y="5" width="1.61" height="96" fill="url(#b4)"/>
<rect x="22.04" y="5" width="1.61" height="96" fill="url(#b5)"/>
<rect x="23.05" y="5" width="1.61" height="96" fill="url(#b6)"/>
<rect x="24.07" y="5" width="1.61" height="96" fill="url(#b7)"/>
<rect x="25.08" y="5" width="1.61" height="96" fill="url(#b8)"/>
<rect x="26.09" y="5" width="1.61" height="96" fill="url(#b9)"/>
<rect x="27.1" y="5" width="1.61" height="96" fill="url(#b10)"/>
<rect x="28.11" y="5" width="1.61" height="96" fill="url(#b11)"/>
<rect x="29.12" y="5" width="1.61" height="96" fill="url(#b12)"/>
<rect x="30.13" y="5" width="1.61" height="96" fill="url(#b13)"/>
<rect x="31.14" y="5" width="1.61" height="96" fill="url(#b14)"/>
<rect x="32.15" y="5" width="1.61" height="96" fill="url(#b15)"/>
<rect x="33.16" y="5" width="1.61" height="96" fill="url(#b16)"/>
<rect x="34.17" y="5" width="1.61" height="96" fill="url(#b17)"/>
<rect x="35.18" y="5" width="1.61" height="96" fill="url(#b18)"/>
<rect x="36.2" y="5" width="1.61" height="96" fill="url(#b19)"/>
<rect x="37.21" y="5" width="1.61" height="96" fill="url(#b20)"/>
<rect x="38.22" y="5" width="1.61" height="96" fill="url(#b21)"/>
<rect x="39.23" y="5" width="1.61" height="96" fill="url(#b22)"/>
<rect x="40.24" y="5" width="1.61" height="96" fill="url(#b23)"/>
<rect x="41.25" y="5" width="1.61" height="96" fill="url(#b24)"/>
<rect x="42.26" y="5" width="1.61" height="96" fill="url(#b25)"/>
<rect x="43.27" y="5" width="1.61" height="96" fill="url(#b26)"/>
<rect x="44.28" y="5" width="1.61" height="96" fill="url(#b27)"/>
<rect x="45.29" y="5" width="1.61" height="96" fill="url(#b28)"/>
<rect x="46.3" y="5" width="1.61" height="96" fill="url(#b29)"/>
<rect x="47.32" y="5" width="1.61" height="96" fill="url(#b30)"/>
<rect x="48.33" y="5" width="1.61" height="96" fill="url(#b31)"/>
<rect x="49.34" y="5" width="1.61" height="96" fill="url(#b32)"/>
<rect x="50.35" y="5" width="1.61" height="96" fill="url(#b33)"/>
<rect x="51.36" y="5" width="1.61" height="96" fill="url(#b34)"/>
<rect x="52.37" y="5" width="1.61" height="96" fill="url(#b35)"/>
<rect x="53.38" y="5" width="1.61" height="96" fill="url(#b36)"/>
<rect x="54.39" y="5" width="1.61" height="96" fill="url(#b37)"/>
<rect x="55.4" y="5" width="1.61" height="96" fill="url(#b38)"/>
<rect x="56.41" y="5" width="1.61" height="96" fill="url(#b39)"/>
<rect x="57.42" y="5" width="1.61" height="96" fill="url(#b40)"/>
<rect x="58.43" y="5" width="1.61" height="96" fill="url(#b41)"/>
<rect x="59.45" y="5" width="1.61" height="96" fill="url(#b42)"/>
<rect x="60.46" y="5" width="1.61" height="96" fill="url(#b43)"/>
<rect x="61.47" y="5" width="1.61" height="96" fill="url(#b44)"/>
<rect x="62.48" y="5" width="1.61" height="96" fill="url(#b45)"/>
<rect x="63.49" y="5" width="1.01" height="96" fill="url(#b46)"/>
</g>
<g shape-rendering="crispEdges">
<rect x="18" y="115.5" width="1.6" height="95.6" fill="url(#b47)"/>
<rect x="19" y="115.5" width="1.6" height="95.6" fill="url(#b48)"/>
<rect x="20" y="115.5" width="1.6" height="95.6" fill="url(#b49)"/>
<rect x="21" y="115.5" width="1.6" height="95.6" fill="url(#b50)"/>
<rect x="22" y="115.5" width="1.6" height="95.6" fill="url(#b51)"/>
<rect x="23" y="115.5" width="1.6" height="95.6" fill="url(#b52)"/>
<rect x="24" y="115.5" width="1.6" height="95.6" fill="url(#b53)"/>
<rect x="25" y="115.5" width="1.6" height="95.6" fill="url(#b54)"/>
<rect x="26" y="115.5" width="1.6" height="95.6" fill="url(#b55)"/>
<rect x="27" y="115.5" width="1.6" height="95.6" fill="url(#b56)"/>
<rect x="28" y="115.5" width="1.6" height="95.6" fill="url(#b57)"/>
<rect x="29" y="115.5" width="1.6" height="95.6" fill="url(#b58)"/>
<rect x="30" y="115.5" width="1.6" height="95.6" fill="url(#b59)"/>
<rect x="31" y="115.5" width="1.6" height="95.6" fill="url(#b60)"/>
<rect x="32" y="115.5" width="1.6" height="95.6" fill="url(#b61)"/>
<rect x="33" y="115.5" width="1.6" height="95.6" fill="url(#b62)"/>
<rect x="34" y="115.5" width="1.6" height="95.6" fill="url(#b63)"/>
<rect x="35" y="115.5" width="1.6" height="95.6" fill="url(#b64)"/>
<rect x="36" y="115.5" width="1.6" height="95.6" fill="url(#b65)"/>
<rect x="37" y="115.5" width="1.6" height="95.6" fill="url(#b66)"/>
<rect x="38" y="115.5" width="1.6" height="95.6" fill="url(#b67)"/>
<rect x="39" y="115.5" width="1.6" height="95.6" fill="url(#b68)"/>
<rect x="40" y="115.5" width="1.6" height="95.6" fill="url(#b69)"/>
<rect x="41" y="115.5" width="1.6" height="95.6" fill="url(#b70)"/>
<rect x="42" y="115.5" width="1.6" height="95.6" fill="url(#b71)"/>
<rect x="43" y="115.5" width="1.6" height="95.6" fill="url(#b72)"/>
<rect x="44" y="115.5" width="1.6" height="95.6" fill="url(#b73)"/>
<rect x="45" y="115.5" width="1.6" height="95.6" fill="url(#b74)"/>
<rect x="46" y="115.5" width="1.6" height="95.6" fill="url(#b75)"/>
<rect x="47" y="115.5" width="1.6" height="95.6" fill="url(#b76)"/>
<rect x="48" y="115.5" width="1.6" height="95.6" fill="url(#b77)"/>
<rect x="49" y="115.5" width="1.6" height="95.6" fill="url(#b78)"/>
<rect x="50" y="115.5" width="1.6" height="95.6" fill="url(#b79)"/>
<rect x="51" y="115.5" width="1.6" height="95.6" fill="url(#b80)"/>
<rect x="52" y="115.5" width="1.6" height="95.6" fill="url(#b81)"/>
<rect x="53" y="115.5" width="1.6" height="95.6" fill="url(#b82)"/>
<rect x="54" y="115.5" width="1.6" height="95.6" fill="url(#b83)"/>
<rect x="55" y="115.5" width="1.6" height="95.6" fill="url(#b84)"/>
<rect x="56" y="115.5" width="1.6" height="95.6" fill="url(#b85)"/>
<rect x="57" y="115.5" width="1.6" height="95.6" fill="url(#b86)"/>
<rect x="58" y="115.5" width="1.6" height="95.6" fill="url(#b87)"/>
<rect x="59" y="115.5" width="1.6" height="95.6" fill="url(#b88)"/>
<rect x="60" y="115.5" width="1.6" height="95.6" fill="url(#b89)"/>
<rect x="61" y="115.5" width="1.6" height="95.6" fill="url(#b90)"/>
<rect x="62" y="115.5" width="1.6" height="95.6" fill="url(#b91)"/>
<rect x="63" y="115.5" width="1.6" height="95.6" fill="url(#b92)"/>
<rect x="64" y="115.5" width="1.6" height="95.6" fill="url(#b93)"/>
<rect x="65" y="115.5" width="1.6" height="95.6" fill="url(#b94)"/>
<rect x="66" y="115.5" width="1.6" height="95.6" fill="url(#b95)"/>
<rect x="67" y="115.5" width="1.6" height="95.6" fill="url(#b96)"/>
<rect x="68" y="115.5" width="1.6" height="95.6" fill="url(#b97)"/>
<rect x="69" y="115.5" width="1.6" height="95.6" fill="url(#b98)"/>
<rect x="70" y="115.5" width="1.6" height="95.6" fill="url(#b99)"/>
<rect x="71" y="115.5" width="1.6" height="95.6" fill="url(#b100)"/>
<rect x="72" y="115.5" width="1.6" height="95.6" fill="url(#b101)"/>
<rect x="73" y="115.5" width="1.6" height="95.6" fill="url(#b102)"/>
<rect x="74" y="115.5" width="1.6" height="95.6" fill="url(#b103)"/>
<rect x="75" y="115.5" width="1.6" height="95.6" fill="url(#b104)"/>
<rect x="76" y="115.5" width="1.6" height="95.6" fill="url(#b105)"/>
<rect x="77" y="115.5" width="1.6" height="95.6" fill="url(#b106)"/>
<rect x="78" y="115.5" width="1.6" height="95.6" fill="url(#b107)"/>
<rect x="79" y="115.5" width="1.6" height="95.6" fill="url(#b108)"/>
<rect x="80" y="115.5" width="1.6" height="95.6" fill="url(#b109)"/>
<rect x="81" y="115.5" width="1.6" height="95.6" fill="url(#b110)"/>
<rect x="82" y="115.5" width="1.6" height="95.6" fill="url(#b111)"/>
<rect x="83" y="115.5" width="1.6" height="95.6" fill="url(#b112)"/>
<rect x="84" y="115.5" width="1" height="95.6" fill="url(#b113)"/>
</g>
<g shape-rendering="crispEdges">
<rect x="18" y="225" width="1.6" height="95.7" fill="url(#b114)"/>
<rect x="19" y="225" width="1.6" height="95.7" fill="url(#b115)"/>
<rect x="20" y="225" width="1.6" height="95.7" fill="url(#b116)"/>
<rect x="21" y="225" width="1.6" height="95.7" fill="url(#b117)"/>
<rect x="22" y="225" width="1.6" height="95.7" fill="url(#b118)"/>
<rect x="23" y="225" width="1.6" height="95.7" fill="url(#b119)"/>
<rect x="24" y="225" width="1.6" height="95.7" fill="url(#b120)"/>
<rect x="25" y="225" width="1.6" height="95.7" fill="url(#b121)"/>
<rect x="26" y="225" width="1.6" height="95.7" fill="url(#b122)"/>
<rect x="27" y="225" width="1.6" height="95.7" fill="url(#b123)"/>
<rect x="28" y="225" width="1.6" height="95.7" fill="url(#b124)"/>
<rect x="29" y="225" width="1.6" height="95.7" fill="url(#b125)"/>
<rect x="30" y="225" width="1.6" height="95.7" fill="url(#b126)"/>
<rect x="31" y="225" width="1.6" height="95.7" fill="url(#b127)"/>
<rect x="32" y="225" width="1.6" height="95.7" fill="url(#b128)"/>
<rect x="33" y="225" width="1.6" height="95.7" fill="url(#b129)"/>
<rect x="34" y="225" width="1.6" height="95.7" fill="url(#b130)"/>
<rect x="35" y="225" width="1.6" height="95.7" fill="url(#b131)"/>
<rect x="36" y="225" width="1.6" height="95.7" fill="url(#b132)"/>
<rect x="37" y="225" width="1.6" height="95.7" fill="url(#b133)"/>
<rect x="38" y="225" width="1.6" height="95.7" fill="url(#b134)"/>
<rect x="39" y="225" width="1.6" height="95.7" fill="url(#b135)"/>
<rect x="40" y="225" width="1.6" height="95.7" fill="url(#b136)"/>
<rect x="41" y="225" width="1.6" height="95.7" fill="url(#b137)"/>
<rect x="42" y="225" width="1.6" height="95.7" fill="url(#b138)"/>
<rect x="43" y="225" width="1.6" height="95.7" fill="url(#b139)"/>
<rect x="44" y="225" width="1.6" height="95.7" fill="url(#b140)"/>
<rect x="45" y="225" width="1.6" height="95.7" fill="url(#b141)"/>
<rect x="46" y="225" width="1.6" height="95.7" fill="url(#b142)"/>
<rect x="47" y="225" width="1.6" height="95.7" fill="url(#b143)"/>
<rect x="48" y="225" width="1.6" height="95.7" fill="url(#b144)"/>
<rect x="49" y="225" width="1.6" height="95.7" fill="url(#b145)"/>
<rect x="50" y="225" width="1.6" height="95.7" fill="url(#b146)"/>
<rect x="51" y="225" width="1.6" height="95.7" fill="url(#b147)"/>
<rect x="52" y="225" width="1.6" height="95.7" fill="url(#b148)"/>
<rect x="53" y="225" width="1.6" height="95.7" fill="url(#b149)"/>
<rect x="54" y="225" width="1.6" height="95.7" fill="url(#b150)"/>
<rect x="55" y="225" width="1.6" height="95.7" fill="url(#b151)"/>
<rect x="56" y="225" width="1.6" height="95.7" fill="url(#b152)"/>
<rect x="57" y="225" width="1.6" height="95.7" fill="url(#b153)"/>
<rect x="58" y="225" width="1.6" height="95.7" fill="url(#b154)"/>
<rect x="59" y="225" width="1.6" height="95.7" fill="url(#b155)"/>
<rect x="60" y="225" width="1.6" height="95.7" fill="url(#b156)"/>
<rect x="61" y="225" width="1.6" height="95.7" fill="url(#b157)"/>
<rect x="62" y="225" width="1.6" height="95.7" fill="url(#b158)"/>
<rect x="63" y="225" width="1.6" height="95.7" fill="url(#b159)"/>
<rect x="64" y="225" width="1.6" height="95.7" fill="url(#b160)"/>
<rect x="65" y="225" width="1.6" height="95.7" fill="url(#b161)"/>
<rect x="66" y="225" width="1.6" height="95.7" fill="url(#b162)"/>
<rect x="67" y="225" width="1.6" height="95.7" fill="url(#b163)"/>
<rect x="68" y="225" width="1.6" height="95.7" fill="url(#b164)"/>
<rect x="69" y="225" width="1.6" height="95.7" fill="url(#b165)"/>
<rect x="70" y="225" width="1.6" height="95.7" fill="url(#b166)"/>
<rect x="71" y="225" width="1.6" height="95.7" fill="url(#b167)"/>
<rect x="72" y="225" width="1.6" height="95.7" fill="url(#b168)"/>
<rect x="73" y="225" width="1.6" height="95.7" fill="url(#b169)"/>
<rect x="74" y="225" width="1.6" height="95.7" fill="url(#b170)"/>
<rect x="75" y="225" width="1.6" height="95.7" fill="url(#b171)"/>
<rect x="76" y="225" width="1.6" height="95.7" fill="url(#b172)"/>
<rect x="77" y="225" width="1.6" height="95.7" fill="url(#b173)"/>
<rect x="78" y="225" width="1.6" height="95.7" fill="url(#b174)"/>
<rect x="79" y="225" width="1.6" height="95.7" fill="url(#b175)"/>
<rect x="80" y="225" width="1.6" height="95.7" fill="url(#b176)"/>
<rect x="81" y="225" width="1.6" height="95.7" fill="url(#b177)"/>
<rect x="82" y="225" width="1.6" height="95.7" fill="url(#b178)"/>
<rect x="83" y="225" width="1.6" height="95.7" fill="url(#b179)"/>
<rect x="84" y="225" width="1.6" height="95.7" fill="url(#b180)"/>
<rect x="85" y="225" width="1.6" height="95.7" fill="url(#b181)"/>
<rect x="86" y="225" width="1.6" height="95.7" fill="url(#b182)"/>
<rect x="87" y="225" width="1.6" height="95.7" fill="url(#b183)"/>
<rect x="88" y="225" width="1.6" height="95.7" fill="url(#b184)"/>
<rect x="89" y="225" width="1.6" height="95.7" fill="url(#b185)"/>
<rect x="90" y="225" width="1.6" height="95.7" fill="url(#b186)"/>
<rect x="91" y="225" width="1.6" height="95.7" fill="url(#b187)"/>
<rect x="92" y="225" width="1.6" height="95.7" fill="url(#b188)"/>
<rect x="93" y="225" width="1.6" height="95.7" fill="url(#b189)"/>
<rect x="94" y="225" width="1.6" height="95.7" fill="url(#b190)"/>
<rect x="95" y="225" width="1.6" height="95.7" fill="url(#b191)"/>
<rect x="96" y="225" width="1.6" height="95.7" fill="url(#b192)"/>
<rect x="97" y="225" width="1.6" height="95.7" fill="url(#b193)"/>
<rect x="98" y="225" width="1.6" height="95.7" fill="url(#b194)"/>
<rect x="99" y="225" width="1.6" height="95.7" fill="url(#b195)"/>
<rect x="100" y="225" width="1.6" height="95.7" fill="url(#b196)"/>
<rect x="101" y="225" width="1.6" height="95.7" fill="url(#b197)"/>
<rect x="102" y="225" width="1.6" height="95.7" fill="url(#b198)"/>
<rect x="103" y="225" width="1.6" height="95.7" fill="url(#b199)"/>
<rect x="104" y="225" width="1.6" height="95.7" fill="url(#b200)"/>
<rect x="105" y="225" width="1.6" height="95.7" fill="url(#b201)"/>
<rect x="106" y="225" width="1.6" height="95.7" fill="url(#b202)"/>
<rect x="107" y="225" width="1.6" height="95.7" fill="url(#b203)"/>
<rect x="108" y="225" width="1.6" height="95.7" fill="url(#b204)"/>
<rect x="109" y="225" width="1.6" height="95.7" fill="url(#b205)"/>
<rect x="110" y="225" width="1.6" height="95.7" fill="url(#b206)"/>
<rect x="111" y="225" width="1.6" height="95.7" fill="url(#b207)"/>
<rect x="112" y="225" width="1.6" height="95.7" fill="url(#b208)"/>
<rect x="113" y="225" width="1.6" height="95.7" fill="url(#b209)"/>
<rect x="114" y="225" width="1.6" height="95.7" fill="url(#b210)"/>
<rect x="115" y="225" width="1.6" height="95.7" fill="url(#b211)"/>
<rect x="116" y="225" width="1.6" height="95.7" fill="url(#b212)"/>
<rect x="117" y="225" width="1.6" height="95.7" fill="url(#b213)"/>
<rect x="118" y="225" width="1.6" height="95.7" fill="url(#b214)"/>
<rect x="119" y="225" width="1.6" height="95.7" fill="url(#b215)"/>
<rect x="120" y="225" width="1" height="95.7" fill="url(#b216)"/>
</g>
<g shape-rendering="crispEdges">
<rect x="142" y="5" width="5.82" height="95.7" fill="url(#gr217)"/>
<rect x="147.22" y="5" width="5.82" height="95.7" fill="url(#gr218)"/>
<rect x="152.44" y="5" width="5.82" height="95.7" fill="url(#gr219)"/>
<rect x="157.67" y="5" width="5.82" height="95.7" fill="url(#gr220)"/>
<rect x="162.89" y="5" width="5.82" height="95.7" fill="url(#gr221)"/>
<rect x="168.11" y="5" width="5.82" height="95.7" fill="url(#gr222)"/>
<rect x="173.33" y="5" width="5.82" height="95.7" fill="url(#gr223)"/>
<rect x="178.56" y="5" width="5.82" height="95.7" fill="url(#gr224)"/>
<rect x="183.78" y="5" width="5.22" height="95.7" fill="url(#gr225)"/>
</g>
<rect x="146.52" y="5" width="1.4" height="95.7" fill="#000" opacity=".13"/>
<rect x="151.74" y="5" width="1.4" height="95.7" fill="#000" opacity=".13"/>
<rect x="156.97" y="5" width="1.4" height="95.7" fill="#000" opacity=".13"/>
<rect x="162.19" y="5" width="1.4" height="95.7" fill="#000" opacity=".13"/>
<rect x="167.41" y="5" width="1.4" height="95.7" fill="#000" opacity=".13"/>
<rect x="172.63" y="5" width="1.4" height="95.7" fill="#000" opacity=".13"/>
<rect x="177.86" y="5" width="1.4" height="95.7" fill="#000" opacity=".13"/>
<rect x="183.08" y="5" width="1.4" height="95.7" fill="#000" opacity=".13"/>
<rect x="142" y="5" width="1" height="95.7" fill="#8a8a8a"/>
<g shape-rendering="crispEdges">
<rect x="142" y="115" width="5.83" height="95.7" fill="url(#gr226)"/>
<rect x="147.23" y="115" width="5.83" height="95.7" fill="url(#gr227)"/>
<rect x="152.46" y="115" width="5.83" height="95.7" fill="url(#gr228)"/>
<rect x="157.69" y="115" width="5.83" height="95.7" fill="url(#gr229)"/>
<rect x="162.92" y="115" width="5.83" height="95.7" fill="url(#gr230)"/>
<rect x="168.15" y="115" width="5.83" height="95.7" fill="url(#gr231)"/>
<rect x="173.38" y="115" width="5.83" height="95.7" fill="url(#gr232)"/>
<rect x="178.62" y="115" width="5.83" height="95.7" fill="url(#gr233)"/>
<rect x="183.85" y="115" width="5.83" height="95.7" fill="url(#gr234)"/>
<rect x="189.08" y="115" width="5.83" height="95.7" fill="url(#gr235)"/>
<rect x="194.31" y="115" width="5.83" height="95.7" fill="url(#gr236)"/>
<rect x="199.54" y="115" width="5.83" height="95.7" fill="url(#gr237)"/>
<rect x="204.77" y="115" width="5.23" height="95.7" fill="url(#gr238)"/>
</g>
<rect x="146.53" y="115" width="1.4" height="95.7" fill="#000" opacity=".13"/>
<rect x="151.76" y="115" width="1.4" height="95.7" fill="#000" opacity=".13"/>
<rect x="156.99" y="115" width="1.4" height="95.7" fill="#000" opacity=".13"/>
<rect x="162.22" y="115" width="1.4" height="95.7" fill="#000" opacity=".13"/>
<rect x="167.45" y="115" width="1.4" height="95.7" fill="#000" opacity=".13"/>
<rect x="172.68" y="115" width="1.4" height="95.7" fill="#000" opacity=".13"/>
<rect x="177.92" y="115" width="1.4" height="95.7" fill="#000" opacity=".13"/>
<rect x="183.15" y="115" width="1.4" height="95.7" fill="#000" opacity=".13"/>
<rect x="188.38" y="115" width="1.4" height="95.7" fill="#000" opacity=".13"/>
<rect x="193.61" y="115" width="1.4" height="95.7" fill="#000" opacity=".13"/>
<rect x="198.84" y="115" width="1.4" height="95.7" fill="#000" opacity=".13"/>
<rect x="204.07" y="115" width="1.4" height="95.7" fill="#000" opacity=".13"/>
<rect x="142" y="115" width="1" height="95.7" fill="#8a8a8a"/>
<g shape-rendering="crispEdges">
<rect x="142" y="225" width="5.77" height="95.7" fill="url(#gr239)"/>
<rect x="147.18" y="225" width="5.77" height="95.7" fill="url(#gr240)"/>
<rect x="152.35" y="225" width="5.77" height="95.7" fill="url(#gr241)"/>
<rect x="157.53" y="225" width="5.77" height="95.7" fill="url(#gr242)"/>
<rect x="162.7" y="225" width="5.77" height="95.7" fill="url(#gr243)"/>
<rect x="167.88" y="225" width="5.77" height="95.7" fill="url(#gr244)"/>
<rect x="173.05" y="225" width="5.77" height="95.7" fill="url(#gr245)"/>
<rect x="178.22" y="225" width="5.77" height="95.7" fill="url(#gr246)"/>
<rect x="183.4" y="225" width="5.77" height="95.7" fill="url(#gr247)"/>
<rect x="188.57" y="225" width="5.77" height="95.7" fill="url(#gr248)"/>
<rect x="193.75" y="225" width="5.77" height="95.7" fill="url(#gr249)"/>
<rect x="198.93" y="225" width="5.77" height="95.7" fill="url(#gr250)"/>
<rect x="204.1" y="225" width="5.77" height="95.7" fill="url(#gr251)"/>
<rect x="209.27" y="225" width="5.77" height="95.7" fill="url(#gr252)"/>
<rect x="214.45" y="225" width="5.77" height="95.7" fill="url(#gr253)"/>
<rect x="219.62" y="225" width="5.77" height="95.7" fill="url(#gr254)"/>
<rect x="224.8" y="225" width="5.77" height="95.7" fill="url(#gr255)"/>
<rect x="229.97" y="225" width="5.77" height="95.7" fill="url(#gr256)"/>
<rect x="235.15" y="225" width="5.77" height="95.7" fill="url(#gr257)"/>
<rect x="240.32" y="225" width="5.17" height="95.7" fill="url(#gr258)"/>
</g>
<rect x="146.48" y="225" width="1.4" height="95.7" fill="#000" opacity=".13"/>
<rect x="151.65" y="225" width="1.4" height="95.7" fill="#000" opacity=".13"/>
<rect x="156.83" y="225" width="1.4" height="95.7" fill="#000" opacity=".13"/>
<rect x="162" y="225" width="1.4" height="95.7" fill="#000" opacity=".13"/>
<rect x="167.18" y="225" width="1.4" height="95.7" fill="#000" opacity=".13"/>
<rect x="172.35" y="225" width="1.4" height="95.7" fill="#000" opacity=".13"/>
<rect x="177.53" y="225" width="1.4" height="95.7" fill="#000" opacity=".13"/>
<rect x="182.7" y="225" width="1.4" height="95.7" fill="#000" opacity=".13"/>
<rect x="187.88" y="225" width="1.4" height="95.7" fill="#000" opacity=".13"/>
<rect x="193.05" y="225" width="1.4" height="95.7" fill="#000" opacity=".13"/>
<rect x="198.23" y="225" width="1.4" height="95.7" fill="#000" opacity=".13"/>
<rect x="203.4" y="225" width="1.4" height="95.7" fill="#000" opacity=".13"/>
<rect x="208.57" y="225" width="1.4" height="95.7" fill="#000" opacity=".13"/>
<rect x="213.75" y="225" width="1.4" height="95.7" fill="#000" opacity=".13"/>
<rect x="218.93" y="225" width="1.4" height="95.7" fill="#000" opacity=".13"/>
<rect x="224.1" y="225" width="1.4" height="95.7" fill="#000" opacity=".13"/>
<rect x="229.28" y="225" width="1.4" height="95.7" fill="#000" opacity=".13"/>
<rect x="234.45" y="225" width="1.4" height="95.7" fill="#000" opacity=".13"/>
<rect x="239.62" y="225" width="1.4" height="95.7" fill="#000" opacity=".13"/>
<rect x="142" y="225" width="1" height="95.7" fill="#8a8a8a"/>
<g shape-rendering="crispEdges">
<rect x="272" y="5" width="86" height="95.6" fill="#0b0000"/>
<rect x="272" y="48.76" width="5.38" height="8.83" fill="url(#r259)"/>
<rect x="276.78" y="47.31" width="5.38" height="12.02" fill="url(#r260)"/>
<rect x="281.56" y="46.02" width="5.38" height="14.9" fill="url(#r261)"/>
<rect x="286.33" y="44.81" width="5.38" height="17.62" fill="url(#r262)"/>
<rect x="291.11" y="43.65" width="5.38" height="20.23" fill="url(#r263)"/>
<rect x="295.89" y="42.53" width="5.38" height="22.76" fill="url(#r264)"/>
<rect x="300.67" y="41.45" width="5.38" height="25.23" fill="url(#r265)"/>
<rect x="305.44" y="40.39" width="5.38" height="27.64" fill="url(#r266)"/>
<rect x="310.22" y="39.35" width="5.38" height="30.01" fill="url(#r267)"/>
<rect x="315" y="38.34" width="5.38" height="32.34" fill="url(#r268)"/>
<rect x="319.78" y="37.34" width="5.38" height="34.64" fill="url(#r269)"/>
<rect x="324.56" y="36.35" width="5.38" height="36.9" fill="url(#r270)"/>
<rect x="329.33" y="35.38" width="5.38" height="39.14" fill="url(#r271)"/>
<rect x="334.11" y="34.42" width="5.38" height="41.35" fill="url(#r272)"/>
<rect x="338.89" y="33.48" width="5.38" height="43.54" fill="url(#r273)"/>
<rect x="343.67" y="32.54" width="5.38" height="45.71" fill="url(#r274)"/>
<rect x="348.44" y="31.61" width="5.38" height="47.86" fill="url(#r275)"/>
<rect x="353.22" y="30.7" width="4.78" height="49.99" fill="url(#r276)"/>
</g>
<g fill="#000" shape-rendering="crispEdges">
<rect x="287.29" y="35.34" width="70.71" height="1" opacity=".12"/>
<rect x="287.62" y="38.34" width="70.38" height=".8" opacity=".35"/>
<rect x="286.21" y="41.14" width="71.79" height="1.2" opacity=".14"/>
<rect x="282.25" y="44.34" width="75.75" height="1.5" opacity=".34"/>
<rect x="294.4" y="46.84" width="63.6" height="1" opacity=".24"/>
<rect x="276.11" y="48.44" width="81.89" height=".8" opacity=".37"/>
<rect x="292.13" y="49.84" width="65.87" height="1.2" opacity=".33"/>
<rect x="287.34" y="52.44" width="70.66" height="1.5" opacity=".36"/>
<rect x="282.19" y="55.94" width="75.81" height="1.5" opacity=".32"/>
<rect x="294.67" y="59.44" width="63.33" height="1" opacity=".11"/>
<rect x="277.6" y="61.44" width="80.4" height="1.5" opacity=".37"/>
<rect x="282.87" y="64.94" width="75.13" height="1.2" opacity=".33"/>
<rect x="287.07" y="67.54" width="70.93" height="1.5" opacity=".35"/>
<rect x="297.57" y="69.64" width="60.43" height="1.2" opacity=".28"/>
<rect x="296.89" y="71.84" width="61.11" height="1.2" opacity=".35"/>
<rect x="288.33" y="73.64" width="69.67" height="1" opacity=".38"/>
</g>
<g shape-rendering="crispEdges">
<rect x="272" y="115" width="124.5" height="95.5" fill="#0b0000"/>
<rect x="272" y="157.56" width="5.39" height="8.83" fill="url(#r277)"/>
<rect x="276.79" y="156.11" width="5.39" height="12.03" fill="url(#r278)"/>
<rect x="281.58" y="154.81" width="5.39" height="14.92" fill="url(#r279)"/>
<rect x="286.37" y="153.6" width="5.39" height="17.64" fill="url(#r280)"/>
<rect x="291.15" y="152.44" width="5.39" height="20.26" fill="url(#r281)"/>
<rect x="295.94" y="151.32" width="5.39" height="22.79" fill="url(#r282)"/>
<rect x="300.73" y="150.23" width="5.39" height="25.26" fill="url(#r283)"/>
<rect x="305.52" y="149.17" width="5.39" height="27.68" fill="url(#r284)"/>
<rect x="310.31" y="148.13" width="5.39" height="30.06" fill="url(#r285)"/>
<rect x="315.1" y="147.11" width="5.39" height="32.39" fill="url(#r286)"/>
<rect x="319.88" y="146.11" width="5.39" height="34.69" fill="url(#r287)"/>
<rect x="324.67" y="145.13" width="5.39" height="36.96" fill="url(#r288)"/>
<rect x="329.46" y="144.15" width="5.39" height="39.2" fill="url(#r289)"/>
<rect x="334.25" y="143.19" width="5.39" height="41.42" fill="url(#r290)"/>
<rect x="339.04" y="142.25" width="5.39" height="43.61" fill="url(#r291)"/>
<rect x="343.83" y="141.31" width="5.39" height="45.79" fill="url(#r292)"/>
<rect x="348.62" y="140.38" width="5.39" height="47.94" fill="url(#r293)"/>
<rect x="353.4" y="139.46" width="5.39" height="50.08" fill="url(#r294)"/>
<rect x="358.19" y="138.55" width="5.39" height="52.19" fill="url(#r295)"/>
<rect x="362.98" y="137.65" width="5.39" height="54.3" fill="url(#r296)"/>
<rect x="367.77" y="136.75" width="5.39" height="56.38" fill="url(#r297)"/>
<rect x="372.56" y="135.86" width="5.39" height="58.46" fill="url(#r298)"/>
<rect x="377.35" y="134.98" width="5.39" height="60.52" fill="url(#r299)"/>
<rect x="382.13" y="134.11" width="5.39" height="62.56" fill="url(#r300)"/>
<rect x="386.92" y="133.24" width="5.39" height="64.6" fill="url(#r301)"/>
<rect x="391.71" y="132.37" width="4.79" height="66.62" fill="url(#r302)"/>
</g>
<g fill="#000" shape-rendering="crispEdges">
<rect x="299.71" y="137.98" width="96.79" height="1.2" opacity=".32"/>
<rect x="300.98" y="139.78" width="95.52" height="1.5" opacity=".15"/>
<rect x="276.23" y="141.88" width="120.27" height="1" opacity=".22"/>
<rect x="292.31" y="143.88" width="104.19" height="1.5" opacity=".25"/>
<rect x="287.24" y="145.98" width="109.26" height="1" opacity=".13"/>
<rect x="300.46" y="148.98" width="96.04" height="1" opacity=".1"/>
<rect x="276.94" y="151.98" width="119.56" height="1" opacity=".37"/>
<rect x="300.89" y="153.58" width="95.61" height="1" opacity=".37"/>
<rect x="282.81" y="155.58" width="113.69" height="1" opacity=".37"/>
<rect x="307.15" y="157.58" width="89.35" height="1" opacity=".29"/>
<rect x="272.81" y="160.58" width="123.69" height="1.2" opacity=".2"/>
<rect x="274.43" y="162.78" width="122.07" height="1.2" opacity=".17"/>
<rect x="274.47" y="164.58" width="122.03" height="1.2" opacity=".19"/>
<rect x="298.01" y="167.18" width="98.49" height="1.5" opacity=".14"/>
<rect x="274.13" y="170.68" width="122.37" height="1" opacity=".37"/>
<rect x="303.56" y="172.28" width="92.94" height="1.2" opacity=".09"/>
<rect x="286.06" y="175.48" width="110.44" height="1.2" opacity=".33"/>
<rect x="298.43" y="178.68" width="98.07" height=".8" opacity=".27"/>
<rect x="300.23" y="180.48" width="96.27" height=".8" opacity=".36"/>
<rect x="291.14" y="183.28" width="105.36" height="1.2" opacity=".35"/>
<rect x="276.04" y="185.88" width="120.46" height="1.5" opacity=".3"/>
<rect x="273.37" y="188.78" width="123.13" height="1.2" opacity=".36"/>
</g>
<g shape-rendering="crispEdges">
<rect x="272" y="225" width="192" height="95.2" fill="#0b0000"/>
<rect x="272" y="267.56" width="5.4" height="8.84" fill="url(#r303)"/>
<rect x="276.8" y="266.1" width="5.4" height="12.04" fill="url(#r304)"/>
<rect x="281.6" y="264.8" width="5.4" height="14.94" fill="url(#r305)"/>
<rect x="286.4" y="263.59" width="5.4" height="17.67" fill="url(#r306)"/>
<rect x="291.2" y="262.43" width="5.4" height="20.29" fill="url(#r307)"/>
<rect x="296" y="261.3" width="5.4" height="22.83" fill="url(#r308)"/>
<rect x="300.8" y="260.22" width="5.4" height="25.3" fill="url(#r309)"/>
<rect x="305.6" y="259.15" width="5.4" height="27.73" fill="url(#r310)"/>
<rect x="310.4" y="258.11" width="5.4" height="30.1" fill="url(#r311)"/>
<rect x="315.2" y="257.09" width="5.4" height="32.44" fill="url(#r312)"/>
<rect x="320" y="256.09" width="5.4" height="34.75" fill="url(#r313)"/>
<rect x="324.8" y="255.1" width="5.4" height="37.02" fill="url(#r314)"/>
<rect x="329.6" y="254.13" width="5.4" height="39.27" fill="url(#r315)"/>
<rect x="334.4" y="253.16" width="5.4" height="41.49" fill="url(#r316)"/>
<rect x="339.2" y="252.21" width="5.4" height="43.69" fill="url(#r317)"/>
<rect x="344" y="251.27" width="5.4" height="45.87" fill="url(#r318)"/>
<rect x="348.8" y="250.34" width="5.4" height="48.03" fill="url(#r319)"/>
<rect x="353.6" y="249.42" width="5.4" height="50.17" fill="url(#r320)"/>
<rect x="358.4" y="248.51" width="5.4" height="52.29" fill="url(#r321)"/>
<rect x="363.2" y="247.6" width="5.4" height="54.4" fill="url(#r322)"/>
<rect x="368" y="246.71" width="5.4" height="56.49" fill="url(#r323)"/>
<rect x="372.8" y="245.82" width="5.4" height="58.56" fill="url(#r324)"/>
<rect x="377.6" y="244.93" width="5.4" height="60.63" fill="url(#r325)"/>
<rect x="382.4" y="244.06" width="5.4" height="62.68" fill="url(#r326)"/>
<rect x="387.2" y="243.19" width="5.4" height="64.72" fill="url(#r327)"/>
<rect x="392" y="242.32" width="5.4" height="66.75" fill="url(#r328)"/>
<rect x="396.8" y="241.46" width="5.4" height="68.76" fill="url(#r329)"/>
<rect x="401.6" y="240.61" width="5.4" height="70.77" fill="url(#r330)"/>
<rect x="406.4" y="239.76" width="5.4" height="72.76" fill="url(#r331)"/>
<rect x="411.2" y="238.91" width="5.4" height="74.75" fill="url(#r332)"/>
<rect x="416" y="238.08" width="5.4" height="76.73" fill="url(#r333)"/>
<rect x="420.8" y="237.24" width="5.4" height="78.69" fill="url(#r334)"/>
<rect x="425.6" y="236.41" width="5.4" height="80.65" fill="url(#r335)"/>
<rect x="430.4" y="235.58" width="5.4" height="82.6" fill="url(#r336)"/>
<rect x="435.2" y="234.76" width="5.4" height="84.54" fill="url(#r337)"/>
<rect x="440" y="233.94" width="5.4" height="86.26" fill="url(#r338)"/>
<rect x="444.8" y="233.13" width="5.4" height="87.07" fill="url(#r339)"/>
<rect x="449.6" y="232.32" width="5.4" height="87.88" fill="url(#r340)"/>
<rect x="454.4" y="231.51" width="5.4" height="88.69" fill="url(#r341)"/>
<rect x="459.2" y="230.71" width="4.8" height="89.49" fill="url(#r342)"/>
</g>
<g fill="#000" shape-rendering="crispEdges">
<rect x="293.34" y="237.18" width="170.66" height="1" opacity=".19"/>
<rect x="276.91" y="239.18" width="187.09" height=".8" opacity=".15"/>
<rect x="308.97" y="240.98" width="155.03" height="1.5" opacity=".22"/>
<rect x="300.51" y="244.48" width="163.49" height="1.5" opacity=".14"/>
<rect x="299.94" y="247.98" width="164.06" height=".8" opacity=".31"/>
<rect x="299.32" y="250.18" width="164.68" height="1.5" opacity=".35"/>
<rect x="277.6" y="252.28" width="186.4" height="1.2" opacity=".32"/>
<rect x="278.21" y="255.48" width="185.79" height="1.5" opacity=".1"/>
<rect x="300.66" y="257.98" width="163.34" height=".8" opacity=".27"/>
<rect x="306.95" y="259.78" width="157.05" height="1" opacity=".24"/>
<rect x="312.42" y="261.38" width="151.58" height="1.5" opacity=".12"/>
<rect x="288.45" y="264.88" width="175.55" height="1.5" opacity=".19"/>
<rect x="281.12" y="268.38" width="182.88" height="1" opacity=".26"/>
<rect x="326.72" y="270.78" width="137.28" height="1.2" opacity=".33"/>
<rect x="280.65" y="272.98" width="183.35" height="1.2" opacity=".24"/>
<rect x="291.83" y="274.78" width="172.17" height="1" opacity=".35"/>
<rect x="284.66" y="277.18" width="179.34" height="1.2" opacity=".09"/>
<rect x="289.19" y="279.78" width="174.81" height="1.5" opacity=".29"/>
<rect x="309.87" y="283.28" width="154.13" height="1" opacity=".11"/>
<rect x="328.05" y="284.88" width="135.95" height="1" opacity=".13"/>
<rect x="317.87" y="286.48" width="146.13" height=".8" opacity=".19"/>
<rect x="324.14" y="288.28" width="139.86" height="1.5" opacity=".12"/>
<rect x="296.07" y="291.78" width="167.93" height="1.5" opacity=".26"/>
<rect x="273.96" y="294.68" width="190.04" height=".8" opacity=".28"/>
<rect x="318.52" y="296.88" width="145.48" height="1" opacity=".23"/>
<rect x="282.93" y="298.88" width="181.07" height=".8" opacity=".35"/>
<rect x="309.91" y="301.08" width="154.09" height="1.5" opacity=".12"/>
<rect x="290.75" y="303.98" width="173.25" height="1.2" opacity=".19"/>
<rect x="275.49" y="307.18" width="188.51" height="1" opacity=".27"/>
<rect x="291.44" y="309.18" width="172.56" height="1" opacity=".21"/>
</g>
<text x="1.5" y="17.2" class="sf" font-size="21" fill="#000">a</text>
<text x="1.2" y="127.9" class="sf" font-size="21" fill="#000">b</text>
<text x="1.7" y="235.4" class="sf" font-size="20.5" fill="#000">c</text>
<text x="18.5" y="111.6" class="sf" font-size="9.8" fill="#000">0</text>
<text x="35" y="111.6" class="sf" font-size="9.8" textLength="16.8" lengthAdjust="spacingAndGlyphs">Z<tspan font-size="6.08" dy="3.3">1</tspan><tspan dy="-3.3">/4</tspan></text>
<text x="60" y="111.6" class="sf" font-size="9.8" textLength="16.8" lengthAdjust="spacingAndGlyphs">Z<tspan font-size="6.08" dy="3.3">1</tspan><tspan dy="-3.3">/2</tspan></text>
<text x="18.8" y="221" class="sf" font-size="9.8" fill="#000">0</text>
<text x="45.9" y="221" class="sf" font-size="9.8" textLength="16.6" lengthAdjust="spacingAndGlyphs">Z<tspan font-size="6.08" dy="3.3">2</tspan><tspan dy="-3.3">/4</tspan></text>
<text x="79.2" y="221" class="sf" font-size="9.8" textLength="16.6" lengthAdjust="spacingAndGlyphs">Z<tspan font-size="6.08" dy="3.3">2</tspan><tspan dy="-3.3">/2</tspan></text>
<text x="18" y="331.6" class="sf" font-size="9.8" fill="#000">0</text>
<text x="62.8" y="331.6" class="sf" font-size="9.8" textLength="16.5" lengthAdjust="spacingAndGlyphs">Z<tspan font-size="6.08" dy="3.3">3</tspan><tspan dy="-3.3">/4</tspan></text>
<text x="114" y="331.6" class="sf" font-size="9.8" textLength="17" lengthAdjust="spacingAndGlyphs">Z<tspan font-size="6.08" dy="3.3">3</tspan><tspan dy="-3.3">/2</tspan></text>
<text x="142" y="110.5" class="sf" font-size="9.8" fill="#000">0</text>
<text x="156" y="110.5" class="sf" font-size="9.8" textLength="16.4" lengthAdjust="spacingAndGlyphs">Z<tspan font-size="6.08" dy="3.3">1</tspan><tspan dy="-3.3">/4</tspan></text>
<text x="181.7" y="110.5" class="sf" font-size="9.8" textLength="16.3" lengthAdjust="spacingAndGlyphs">Z<tspan font-size="6.08" dy="3.3">1</tspan><tspan dy="-3.3">/2</tspan></text>
<text x="142.2" y="220.8" class="sf" font-size="9.8" fill="#000">0</text>
<text x="167.2" y="220.8" class="sf" font-size="9.8" textLength="17.5" lengthAdjust="spacingAndGlyphs">Z<tspan font-size="6.08" dy="3.3">2</tspan><tspan dy="-3.3">/4</tspan></text>
<text x="202" y="220.8" class="sf" font-size="9.8" textLength="17.1" lengthAdjust="spacingAndGlyphs">Z<tspan font-size="6.08" dy="3.3">2</tspan><tspan dy="-3.3">/2</tspan></text>
<text x="142.2" y="331.6" class="sf" font-size="9.8" fill="#000">0</text>
<text x="186.6" y="331.6" class="sf" font-size="9.8" textLength="16.7" lengthAdjust="spacingAndGlyphs">Z<tspan font-size="6.08" dy="3.3">3</tspan><tspan dy="-3.3">/4</tspan></text>
<text x="235.6" y="331.6" class="sf" font-size="9.8" textLength="17.4" lengthAdjust="spacingAndGlyphs">Z<tspan font-size="6.08" dy="3.3">3</tspan><tspan dy="-3.3">/2</tspan></text>
<text x="271.7" y="110.2" class="sf" font-size="9.8" fill="#000">0</text>
<text x="306" y="110.2" class="sf" font-size="9.8" textLength="16" lengthAdjust="spacingAndGlyphs">Z<tspan font-size="6.08" dy="3.3">1</tspan><tspan dy="-3.3">/4</tspan></text>
<text x="347.7" y="110.2" class="sf" font-size="9.8" textLength="16.5" lengthAdjust="spacingAndGlyphs">Z<tspan font-size="6.08" dy="3.3">1</tspan><tspan dy="-3.3">/2</tspan></text>
<text x="272" y="220.8" class="sf" font-size="9.8" fill="#000">0</text>
<text x="324" y="220.8" class="sf" font-size="9.8" textLength="17.6" lengthAdjust="spacingAndGlyphs">Z<tspan font-size="6.08" dy="3.3">2</tspan><tspan dy="-3.3">/4</tspan></text>
<text x="384.9" y="220.8" class="sf" font-size="9.8" textLength="16.9" lengthAdjust="spacingAndGlyphs">Z<tspan font-size="6.08" dy="3.3">2</tspan><tspan dy="-3.3">/2</tspan></text>
<text x="272" y="331.4" class="sf" font-size="9.8" fill="#000">0</text>
<text x="358.9" y="331.4" class="sf" font-size="9.8" textLength="18" lengthAdjust="spacingAndGlyphs">Z<tspan font-size="6.08" dy="3.3">3</tspan><tspan dy="-3.3">/4</tspan></text>
<text x="454" y="331.4" class="sf" font-size="9.8" textLength="17.8" lengthAdjust="spacingAndGlyphs">Z<tspan font-size="6.08" dy="3.3">3</tspan><tspan dy="-3.3">/2</tspan></text>
<rect x="67.6" y="47" width="3.8" height="55.3" fill="url(#cby)"/>
<text x="73.6" y="50" class="sf" font-size="8.4" fill="#000">1</text>
<text x="73.6" y="77.65" class="sf" font-size="8.4" fill="#000">0.5</text>
<text x="73.6" y="103.8" class="sf" font-size="8.4" fill="#000">0</text>
<rect x="88.3" y="155.3" width="3.7" height="55.3" fill="url(#cby)"/>
<text x="94.2" y="158.3" class="sf" font-size="8.4" fill="#000">1</text>
<text x="94.2" y="185.95" class="sf" font-size="8.4" fill="#000">0.5</text>
<text x="94.2" y="212.1" class="sf" font-size="8.4" fill="#000">0</text>
<rect x="123.6" y="265.2" width="4.1" height="55.2" fill="url(#cby)"/>
<text x="129.9" y="268.2" class="sf" font-size="8.4" fill="#000">1</text>
<text x="129.9" y="295.8" class="sf" font-size="8.4" fill="#000">0.5</text>
<text x="129.9" y="321.9" class="sf" font-size="8.4" fill="#000">0</text>
<rect x="192.8" y="46.2" width="3" height="54.5" fill="url(#cbg)"/>
<text x="198" y="49.2" class="sf" font-size="8.4" fill="#000">1</text>
<text x="198" y="76.45" class="sf" font-size="8.4" fill="#000">0.5</text>
<text x="198" y="102.2" class="sf" font-size="8.4" fill="#000">0</text>
<rect x="212.3" y="157.2" width="3.1" height="53.5" fill="url(#cbg)"/>
<text x="217.6" y="160.2" class="sf" font-size="8.4" fill="#000">1</text>
<text x="217.6" y="186.95" class="sf" font-size="8.4" fill="#000">0.5</text>
<text x="217.6" y="212.2" class="sf" font-size="8.4" fill="#000">0</text>
<rect x="248.6" y="267.5" width="3.3" height="53.3" fill="url(#cbg)"/>
<text x="254.1" y="270.5" class="sf" font-size="8.4" fill="#000">1</text>
<text x="254.1" y="297.15" class="sf" font-size="8.4" fill="#000">0.5</text>
<text x="254.1" y="322.3" class="sf" font-size="8.4" fill="#000">0</text>
<rect x="360.7" y="47.2" width="2.9" height="53.3" fill="url(#cbh)"/>
<text x="365.8" y="50.2" class="sf" font-size="8.4" fill="#000">1</text>
<text x="365.8" y="76.85" class="sf" font-size="8.4" fill="#000">0.5</text>
<text x="365.8" y="102" class="sf" font-size="8.4" fill="#000">0</text>
<rect x="399.1" y="157" width="2.7" height="53.3" fill="url(#cbh)"/>
<text x="404" y="160" class="sf" font-size="8.4" fill="#000">1</text>
<text x="404" y="186.65" class="sf" font-size="8.4" fill="#000">0.5</text>
<text x="404" y="211.8" class="sf" font-size="8.4" fill="#000">0</text>
<rect x="466.6" y="267.5" width="2.6" height="53.5" fill="url(#cbh)"/>
<text x="471.4" y="270.5" class="sf" font-size="8.4" fill="#000">1</text>
<text x="471.4" y="297.25" class="sf" font-size="8.4" fill="#000">0.5</text>
<text x="471.4" y="322.5" class="sf" font-size="8.4" fill="#000">0</text>
<g fill="#fff" stroke="none">
<path d="M23.95 13.4H37.4" stroke="#fff" stroke-width="1.5" fill="none"/>
<path d="M24.7 13.4V28.4" stroke="#fff" stroke-width="1.5" fill="none"/>
<path d="M43.4 13.4L35.2 10.1L36.4 13.4L35.2 16.7Z"/>
<path d="M24.7 34.4L21.4 26L24.7 27.2L28 26Z"/>
</g>
<text x="39.3" y="23.4" class="sf" font-size="11" fill="#fff">z</text>
<text x="28.6" y="36" class="sf" font-size="11" fill="#fff">y</text>
<g fill="#fff" stroke="none">
<path d="M148.55 14.1H161.1" stroke="#fff" stroke-width="1.5" fill="none"/>
<path d="M149.3 14.1V30.3" stroke="#fff" stroke-width="1.5" fill="none"/>
<path d="M167.1 14.1L158.9 10.8L160.1 14.1L158.9 17.4Z"/>
<path d="M149.3 36.3L146 27.9L149.3 29.1L152.6 27.9Z"/>
</g>
<text x="163.3" y="25.8" class="sf" font-size="11" fill="#fff">z</text>
<text x="153.3" y="41.2" class="sf" font-size="11" fill="#fff">y</text>
<g fill="#fff" stroke="none">
<path d="M277.35 9.5H299.8" stroke="#fff" stroke-width="1.5" fill="none"/>
<path d="M278.1 9.5V31.2" stroke="#fff" stroke-width="1.5" fill="none"/>
<path d="M305.8 9.5L297.6 6.2L298.8 9.5L297.6 12.8Z"/>
<path d="M278.1 37.2L274.8 28.8L278.1 30L281.4 28.8Z"/>
</g>
<text x="306.8" y="21" class="sf" font-size="11" fill="#fff">z</text>
<text x="283.8" y="42.2" class="sf" font-size="11" fill="#fff">y</text>
<text x="148.6" y="91.8" class="sf" font-size="11.3" fill="#fff" textLength="35.5" lengthAdjust="spacingAndGlyphs">1/φ<tspan font-size="6.78" dy="2.2">1</tspan><tspan dy="-2.2">=1/2</tspan></text>
<text x="150" y="202.3" class="sf" font-size="11.3" fill="#fff" textLength="36.6" lengthAdjust="spacingAndGlyphs">1/φ<tspan font-size="6.78" dy="2.2">2</tspan><tspan dy="-2.2">=2/3</tspan></text>
<text x="150" y="311.3" class="sf" font-size="11.3" fill="#fff" textLength="35.8" lengthAdjust="spacingAndGlyphs">1/φ<tspan font-size="6.78" dy="2.2">3</tspan><tspan dy="-2.2">=3/5</tspan></text>
<text x="278.7" y="89.6" class="sf" font-size="11.3" fill="#fff" textLength="37.3" lengthAdjust="spacingAndGlyphs">1/φ<tspan font-size="6.78" dy="2.2">1</tspan><tspan dy="-2.2">=1/2</tspan></text>
<text x="279.4" y="203.2" class="sf" font-size="11.3" fill="#fff" textLength="35.6" lengthAdjust="spacingAndGlyphs">1/φ<tspan font-size="6.78" dy="2.2">2</tspan><tspan dy="-2.2">=2/3</tspan></text>
<text x="279.5" y="310.6" class="sf" font-size="11.3" fill="#fff" textLength="36.5" lengthAdjust="spacingAndGlyphs">1/φ<tspan font-size="6.78" dy="2.2">3</tspan><tspan dy="-2.2">=3/5</tspan></text>
<rect x="200.3" y="296.3" width="1.9" height="20.4" fill="#fff"/>
<text x="205.8" y="311.3" class="sf" font-size="10.5" fill="#fff" textLength="34.2" lengthAdjust="spacingAndGlyphs">100 &#160;µm</text>
<rect x="328" y="300.5" width="1.7" height="13.5" fill="#fff"/>
<text x="333.5" y="310.6" class="sf" font-size="10.5" fill="#fff" textLength="31.5" lengthAdjust="spacingAndGlyphs">100 µm</text>
<text x="335.8" y="22.8" class="sf" font-size="21" fill="#fff">d</text>
<text x="373.9" y="134.3" class="sf" font-size="21" fill="#fff">e</text>
<text x="443.6" y="244.2" class="sf" font-size="21.5" fill="#fff">f</text>
<rect x="272.5" y="97.6" width="0.9" height="3" fill="#fff" opacity=".85"/>
<rect x="315" y="97.6" width="0.9" height="3" fill="#fff" opacity=".85"/>
<rect x="357.2" y="97.6" width="0.9" height="3" fill="#fff" opacity=".85"/>
<rect x="272.5" y="207.5" width="0.9" height="3" fill="#fff" opacity=".85"/>
<rect x="334.25" y="207.5" width="0.9" height="3" fill="#fff" opacity=".85"/>
<rect x="395.7" y="207.5" width="0.9" height="3" fill="#fff" opacity=".85"/>
<rect x="272.5" y="317.2" width="0.9" height="3" fill="#fff" opacity=".85"/>
<rect x="368" y="317.2" width="0.9" height="3" fill="#fff" opacity=".85"/>
<rect x="463.2" y="317.2" width="0.9" height="3" fill="#fff" opacity=".85"/>
<line x1="274" y1="53.4" x2="358" y2="53.4" stroke="#d8d8d8" stroke-width="1.5" stroke-dasharray="4.6 4.9"/>
<circle cx="277.2" cy="53.1" r="1.65" fill="#1ee61e"/>
<circle cx="286.8" cy="53.42" r="1.65" fill="#1ee61e"/>
<circle cx="296.4" cy="53.74" r="1.65" fill="#1ee61e"/>
<circle cx="306" cy="54.06" r="1.65" fill="#1ee61e"/>
<circle cx="315.6" cy="54.38" r="1.65" fill="#1ee61e"/>
<circle cx="325.2" cy="54.7" r="1.65" fill="#1ee61e"/>
<circle cx="334.8" cy="55.02" r="1.65" fill="#1ee61e"/>
<circle cx="344.4" cy="55.35" r="1.65" fill="#1ee61e"/>
<circle cx="354" cy="55.67" r="1.65" fill="#1ee61e"/>
<line x1="274" y1="161.9" x2="396.5" y2="161.9" stroke="#d8d8d8" stroke-width="1.5" stroke-dasharray="4.6 4.9"/>
<circle cx="277.2" cy="161.9" r="1.65" fill="#1ee61e"/>
<circle cx="286.8" cy="162.24" r="1.65" fill="#1ee61e"/>
<circle cx="296.4" cy="162.58" r="1.65" fill="#1ee61e"/>
<circle cx="306" cy="162.91" r="1.65" fill="#1ee61e"/>
<circle cx="315.6" cy="163.25" r="1.65" fill="#1ee61e"/>
<circle cx="325.2" cy="163.59" r="1.65" fill="#1ee61e"/>
<circle cx="334.8" cy="163.93" r="1.65" fill="#1ee61e"/>
<circle cx="344.4" cy="164.27" r="1.65" fill="#1ee61e"/>
<circle cx="354" cy="164.6" r="1.65" fill="#1ee61e"/>
<circle cx="363.6" cy="164.94" r="1.65" fill="#1ee61e"/>
<circle cx="373.2" cy="165.28" r="1.65" fill="#1ee61e"/>
<circle cx="382.8" cy="165.62" r="1.65" fill="#1ee61e"/>
<circle cx="392.4" cy="165.96" r="1.65" fill="#1ee61e"/>
<line x1="274" y1="272.2" x2="464" y2="272.2" stroke="#d8d8d8" stroke-width="1.5" stroke-dasharray="4.6 4.9"/>
<circle cx="277.2" cy="271.8" r="1.65" fill="#1ee61e"/>
<circle cx="286.8" cy="272.1" r="1.65" fill="#1ee61e"/>
<circle cx="296.4" cy="272.4" r="1.65" fill="#1ee61e"/>
<circle cx="306" cy="272.69" r="1.65" fill="#1ee61e"/>
<circle cx="315.6" cy="272.99" r="1.65" fill="#1ee61e"/>
<circle cx="325.2" cy="273.29" r="1.65" fill="#1ee61e"/>
<circle cx="334.8" cy="273.59" r="1.65" fill="#1ee61e"/>
<circle cx="344.4" cy="273.89" r="1.65" fill="#1ee61e"/>
<circle cx="354" cy="274.18" r="1.65" fill="#1ee61e"/>
<circle cx="363.6" cy="274.48" r="1.65" fill="#1ee61e"/>
<circle cx="373.2" cy="274.78" r="1.65" fill="#1ee61e"/>
<circle cx="382.8" cy="275.08" r="1.65" fill="#1ee61e"/>
<circle cx="392.4" cy="275.38" r="1.65" fill="#1ee61e"/>
<circle cx="402" cy="275.67" r="1.65" fill="#1ee61e"/>
<circle cx="411.6" cy="275.97" r="1.65" fill="#1ee61e"/>
<circle cx="421.2" cy="276.27" r="1.65" fill="#1ee61e"/>
<circle cx="430.8" cy="276.57" r="1.65" fill="#1ee61e"/>
<circle cx="440.4" cy="276.87" r="1.65" fill="#1ee61e"/>
<circle cx="450" cy="277.17" r="1.65" fill="#1ee61e"/>
<circle cx="459.6" cy="277.46" r="1.65" fill="#1ee61e"/>
<rect x="517" y="13.7" width="166" height="136.8" fill="none" stroke="#3c3c3c" stroke-width="1.3"/>
<line x1="514.4" y1="142" x2="517" y2="142" stroke="#3c3c3c" stroke-width="0.9"/>
<line x1="515.4" y1="131.65" x2="517" y2="131.65" stroke="#3c3c3c" stroke-width="0.9"/>
<line x1="514.4" y1="121.3" x2="517" y2="121.3" stroke="#3c3c3c" stroke-width="0.9"/>
<line x1="515.4" y1="110.95" x2="517" y2="110.95" stroke="#3c3c3c" stroke-width="0.9"/>
<line x1="514.4" y1="100.6" x2="517" y2="100.6" stroke="#3c3c3c" stroke-width="0.9"/>
<line x1="515.4" y1="90.25" x2="517" y2="90.25" stroke="#3c3c3c" stroke-width="0.9"/>
<line x1="514.4" y1="79.9" x2="517" y2="79.9" stroke="#3c3c3c" stroke-width="0.9"/>
<line x1="515.4" y1="69.55" x2="517" y2="69.55" stroke="#3c3c3c" stroke-width="0.9"/>
<line x1="514.4" y1="59.2" x2="517" y2="59.2" stroke="#3c3c3c" stroke-width="0.9"/>
<line x1="515.4" y1="48.85" x2="517" y2="48.85" stroke="#3c3c3c" stroke-width="0.9"/>
<line x1="514.4" y1="38.5" x2="517" y2="38.5" stroke="#3c3c3c" stroke-width="0.9"/>
<line x1="515.4" y1="28.15" x2="517" y2="28.15" stroke="#3c3c3c" stroke-width="0.9"/>
<line x1="514.4" y1="17.8" x2="517" y2="17.8" stroke="#3c3c3c" stroke-width="0.9"/>
<line x1="516.9" y1="150.5" x2="516.9" y2="153.1" stroke="#3c3c3c" stroke-width="0.9"/>
<line x1="530.18" y1="150.5" x2="530.18" y2="152.1" stroke="#3c3c3c" stroke-width="0.9"/>
<line x1="543.46" y1="150.5" x2="543.46" y2="153.1" stroke="#3c3c3c" stroke-width="0.9"/>
<line x1="556.74" y1="150.5" x2="556.74" y2="152.1" stroke="#3c3c3c" stroke-width="0.9"/>
<line x1="570.02" y1="150.5" x2="570.02" y2="153.1" stroke="#3c3c3c" stroke-width="0.9"/>
<line x1="583.3" y1="150.5" x2="583.3" y2="152.1" stroke="#3c3c3c" stroke-width="0.9"/>
<line x1="596.58" y1="150.5" x2="596.58" y2="153.1" stroke="#3c3c3c" stroke-width="0.9"/>
<line x1="609.86" y1="150.5" x2="609.86" y2="152.1" stroke="#3c3c3c" stroke-width="0.9"/>
<line x1="623.14" y1="150.5" x2="623.14" y2="153.1" stroke="#3c3c3c" stroke-width="0.9"/>
<line x1="636.42" y1="150.5" x2="636.42" y2="152.1" stroke="#3c3c3c" stroke-width="0.9"/>
<line x1="649.7" y1="150.5" x2="649.7" y2="153.1" stroke="#3c3c3c" stroke-width="0.9"/>
<line x1="662.98" y1="150.5" x2="662.98" y2="152.1" stroke="#3c3c3c" stroke-width="0.9"/>
<line x1="676.26" y1="150.5" x2="676.26" y2="153.1" stroke="#3c3c3c" stroke-width="0.9"/>
<text x="511" y="145.2" class="sf" font-size="9.6" fill="#000" text-anchor="end">0</text>
<text x="512.9" y="124.5" class="sf" font-size="9.6" fill="#000" text-anchor="end">0.5</text>
<text x="511" y="103.8" class="sf" font-size="9.6" fill="#000" text-anchor="end">1</text>
<text x="512.9" y="83.1" class="sf" font-size="9.6" fill="#000" text-anchor="end">1.5</text>
<text x="511" y="62.4" class="sf" font-size="9.6" fill="#000" text-anchor="end">2</text>
<text x="512.9" y="41.7" class="sf" font-size="9.6" fill="#000" text-anchor="end">2.5</text>
<text x="511" y="21" class="sf" font-size="9.6" fill="#000" text-anchor="end">3</text>
<text x="516.9" y="163" class="sf" font-size="9.6" fill="#000" text-anchor="middle">0</text>
<text x="543.46" y="163" class="sf" font-size="9.6" fill="#000" text-anchor="middle">2</text>
<text x="570.02" y="163" class="sf" font-size="9.6" fill="#000" text-anchor="middle">4</text>
<text x="596.58" y="163" class="sf" font-size="9.6" fill="#000" text-anchor="middle">6</text>
<text x="623.14" y="163" class="sf" font-size="9.6" fill="#000" text-anchor="middle">8</text>
<text x="649.7" y="163" class="sf" font-size="9.6" fill="#000" text-anchor="middle">10</text>
<text x="676.26" y="163" class="sf" font-size="9.6" fill="#000" text-anchor="middle">12</text>
<text x="514.6" y="8.7" class="sf" font-size="9.8" letter-spacing=".35">×10<tspan font-size="6" dy="-3.6">-2</tspan></text>
<text transform="translate(494 79.6) rotate(-90)" class="sf" font-size="10.6" text-anchor="middle">y<tspan font-size="6.5" dy="2.4">0</tspan><tspan dy="-2.4">(mm)</tspan></text>
<text x="603" y="173.6" class="sf" font-size="11.5" fill="#000" text-anchor="middle">z (mm)</text>
<text x="654.3" y="133.1" class="sf" font-size="21" fill="#000">g</text>
<line x1="516.9" y1="142" x2="676.26" y2="23.6" stroke="#3a3a3a" stroke-width="2" stroke-dasharray="7.5 5.5"/>
<polyline points="516.9,142 530.18,140.34 543.46,129.99 556.74,115.09 570.02,102.67 583.3,93.15 596.58,80.73 609.86,71.21 623.14,60.86 636.42,62.93 649.7,54.65 662.98,45.12 676.26,32.7" fill="none" stroke="#35a85a" stroke-width="1.45" stroke-linejoin="round"/>
<path d="M530.18 136.62V144.07M528.68 136.62H531.68M528.68 144.07H531.68" stroke="#35a85a" stroke-width=".8" fill="none" opacity=".8"/>
<path d="M543.46 126.27V133.72M541.96 126.27H544.96M541.96 133.72H544.96" stroke="#35a85a" stroke-width=".8" fill="none" opacity=".8"/>
<path d="M556.74 111.36V118.82M555.24 111.36H558.24M555.24 118.82H558.24" stroke="#35a85a" stroke-width=".8" fill="none" opacity=".8"/>
<path d="M570.02 98.94V106.4M568.52 98.94H571.52M568.52 106.4H571.52" stroke="#35a85a" stroke-width=".8" fill="none" opacity=".8"/>
<path d="M583.3 89.42V96.87M581.8 89.42H584.8M581.8 96.87H584.8" stroke="#35a85a" stroke-width=".8" fill="none" opacity=".8"/>
<path d="M596.58 77V84.45M595.08 77H598.08M595.08 84.45H598.08" stroke="#35a85a" stroke-width=".8" fill="none" opacity=".8"/>
<path d="M609.86 67.48V74.93M608.36 67.48H611.36M608.36 74.93H611.36" stroke="#35a85a" stroke-width=".8" fill="none" opacity=".8"/>
<path d="M623.14 57.13V64.58M621.64 57.13H624.64M621.64 64.58H624.64" stroke="#35a85a" stroke-width=".8" fill="none" opacity=".8"/>
<path d="M636.42 59.2V66.65M634.92 59.2H637.92M634.92 66.65H637.92" stroke="#35a85a" stroke-width=".8" fill="none" opacity=".8"/>
<path d="M649.7 50.92V58.37M648.2 50.92H651.2M648.2 58.37H651.2" stroke="#35a85a" stroke-width=".8" fill="none" opacity=".8"/>
<path d="M662.98 41.4V48.85M661.48 41.4H664.48M661.48 48.85H664.48" stroke="#35a85a" stroke-width=".8" fill="none" opacity=".8"/>
<path d="M676.26 28.98V36.43M674.76 28.98H677.76M674.76 36.43H677.76" stroke="#35a85a" stroke-width=".8" fill="none" opacity=".8"/>
<path d="M516.9 144.42L514.48 140.24L519.32 140.24Z" fill="#35a85a"/>
<path d="M530.18 142.76L527.76 138.58L532.6 138.58Z" fill="#35a85a"/>
<path d="M543.46 132.41L541.04 128.23L545.88 128.23Z" fill="#35a85a"/>
<path d="M556.74 117.51L554.32 113.33L559.16 113.33Z" fill="#35a85a"/>
<path d="M570.02 105.09L567.6 100.91L572.44 100.91Z" fill="#35a85a"/>
<path d="M583.3 95.57L580.88 91.39L585.72 91.39Z" fill="#35a85a"/>
<path d="M596.58 83.15L594.16 78.97L599 78.97Z" fill="#35a85a"/>
<path d="M609.86 73.63L607.44 69.45L612.28 69.45Z" fill="#35a85a"/>
<path d="M623.14 63.28L620.72 59.1L625.56 59.1Z" fill="#35a85a"/>
<path d="M636.42 65.35L634 61.17L638.84 61.17Z" fill="#35a85a"/>
<path d="M649.7 57.07L647.28 52.89L652.12 52.89Z" fill="#35a85a"/>
<path d="M662.98 47.54L660.56 43.36L665.4 43.36Z" fill="#35a85a"/>
<path d="M676.26 35.12L673.84 30.94L678.68 30.94Z" fill="#35a85a"/>
<polyline points="516.9,142 530.18,146.97 543.46,138.69 556.74,120.89 570.02,103.5 583.3,105.15 596.58,91.91 609.86,78.24 623.14,75.35 636.42,70.38 649.7,65.82 662.98,50.92 676.26,46.37" fill="none" stroke="#e8413f" stroke-width="1.45" stroke-linejoin="round"/>
<path d="M530.18 143.24V150.69M528.68 143.24H531.68M528.68 150.69H531.68" stroke="#e8413f" stroke-width=".8" fill="none" opacity=".8"/>
<path d="M543.46 134.96V142.41M541.96 134.96H544.96M541.96 142.41H544.96" stroke="#e8413f" stroke-width=".8" fill="none" opacity=".8"/>
<path d="M556.74 117.16V124.61M555.24 117.16H558.24M555.24 124.61H558.24" stroke="#e8413f" stroke-width=".8" fill="none" opacity=".8"/>
<path d="M570.02 99.77V107.22M568.52 99.77H571.52M568.52 107.22H571.52" stroke="#e8413f" stroke-width=".8" fill="none" opacity=".8"/>
<path d="M583.3 101.43V108.88M581.8 101.43H584.8M581.8 108.88H584.8" stroke="#e8413f" stroke-width=".8" fill="none" opacity=".8"/>
<path d="M596.58 88.18V95.63M595.08 88.18H598.08M595.08 95.63H598.08" stroke="#e8413f" stroke-width=".8" fill="none" opacity=".8"/>
<path d="M609.86 74.52V81.97M608.36 74.52H611.36M608.36 81.97H611.36" stroke="#e8413f" stroke-width=".8" fill="none" opacity=".8"/>
<path d="M623.14 71.62V79.07M621.64 71.62H624.64M621.64 79.07H624.64" stroke="#e8413f" stroke-width=".8" fill="none" opacity=".8"/>
<path d="M636.42 66.65V74.1M634.92 66.65H637.92M634.92 74.1H637.92" stroke="#e8413f" stroke-width=".8" fill="none" opacity=".8"/>
<path d="M649.7 62.1V69.55M648.2 62.1H651.2M648.2 69.55H651.2" stroke="#e8413f" stroke-width=".8" fill="none" opacity=".8"/>
<path d="M662.98 47.19V54.65M661.48 47.19H664.48M661.48 54.65H664.48" stroke="#e8413f" stroke-width=".8" fill="none" opacity=".8"/>
<path d="M676.26 42.64V50.09M674.76 42.64H677.76M674.76 50.09H677.76" stroke="#e8413f" stroke-width=".8" fill="none" opacity=".8"/>
<circle cx="516.9" cy="142" r="2.2" fill="#e8413f"/>
<circle cx="530.18" cy="146.97" r="2.2" fill="#e8413f"/>
<circle cx="543.46" cy="138.69" r="2.2" fill="#e8413f"/>
<circle cx="556.74" cy="120.89" r="2.2" fill="#e8413f"/>
<circle cx="570.02" cy="103.5" r="2.2" fill="#e8413f"/>
<circle cx="583.3" cy="105.15" r="2.2" fill="#e8413f"/>
<circle cx="596.58" cy="91.91" r="2.2" fill="#e8413f"/>
<circle cx="609.86" cy="78.24" r="2.2" fill="#e8413f"/>
<circle cx="623.14" cy="75.35" r="2.2" fill="#e8413f"/>
<circle cx="636.42" cy="70.38" r="2.2" fill="#e8413f"/>
<circle cx="649.7" cy="65.82" r="2.2" fill="#e8413f"/>
<circle cx="662.98" cy="50.92" r="2.2" fill="#e8413f"/>
<circle cx="676.26" cy="46.37" r="2.2" fill="#e8413f"/>
<polyline points="516.9,142 530.18,125.03 543.46,119.23 556.74,105.98 570.02,102.67 583.3,94.39 596.58,83.63 609.86,70.79 623.14,64.58 636.42,54.65 649.7,47.61 662.98,38.91 676.26,30.22" fill="none" stroke="#2a6fe0" stroke-width="1.45" stroke-linejoin="round"/>
<path d="M530.18 121.3V128.75M528.68 121.3H531.68M528.68 128.75H531.68" stroke="#2a6fe0" stroke-width=".8" fill="none" opacity=".8"/>
<path d="M543.46 115.5V122.96M541.96 115.5H544.96M541.96 122.96H544.96" stroke="#2a6fe0" stroke-width=".8" fill="none" opacity=".8"/>
<path d="M556.74 102.26V109.71M555.24 102.26H558.24M555.24 109.71H558.24" stroke="#2a6fe0" stroke-width=".8" fill="none" opacity=".8"/>
<path d="M570.02 98.94V106.4M568.52 98.94H571.52M568.52 106.4H571.52" stroke="#2a6fe0" stroke-width=".8" fill="none" opacity=".8"/>
<path d="M583.3 90.66V98.12M581.8 90.66H584.8M581.8 98.12H584.8" stroke="#2a6fe0" stroke-width=".8" fill="none" opacity=".8"/>
<path d="M596.58 79.9V87.35M595.08 79.9H598.08M595.08 87.35H598.08" stroke="#2a6fe0" stroke-width=".8" fill="none" opacity=".8"/>
<path d="M609.86 67.07V74.52M608.36 67.07H611.36M608.36 74.52H611.36" stroke="#2a6fe0" stroke-width=".8" fill="none" opacity=".8"/>
<path d="M623.14 60.86V68.31M621.64 60.86H624.64M621.64 68.31H624.64" stroke="#2a6fe0" stroke-width=".8" fill="none" opacity=".8"/>
<path d="M636.42 50.92V58.37M634.92 50.92H637.92M634.92 58.37H637.92" stroke="#2a6fe0" stroke-width=".8" fill="none" opacity=".8"/>
<path d="M649.7 43.88V51.33M648.2 43.88H651.2M648.2 51.33H651.2" stroke="#2a6fe0" stroke-width=".8" fill="none" opacity=".8"/>
<path d="M662.98 35.19V42.64M661.48 35.19H664.48M661.48 42.64H664.48" stroke="#2a6fe0" stroke-width=".8" fill="none" opacity=".8"/>
<path d="M676.26 26.49V33.95M674.76 26.49H677.76M674.76 33.95H677.76" stroke="#2a6fe0" stroke-width=".8" fill="none" opacity=".8"/>
<path d="M516.9 139.58L514.48 143.76L519.32 143.76Z" fill="#2a6fe0"/>
<path d="M530.18 122.61L527.76 126.79L532.6 126.79Z" fill="#2a6fe0"/>
<path d="M543.46 116.81L541.04 120.99L545.88 120.99Z" fill="#2a6fe0"/>
<path d="M556.74 103.56L554.32 107.74L559.16 107.74Z" fill="#2a6fe0"/>
<path d="M570.02 100.25L567.6 104.43L572.44 104.43Z" fill="#2a6fe0"/>
<path d="M583.3 91.97L580.88 96.15L585.72 96.15Z" fill="#2a6fe0"/>
<path d="M596.58 81.21L594.16 85.39L599 85.39Z" fill="#2a6fe0"/>
<path d="M609.86 68.37L607.44 72.55L612.28 72.55Z" fill="#2a6fe0"/>
<path d="M623.14 62.16L620.72 66.34L625.56 66.34Z" fill="#2a6fe0"/>
<path d="M636.42 52.23L634 56.41L638.84 56.41Z" fill="#2a6fe0"/>
<path d="M649.7 45.19L647.28 49.37L652.12 49.37Z" fill="#2a6fe0"/>
<path d="M662.98 36.49L660.56 40.67L665.4 40.67Z" fill="#2a6fe0"/>
<path d="M676.26 27.8L673.84 31.98L678.68 31.98Z" fill="#2a6fe0"/>
<rect x="518.6" y="14.8" width="88" height="55.7" fill="#fff" stroke="#b0b0b0" stroke-width=".8"/>
<line x1="519.5" y1="22.9" x2="540.4" y2="22.9" stroke="#3a3a3a" stroke-width="2" stroke-dasharray="7.5 6"/>
<text x="542.7" y="26.3" class="ss" font-size="9.8" fill="#000" textLength="62.3" lengthAdjust="spacingAndGlyphs">Asymptotic limit</text>
<line x1="519.5" y1="34.3" x2="540.4" y2="34.3" stroke="#e8413f" stroke-width="1.6"/>
<circle cx="530" cy="34.3" r="2.2" fill="#e8413f"/>
<text x="542.7" y="37.8" class="ss" font-size="9.8" textLength="25.9" lengthAdjust="spacingAndGlyphs">φ<tspan font-size="6.2" dy="2.3">1</tspan><tspan dy="-2.3">=1/2</tspan></text>
<line x1="519.5" y1="48" x2="540.4" y2="48" stroke="#2a6fe0" stroke-width="1.6"/>
<path d="M530 45.58L527.58 49.76L532.42 49.76Z" fill="#2a6fe0"/>
<text x="542.7" y="51.5" class="ss" font-size="9.8" textLength="25.9" lengthAdjust="spacingAndGlyphs">φ<tspan font-size="6.2" dy="2.3">2</tspan><tspan dy="-2.3">=2/3</tspan></text>
<line x1="519.5" y1="61.3" x2="540.4" y2="61.3" stroke="#35a85a" stroke-width="1.6"/>
<path d="M530 63.72L527.58 59.54L532.42 59.54Z" fill="#35a85a"/>
<text x="542.7" y="64.8" class="ss" font-size="9.8" textLength="25.9" lengthAdjust="spacingAndGlyphs">φ<tspan font-size="6.2" dy="2.3">3</tspan><tspan dy="-2.3">=3/5</tspan></text>
<path d="M683.5 187.4H518V318.5H683.5" fill="none" stroke="#3c3c3c" stroke-width="1.3"/>
<line x1="683.9" y1="187" x2="683.9" y2="319" stroke="#9a9a9a" stroke-width="1.2"/>
<line x1="515.4" y1="317" x2="518" y2="317" stroke="#3c3c3c" stroke-width="0.9"/>
<line x1="516.4" y1="306.21" x2="518" y2="306.21" stroke="#3c3c3c" stroke-width="0.9"/>
<line x1="515.4" y1="295.42" x2="518" y2="295.42" stroke="#3c3c3c" stroke-width="0.9"/>
<line x1="516.4" y1="284.62" x2="518" y2="284.62" stroke="#3c3c3c" stroke-width="0.9"/>
<line x1="515.4" y1="273.83" x2="518" y2="273.83" stroke="#3c3c3c" stroke-width="0.9"/>
<line x1="516.4" y1="263.04" x2="518" y2="263.04" stroke="#3c3c3c" stroke-width="0.9"/>
<line x1="515.4" y1="252.25" x2="518" y2="252.25" stroke="#3c3c3c" stroke-width="0.9"/>
<line x1="516.4" y1="241.45" x2="518" y2="241.45" stroke="#3c3c3c" stroke-width="0.9"/>
<line x1="515.4" y1="230.66" x2="518" y2="230.66" stroke="#3c3c3c" stroke-width="0.9"/>
<line x1="516.4" y1="219.87" x2="518" y2="219.87" stroke="#3c3c3c" stroke-width="0.9"/>
<line x1="515.4" y1="209.07" x2="518" y2="209.07" stroke="#3c3c3c" stroke-width="0.9"/>
<line x1="516.4" y1="198.28" x2="518" y2="198.28" stroke="#3c3c3c" stroke-width="0.9"/>
<line x1="515.4" y1="187.49" x2="518" y2="187.49" stroke="#3c3c3c" stroke-width="0.9"/>
<line x1="525.2" y1="318.5" x2="525.2" y2="321.1" stroke="#3c3c3c" stroke-width="0.9"/>
<line x1="562.98" y1="318.5" x2="562.98" y2="320.1" stroke="#3c3c3c" stroke-width="0.9"/>
<line x1="600.75" y1="318.5" x2="600.75" y2="321.1" stroke="#3c3c3c" stroke-width="0.9"/>
<line x1="638.53" y1="318.5" x2="638.53" y2="320.1" stroke="#3c3c3c" stroke-width="0.9"/>
<line x1="676.3" y1="318.5" x2="676.3" y2="321.1" stroke="#3c3c3c" stroke-width="0.9"/>
<text x="511.1" y="320.2" class="sf" font-size="9.6" fill="#000" text-anchor="end">0</text>
<text x="512.8" y="298.62" class="sf" font-size="9.6" fill="#000" text-anchor="end">0.5</text>
<text x="511.1" y="277.03" class="sf" font-size="9.6" fill="#000" text-anchor="end">1</text>
<text x="512.8" y="255.44" class="sf" font-size="9.6" fill="#000" text-anchor="end">1.5</text>
<text x="511.1" y="233.86" class="sf" font-size="9.6" fill="#000" text-anchor="end">2</text>
<text x="512.8" y="212.27" class="sf" font-size="9.6" fill="#000" text-anchor="end">2.5</text>
<text x="511.1" y="190.69" class="sf" font-size="9.6" fill="#000" text-anchor="end">3</text>
<text x="525.2" y="329.3" class="sf" font-size="9.6" fill="#000" text-anchor="middle">1</text>
<text x="600.75" y="329.3" class="sf" font-size="9.6" fill="#000" text-anchor="middle">2</text>
<text x="676.3" y="329.3" class="sf" font-size="9.6" fill="#000" text-anchor="middle">3</text>
<text x="516.6" y="182.9" class="sf" font-size="9.8" letter-spacing=".3">×10<tspan font-size="6" dy="-3.6">-3</tspan></text>
<text transform="translate(493.9 252.6) rotate(-90)" class="sf" font-size="10" text-anchor="middle">v<tspan font-size="6.2" dy="3.2">n</tspan></text>
<text x="583.6" y="340.6" class="sf" font-size="11.5" fill="#000" textLength="42.2" lengthAdjust="spacingAndGlyphs">nth&#160; BRA</text>
<text x="654.3" y="304.7" class="sf" font-size="21.5" fill="#000">h</text>
<polyline points="525.2,230.66 600.75,209.07 676.3,214.04" fill="none" stroke="#484848" stroke-width="1.5" stroke-dasharray="7 6"/>
<rect x="523.1" y="228.56" width="4.2" height="4.2" fill="#484848"/>
<rect x="598.65" y="206.97" width="4.2" height="4.2" fill="#484848"/>
<rect x="674.2" y="211.94" width="4.2" height="4.2" fill="#484848"/>
<polyline points="525.2,240.59 600.75,219.87 676.3,226.34" fill="none" stroke="#e8413f" stroke-width="1.5" stroke-dasharray="7 6"/>
<circle cx="525.2" cy="240.59" r="2.1" fill="#e8413f"/>
<circle cx="600.75" cy="219.87" r="2.1" fill="#e8413f"/>
<circle cx="676.3" cy="226.34" r="2.1" fill="#e8413f"/>
<polyline points="525.2,236.7 600.75,218.14 676.3,226.34" fill="none" stroke="#2a6fe0" stroke-width="1.5" stroke-dasharray="7 6"/>
<path d="M525.2 234.39L522.89 238.38L527.51 238.38Z" fill="#2a6fe0"/>
<path d="M600.75 215.83L598.44 219.82L603.06 219.82Z" fill="#2a6fe0"/>
<path d="M676.3 224.03L673.99 228.02L678.61 228.02Z" fill="#2a6fe0"/>
<polyline points="525.2,237.57 600.75,220.3 676.3,230.23" fill="none" stroke="#35a85a" stroke-width="1.5" stroke-dasharray="7 6"/>
<path d="M525.2 239.88L522.89 235.89L527.51 235.89Z" fill="#35a85a"/>
<path d="M600.75 222.61L598.44 218.62L603.06 218.62Z" fill="#35a85a"/>
<path d="M676.3 232.54L673.99 228.55L678.61 228.55Z" fill="#35a85a"/>
<rect x="527.9" y="257.4" width="106.1" height="49.1" fill="#fff" stroke="#b0b0b0" stroke-width=".8"/>
<line x1="530.9" y1="264" x2="551.6" y2="264" stroke="#3a3a3a" stroke-width="1.5"/>
<rect x="539.1" y="261.9" width="4.2" height="4.2" fill="#3a3a3a"/>
<text x="555" y="267.4" class="ss" font-size="9.6" fill="#000" textLength="29" lengthAdjust="spacingAndGlyphs">Theory</text>
<line x1="530.9" y1="276.3" x2="551.6" y2="276.3" stroke="#e8413f" stroke-width="1.5"/>
<circle cx="541.2" cy="276.3" r="2.1" fill="#e8413f"/>
<text x="555" y="279.7" class="ss" font-size="9.6" fill="#000" textLength="74.6" lengthAdjust="spacingAndGlyphs">Experiment ,400V</text>
<line x1="530.9" y1="287.7" x2="551.6" y2="287.7" stroke="#2a6fe0" stroke-width="1.5" stroke-dasharray="5 2.5"/>
<path d="M541.2 285.39L538.89 289.38L543.51 289.38Z" fill="#2a6fe0"/>
<text x="555" y="291.1" class="ss" font-size="9.6" fill="#000" textLength="74.6" lengthAdjust="spacingAndGlyphs">Experiment ,600V</text>
<line x1="530.9" y1="299.6" x2="551.6" y2="299.6" stroke="#35a85a" stroke-width="1.5" stroke-dasharray="5 2.5"/>
<path d="M541.2 301.91L538.89 297.92L543.51 297.92Z" fill="#35a85a"/>
<text x="555" y="303" class="ss" font-size="9.6" fill="#000" textLength="74.6" lengthAdjust="spacingAndGlyphs">Experiment ,800V</text>
</svg></body></html>
